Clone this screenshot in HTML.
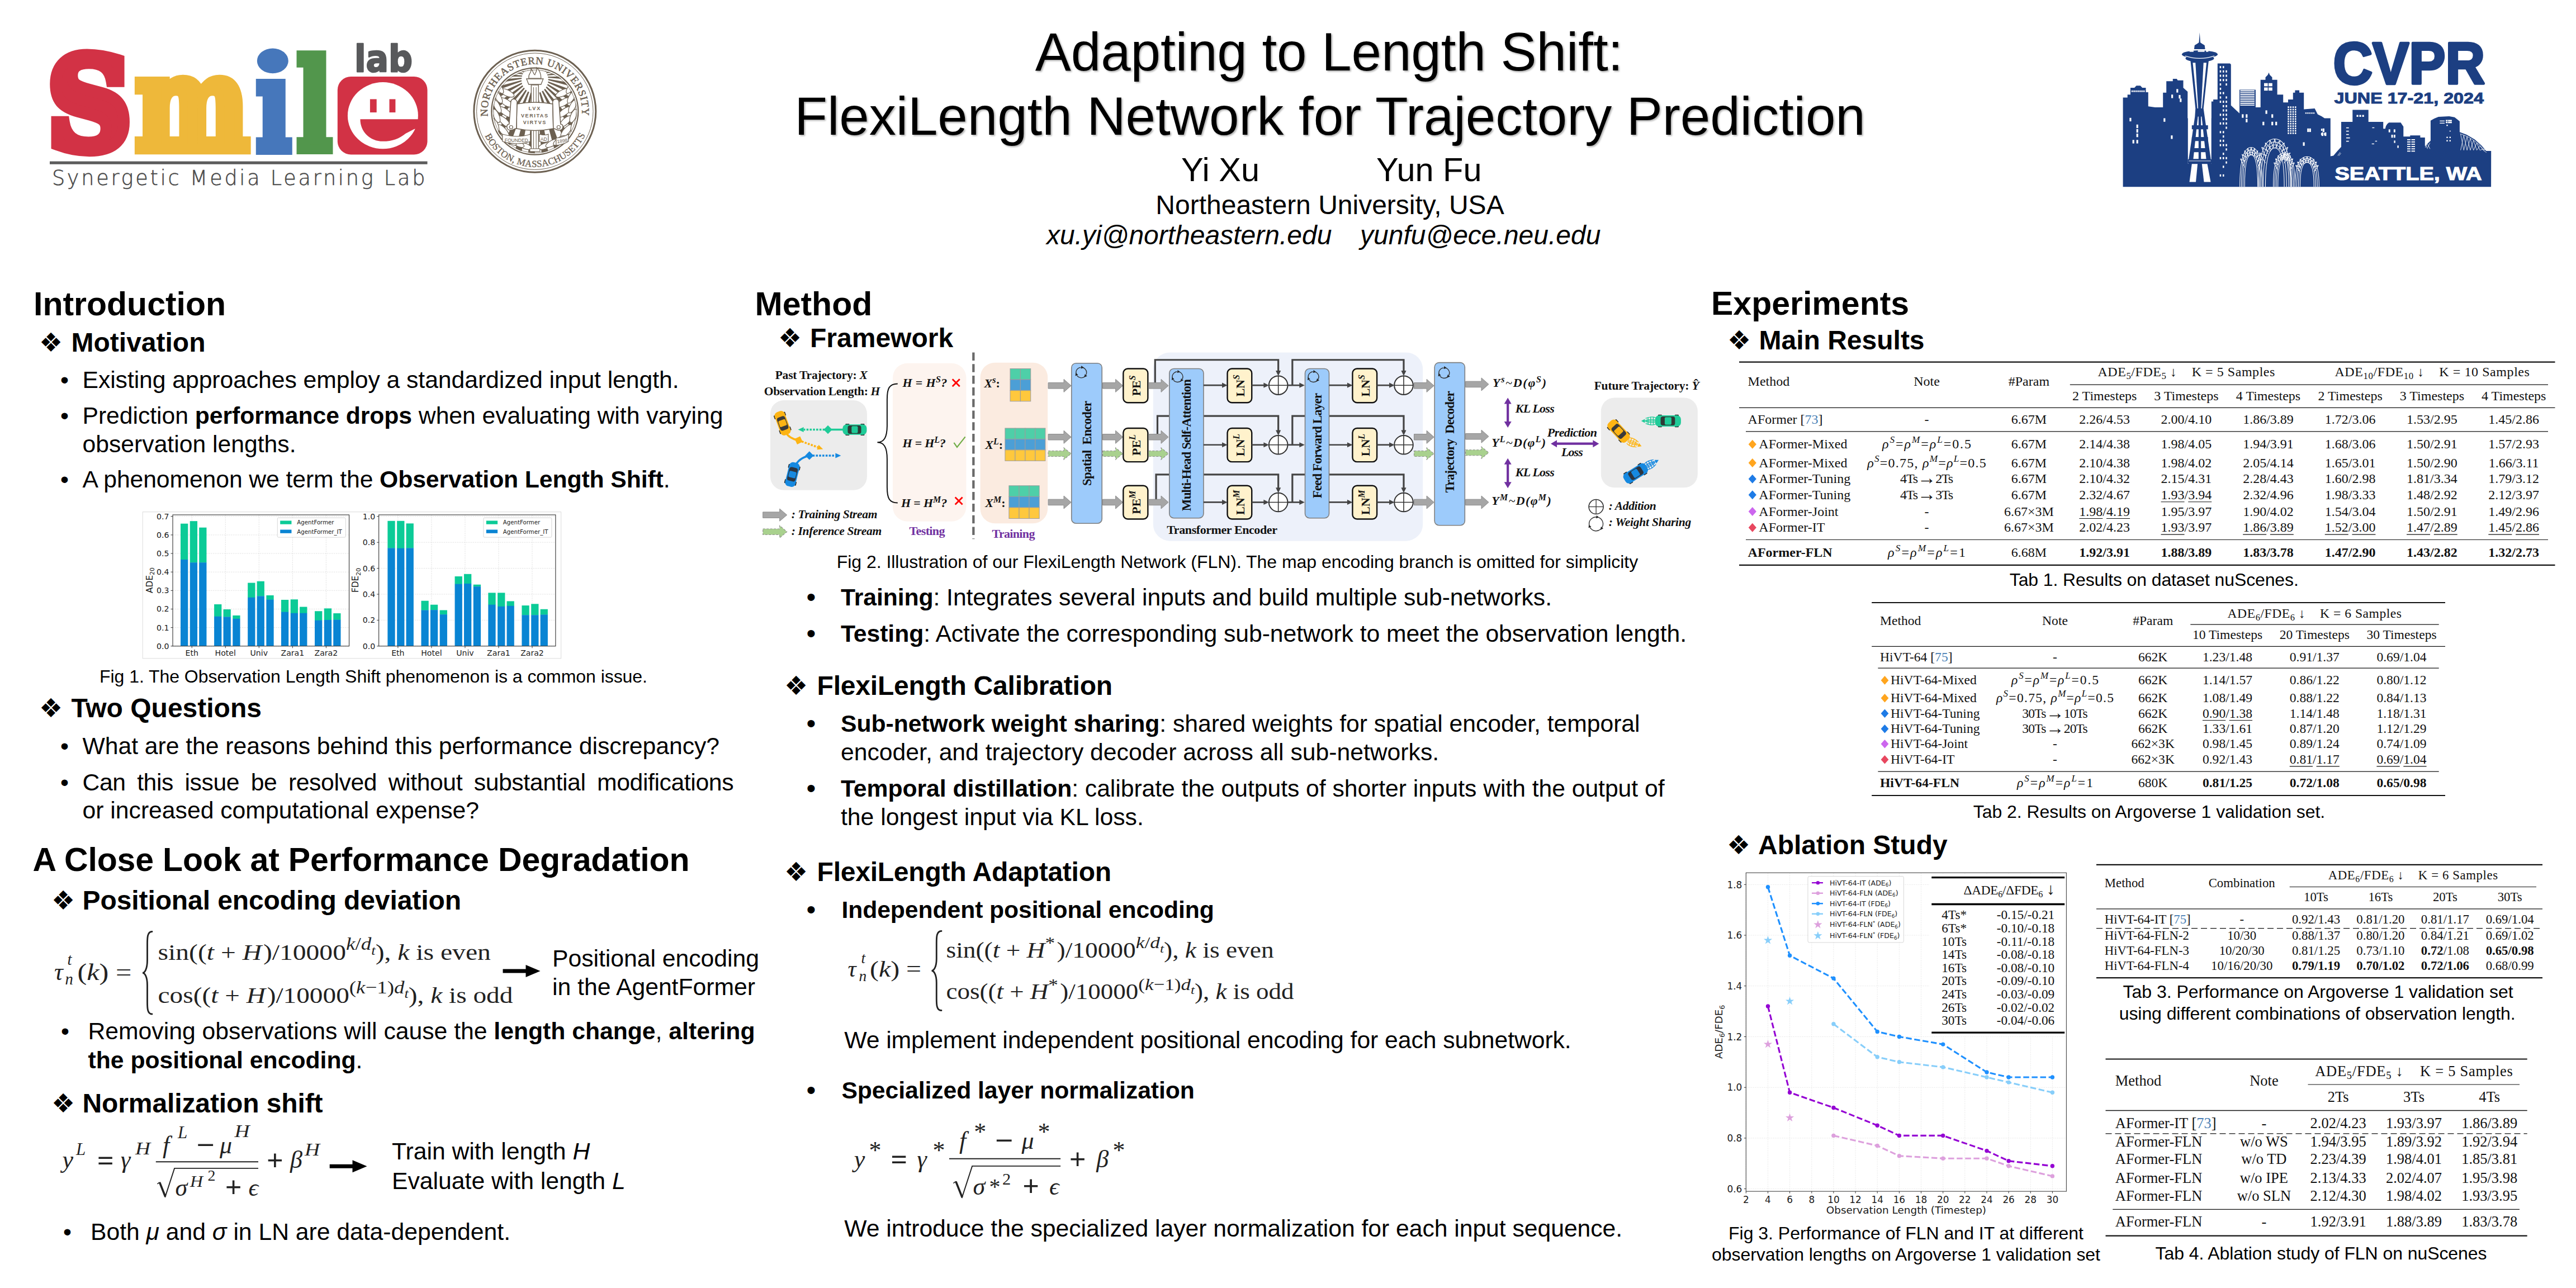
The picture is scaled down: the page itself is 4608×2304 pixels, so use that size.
<!DOCTYPE html>
<html lang="en"><head><meta charset="utf-8"><title>Adapting to Length Shift: FlexiLength Network for Trajectory Prediction</title>
<style>
html,body{margin:0;padding:0;background:#fff}
svg{display:block}
svg{font-family:'Liberation Sans',sans-serif}
text{white-space:pre}
</style></head><body>
<svg width="4608" height="2304" viewBox="0 0 4608 2304">
<defs>
<filter id="tsh" x="-5%" y="-20%" width="110%" height="150%"><feDropShadow dx="2" dy="2" stdDeviation="1.4" flood-color="#000" flood-opacity="0.32"/></filter>
</defs>
<rect width="4608" height="2304" fill="#fff"/>
<g id="text_left">
<text x="2377.5" y="125.5" font-size="96" text-anchor="middle" style="filter:url(#tsh)">Adapting to Length Shift:</text>
<text x="2379" y="241" font-size="96" text-anchor="middle" style="filter:url(#tsh)">FlexiLength Network for Trajectory Prediction</text>
<text x="2113" y="324.3" font-size="59.5">Yi Xu</text>
<text x="2462" y="324.3" font-size="59.5">Yun Fu</text>
<text x="2379" y="382.5" font-size="48" text-anchor="middle">Northeastern University, USA</text>
<text x="1872" y="437" font-size="48" font-style="italic">xu.yi@northeastern.edu</text>
<text x="2433" y="437" font-size="48" font-style="italic">yunfu@ece.neu.edu</text>
<text x="60" y="563.5" font-size="59" font-weight="bold">Introduction</text>
<text x="70" y="628.5" font-size="47" font-family="'DejaVu Sans', sans-serif">❖</text>
<text x="127.5" y="628.5" font-size="48" font-weight="bold">Motivation</text>
<text x="108" y="693.5" font-size="42.7">•</text>
<text x="147.5" y="693.5" font-size="42.7" textLength="1067" lengthAdjust="spacing">Existing approaches employ a standardized input length.</text>
<text x="108" y="758.3" font-size="42.7">•</text>
<text x="147.5" y="758.3" font-size="42.7" textLength="1146" lengthAdjust="spacing">Prediction <tspan font-weight="bold">performance drops</tspan> when evaluating with varying</text>
<text x="147.5" y="808.8" font-size="42.7">observation lengths.</text>
<text x="108" y="872.4" font-size="42.7">•</text>
<text x="147.5" y="872.4" font-size="42.7" textLength="1051" lengthAdjust="spacing">A phenomenon we term the <tspan font-weight="bold">Observation Length Shift</tspan>.</text>
<text x="178" y="1220.8" font-size="32" textLength="980" lengthAdjust="spacing">Fig 1. The Observation Length Shift phenomenon is a common issue.</text>
<text x="70" y="1283" font-size="47" font-family="'DejaVu Sans', sans-serif">❖</text>
<text x="127.5" y="1283" font-size="48" font-weight="bold">Two Questions</text>
<text x="108" y="1348.5" font-size="42.7">•</text>
<text x="147.5" y="1348.5" font-size="42.7" textLength="1139.5" lengthAdjust="spacing">What are the reasons behind this performance discrepancy?</text>
<text x="108" y="1413.7" font-size="42.7">•</text>
<text x="147.5" y="1413.7" font-size="42.7" textLength="1165" lengthAdjust="spacing" word-spacing="9">Can this issue be resolved without substantial modifications</text>
<text x="147.5" y="1464.2" font-size="42.7">or increased computational expense?</text>
<text x="58.5" y="1557.7" font-size="59" font-weight="bold" textLength="1175" lengthAdjust="spacing">A Close Look at Performance Degradation</text>
<text x="92" y="1627.3" font-size="47" font-family="'DejaVu Sans', sans-serif">❖</text>
<text x="147.5" y="1627.3" font-size="48" font-weight="bold" textLength="677.5" lengthAdjust="spacing">Positional encoding deviation</text>
<text x="988" y="1728.7" font-size="42.7" textLength="370" lengthAdjust="spacing">Positional encoding</text>
<text x="988" y="1780.3" font-size="42.7">in the AgentFormer</text>
<text x="109" y="1859" font-size="42.7">•</text>
<text x="157.5" y="1859" font-size="42.7" textLength="1193" lengthAdjust="spacing">Removing observations will cause the <tspan font-weight="bold">length change</tspan>, <tspan font-weight="bold">altering</tspan></text>
<text x="157.5" y="1910.8" font-size="42.7"><tspan font-weight="bold">the positional encoding</tspan>.</text>
<text x="92" y="1989.6" font-size="47" font-family="'DejaVu Sans', sans-serif">❖</text>
<text x="147.5" y="1989.6" font-size="48" font-weight="bold" textLength="430" lengthAdjust="spacing">Normalization shift</text>
<text x="701" y="2073.8" font-size="42.7">Train with length <tspan font-style="italic">H</tspan></text>
<text x="701" y="2126.5" font-size="42.7">Evaluate with length <tspan font-style="italic">L</tspan></text>
<text x="113" y="2217.9" font-size="42.7">•</text>
<text x="162" y="2217.9" font-size="42.7" textLength="751" lengthAdjust="spacing">Both <tspan font-style="italic">μ</tspan> and <tspan font-style="italic">σ</tspan> in LN are data-dependent.</text>
</g>
<g id="text_mid">
<text x="1350.5" y="563.5" font-size="59" font-weight="bold">Method</text>
<text x="1392" y="620.7" font-size="47" font-family="'DejaVu Sans', sans-serif">❖</text>
<text x="1449" y="620.7" font-size="48" font-weight="bold">Framework</text>
<text x="1496.7" y="1015.5" font-size="32" textLength="1433.5" lengthAdjust="spacing">Fig 2. Illustration of our FlexiLength Network (FLN). The map encoding branch is omitted for simplicity</text>
<text x="1442.6" y="1083.9" font-size="48">•</text>
<text x="1504" y="1082.8" font-size="42.7" textLength="1272" lengthAdjust="spacing"><tspan font-weight="bold">Training</tspan>: Integrates several inputs and build multiple sub-networks.</text>
<text x="1442.6" y="1149.4" font-size="48">•</text>
<text x="1504" y="1148.3" font-size="42.7" textLength="1513" lengthAdjust="spacing"><tspan font-weight="bold">Testing</tspan>: Activate the corresponding sub-network to meet the observation length.</text>
<text x="1403" y="1242.8" font-size="47" font-family="'DejaVu Sans', sans-serif">❖</text>
<text x="1461.6" y="1242.8" font-size="48" font-weight="bold" textLength="528.5" lengthAdjust="spacing">FlexiLength Calibration</text>
<text x="1442.6" y="1310.1" font-size="48">•</text>
<text x="1504" y="1309" font-size="42.7" textLength="1429.5" lengthAdjust="spacing"><tspan font-weight="bold">Sub-network weight sharing</tspan>: shared weights for spatial encoder, temporal</text>
<text x="1504" y="1359.7" font-size="42.7">encoder, and trajectory decoder across all sub-networks.</text>
<text x="1442.6" y="1426.3" font-size="48">•</text>
<text x="1504" y="1425.2" font-size="42.7" textLength="1473.5" lengthAdjust="spacing"><tspan font-weight="bold">Temporal distillation</tspan>: calibrate the outputs of shorter inputs with the output of</text>
<text x="1504" y="1475.8" font-size="42.7">the longest input via KL loss.</text>
<text x="1403" y="1576.3" font-size="47" font-family="'DejaVu Sans', sans-serif">❖</text>
<text x="1461.6" y="1576.3" font-size="48" font-weight="bold" textLength="526.5" lengthAdjust="spacing">FlexiLength Adaptation</text>
<text x="1442.6" y="1642.9" font-size="48">•</text>
<text x="1505.4" y="1641.8" font-size="42.7" font-weight="bold" textLength="666.5" lengthAdjust="spacing">Independent positional encoding</text>
<text x="1510.2" y="1874.8" font-size="42.7" textLength="1300.5" lengthAdjust="spacing">We implement independent positional encoding for each subnetwork.</text>
<text x="1442.6" y="1965.7" font-size="48">•</text>
<text x="1505.4" y="1964.6" font-size="42.7" font-weight="bold" textLength="631.5" lengthAdjust="spacing">Specialized layer normalization</text>
<text x="1510.2" y="2212.4" font-size="42.7" textLength="1392" lengthAdjust="spacing">We introduce the specialized layer normalization for each input sequence.</text>
</g>
<g id="text_right">
<text x="3061" y="563.3" font-size="59" font-weight="bold">Experiments</text>
<text x="3090" y="625.2" font-size="47" font-family="'DejaVu Sans', sans-serif">❖</text>
<text x="3146.5" y="625.2" font-size="48" font-weight="bold">Main Results</text>
<text x="3594.8" y="1047.6" font-size="32" textLength="517" lengthAdjust="spacing">Tab 1. Results on dataset nuScenes.</text>
<text x="3529.7" y="1463" font-size="32" textLength="629.5" lengthAdjust="spacing">Tab 2. Results on Argoverse 1 validation set.</text>
<text x="3089" y="1528" font-size="47" font-family="'DejaVu Sans', sans-serif">❖</text>
<text x="3145" y="1528" font-size="48" font-weight="bold">Ablation Study</text>
<text x="3092" y="2216.8" font-size="32" textLength="635" lengthAdjust="spacing">Fig 3. Performance of FLN and IT at different</text>
<text x="3062" y="2255.2" font-size="32" textLength="695" lengthAdjust="spacing">observation lengths on Argoverse 1 validation set</text>
<text x="3797.6" y="1785.4" font-size="32" textLength="698" lengthAdjust="spacing">Tab 3. Performance on Argoverse 1 validation set</text>
<text x="3790.7" y="1824" font-size="32" textLength="709" lengthAdjust="spacing">using different combinations of observation length.</text>
<text x="3855.5" y="2253" font-size="32" textLength="593" lengthAdjust="spacing">Tab 4. Ablation study of FLN on nuScenes</text>
</g>
<g id="logos">
<g transform="translate(85.92,266.23) scale(2.0504,2.2419)"><text x="0" y="0" font-family="'DejaVu Serif', serif" font-weight="bold" font-size="100" fill="#D23245" stroke="#D23245" stroke-width="10" stroke-linejoin="miter">S</text></g>
<g transform="translate(241.96,267.33) scale(1.9231,2.3187)"><text x="0" y="0" font-family="'DejaVu Serif', serif" font-weight="bold" font-size="100" fill="#EEB83A" stroke="#EEB83A" stroke-width="8" stroke-linejoin="miter">m</text></g>
<g transform="translate(458.81,267.53) scale(1.6200,2.2683)"><text x="0" y="0" font-family="'DejaVu Serif', serif" font-weight="bold" font-size="100" fill="#4677BB" stroke="#4677BB" stroke-width="8" stroke-linejoin="miter">ı</text></g>
<ellipse cx="487.8" cy="108.9" rx="28" ry="22.4" fill="#4677BB"/>
<g transform="translate(531.41,266.67) scale(1.6200,2.2059)"><text x="0" y="0" font-family="'DejaVu Serif', serif" font-weight="bold" font-size="100" fill="#52964C" stroke="#52964C" stroke-width="8" stroke-linejoin="miter">l</text></g>
<rect x="603.8" y="136.9" width="160.7" height="139.7" rx="24" fill="#D23245"/>
<ellipse cx="684.9" cy="206.7" rx="63" ry="59.6" fill="#fff"/>
<path d="M644.4,213.2 L756,213.2 L756,227 L740.8,231.1 L725.4,238.9 C715,247.5 702,252.8 684.9,252.8 C662,252.8 644.4,236 644.4,213.2 Z" fill="#D23245"/>
<rect x="661.9" y="177.4" width="11.8" height="23.7" fill="#D23245"/><rect x="696.5" y="177.4" width="10.9" height="23.7" fill="#D23245"/>
<text x="634" y="127.5" font-family="'DejaVu Sans', sans-serif" font-weight="bold" font-size="66" fill="#58595B" stroke="#58595B" stroke-width="2.5" stroke-linejoin="round" textLength="104" lengthAdjust="spacingAndGlyphs">lab</text>
<rect x="89" y="288.6" width="675.5" height="5.2" fill="#5d5d5d"/>
<text x="92.9" y="330.5" font-family="'DejaVu Sans Light','DejaVu Sans',sans-serif" font-weight="200" font-size="36.5" fill="#4a4a4a" stroke="#4a4a4a" stroke-width="0.55" textLength="667.4" lengthAdjust="spacing">Synergetic Media Learning Lab</text>
<circle cx="956.8" cy="199.2" r="109" fill="#fff" stroke="#6C6051" stroke-width="3"/>
<circle cx="956.8" cy="199.2" r="104.2" fill="none" stroke="#6C6051" stroke-width="1"/>
<clipPath id="sealclip"><circle cx="956.8" cy="199.2" r="75"/></clipPath>
<g clip-path="url(#sealclip)"><path d="M956.8,137 L1126.8,137.0 L1126.2,151.8 Z M956.8,137 L1124.2,166.5 L1121.0,181.0 Z M956.8,137 L1116.5,195.1 L1110.9,208.8 Z M956.8,137 L1104.0,222.0 L1096.1,234.5 Z M956.8,137 L1087.0,246.3 L1077.0,257.2 Z M956.8,137 L1066.1,267.2 L1054.3,276.3 Z M956.8,137 L1041.8,284.2 L1028.6,291.1 Z M956.8,137 L1014.9,296.7 L1000.8,301.2 Z M956.8,137 L986.3,304.4 L971.6,306.4 Z M956.8,137 L956.8,307.0 L942.0,306.4 Z M956.8,137 L927.3,304.4 L912.8,301.2 Z M956.8,137 L898.7,296.7 L885.0,291.1 Z M956.8,137 L871.8,284.2 L859.3,276.3 Z M956.8,137 L847.5,267.2 L836.6,257.2 Z M956.8,137 L826.6,246.3 L817.5,234.5 Z M956.8,137 L809.6,222.0 L802.7,208.8 Z M956.8,137 L797.1,195.1 L792.6,181.0 Z M956.8,137 L789.4,166.5 L787.4,151.8 Z M956.8,137 L786.8,137.0 L787.4,122.2 Z M956.8,137 L789.4,107.5 L792.6,93.0 Z M956.8,137 L797.1,78.9 L802.7,65.2 Z M956.8,137 L809.6,52.0 L817.5,39.5 Z M956.8,137 L826.6,27.7 L836.6,16.8 Z M956.8,137 L847.5,6.8 L859.3,-2.3 Z M956.8,137 L871.8,-10.2 L885.0,-17.1 Z M956.8,137 L898.7,-22.7 L912.8,-27.2 Z M956.8,137 L927.3,-30.4 L942.0,-32.4 Z M956.8,137 L956.8,-33.0 L971.6,-32.4 Z M956.8,137 L986.3,-30.4 L1000.8,-27.2 Z M956.8,137 L1014.9,-22.7 L1028.6,-17.1 Z M956.8,137 L1041.8,-10.2 L1054.3,-2.3 Z M956.8,137 L1066.1,6.8 L1077.0,16.8 Z M956.8,137 L1087.0,27.7 L1096.1,39.5 Z M956.8,137 L1104.0,52.0 L1110.9,65.2 Z M956.8,137 L1116.5,78.9 L1121.0,93.0 Z M956.8,137 L1124.2,107.5 L1126.2,122.2 Z" fill="#6C6051"/><circle cx="956.8" cy="143" r="24" fill="#fff"/><ellipse cx="898.8" cy="251.2" rx="14" ry="5.5" fill="#fff" stroke="#6C6051" stroke-width="1.2" transform="rotate(55 898.8 251.2)"/><ellipse cx="884.8" cy="241.2" rx="13" ry="5" fill="#fff" stroke="#6C6051" stroke-width="1.2" transform="rotate(75 884.8 241.2)"/><ellipse cx="900.4" cy="234.2" rx="14" ry="5.5" fill="#fff" stroke="#6C6051" stroke-width="1.2" transform="rotate(49 900.4 234.2)"/><ellipse cx="886.3" cy="224.2" rx="13" ry="5" fill="#fff" stroke="#6C6051" stroke-width="1.2" transform="rotate(71 886.3 224.2)"/><ellipse cx="902.0" cy="217.2" rx="14" ry="5.5" fill="#fff" stroke="#6C6051" stroke-width="1.2" transform="rotate(43 902.0 217.2)"/><ellipse cx="887.8" cy="207.2" rx="13" ry="5" fill="#fff" stroke="#6C6051" stroke-width="1.2" transform="rotate(67 887.8 207.2)"/><ellipse cx="903.6" cy="200.2" rx="14" ry="5.5" fill="#fff" stroke="#6C6051" stroke-width="1.2" transform="rotate(37 903.6 200.2)"/><ellipse cx="889.3" cy="190.2" rx="13" ry="5" fill="#fff" stroke="#6C6051" stroke-width="1.2" transform="rotate(63 889.3 190.2)"/><ellipse cx="905.2" cy="183.2" rx="14" ry="5.5" fill="#fff" stroke="#6C6051" stroke-width="1.2" transform="rotate(31 905.2 183.2)"/><ellipse cx="890.8" cy="173.2" rx="13" ry="5" fill="#fff" stroke="#6C6051" stroke-width="1.2" transform="rotate(59 890.8 173.2)"/><ellipse cx="906.8" cy="166.2" rx="14" ry="5.5" fill="#fff" stroke="#6C6051" stroke-width="1.2" transform="rotate(25 906.8 166.2)"/><ellipse cx="892.3" cy="156.2" rx="13" ry="5" fill="#fff" stroke="#6C6051" stroke-width="1.2" transform="rotate(55 892.3 156.2)"/><ellipse cx="1014.8" cy="251.2" rx="14" ry="5.5" fill="#fff" stroke="#6C6051" stroke-width="1.2" transform="rotate(-55 1014.8 251.2)"/><ellipse cx="1028.8" cy="241.2" rx="13" ry="5" fill="#fff" stroke="#6C6051" stroke-width="1.2" transform="rotate(-75 1028.8 241.2)"/><ellipse cx="1013.2" cy="234.2" rx="14" ry="5.5" fill="#fff" stroke="#6C6051" stroke-width="1.2" transform="rotate(-49 1013.2 234.2)"/><ellipse cx="1027.3" cy="224.2" rx="13" ry="5" fill="#fff" stroke="#6C6051" stroke-width="1.2" transform="rotate(-71 1027.3 224.2)"/><ellipse cx="1011.6" cy="217.2" rx="14" ry="5.5" fill="#fff" stroke="#6C6051" stroke-width="1.2" transform="rotate(-43 1011.6 217.2)"/><ellipse cx="1025.8" cy="207.2" rx="13" ry="5" fill="#fff" stroke="#6C6051" stroke-width="1.2" transform="rotate(-67 1025.8 207.2)"/><ellipse cx="1010.0" cy="200.2" rx="14" ry="5.5" fill="#fff" stroke="#6C6051" stroke-width="1.2" transform="rotate(-37 1010.0 200.2)"/><ellipse cx="1024.3" cy="190.2" rx="13" ry="5" fill="#fff" stroke="#6C6051" stroke-width="1.2" transform="rotate(-63 1024.3 190.2)"/><ellipse cx="1008.4" cy="183.2" rx="14" ry="5.5" fill="#fff" stroke="#6C6051" stroke-width="1.2" transform="rotate(-31 1008.4 183.2)"/><ellipse cx="1022.8" cy="173.2" rx="13" ry="5" fill="#fff" stroke="#6C6051" stroke-width="1.2" transform="rotate(-59 1022.8 173.2)"/><ellipse cx="1006.8" cy="166.2" rx="14" ry="5.5" fill="#fff" stroke="#6C6051" stroke-width="1.2" transform="rotate(-25 1006.8 166.2)"/><ellipse cx="1021.3" cy="156.2" rx="13" ry="5" fill="#fff" stroke="#6C6051" stroke-width="1.2" transform="rotate(-55 1021.3 156.2)"/><ellipse cx="938.8" cy="261.2" rx="13" ry="5" fill="#fff" stroke="#6C6051" stroke-width="1.2" transform="rotate(20 938.8 261.2)"/><ellipse cx="925.8" cy="256.2" rx="13" ry="5" fill="#fff" stroke="#6C6051" stroke-width="1.2" transform="rotate(28 925.8 256.2)"/><ellipse cx="912.8" cy="251.2" rx="13" ry="5" fill="#fff" stroke="#6C6051" stroke-width="1.2" transform="rotate(36 912.8 251.2)"/><ellipse cx="974.8" cy="261.2" rx="13" ry="5" fill="#fff" stroke="#6C6051" stroke-width="1.2" transform="rotate(-20 974.8 261.2)"/><ellipse cx="987.8" cy="256.2" rx="13" ry="5" fill="#fff" stroke="#6C6051" stroke-width="1.2" transform="rotate(-28 987.8 256.2)"/><ellipse cx="1000.8" cy="251.2" rx="13" ry="5" fill="#fff" stroke="#6C6051" stroke-width="1.2" transform="rotate(-36 1000.8 251.2)"/></g>
<circle cx="956.8" cy="199.2" r="77.5" fill="none" stroke="#6C6051" stroke-width="2.2"/>
<circle cx="956.8" cy="199.2" r="74" fill="none" stroke="#6C6051" stroke-width="0.8"/>
<rect x="950.3" y="152" width="13" height="118" fill="#fff" stroke="#6C6051" stroke-width="1.3"/>
<path d="M954.5,156 V268 M959.0999999999999,156 V268" stroke="#6C6051" stroke-width="1"/>
<path d="M941.8,141 H971.8 L967.8,151 H945.8 Z" fill="#fff" stroke="#6C6051" stroke-width="1.3"/>
<path d="M945.8,140 C944.8,130 951.8,131 949.8,123 C954.8,128 953.8,133 956.8,134 C957.8,128 961.8,128 959.8,121 C966.8,127 967.8,134 967.8,140 Z" fill="#fff" stroke="#6C6051" stroke-width="1.2"/>
<rect x="947.8" y="266" width="18" height="5" fill="#fff" stroke="#6C6051" stroke-width="1.1"/>
<path d="M898.8,240 Q926.8,248 948.8,240 V253 Q926.8,261 898.8,253 Z" fill="#fff" stroke="#6C6051" stroke-width="1.2"/>
<path d="M964.8,240 Q974.8,243 980.8,240 V253 Q974.8,256 964.8,253 Z" fill="#fff" stroke="#6C6051" stroke-width="1.2"/>
<path d="M994.8,247 Q1006.8,246 1016.8,240 V253 Q1006.8,259 994.8,260 Z" fill="#fff" stroke="#6C6051" stroke-width="1.2"/>
<text x="923.8" y="254" font-size="8.6" fill="#6C6051" text-anchor="middle" textLength="42" lengthAdjust="spacing">FOUNDED</text>
<text x="972.8" y="252" font-size="8.6" fill="#6C6051" text-anchor="middle">AD</text>
<text x="1005.8" y="255" font-size="8.6" fill="#6C6051" text-anchor="middle" transform="rotate(-8 1005.8 252)">1898</text>
<path d="M924.8,186 Q956.8,180 988.8,186 L989.8,230 Q956.8,237 923.8,230 Z" fill="#fff" stroke="#6C6051" stroke-width="1.5"/>
<path d="M924.8,186 C926.8,176 914.8,174 913.8,182 L910.8,222 C904.8,222 904.8,233 913.8,233 C918.8,233 920.8,229 923.8,230 Z" fill="#fff" stroke="#6C6051" stroke-width="1.5"/>
<circle cx="914.3" cy="227.5" r="3" fill="none" stroke="#6C6051" stroke-width="1.2"/>
<path d="M988.8,186 C986.8,176 998.8,174 999.8,182 L1002.8,222 C1008.8,222 1008.8,233 999.8,233 C994.8,233 992.8,229 989.8,230 Z" fill="#fff" stroke="#6C6051" stroke-width="1.5"/>
<circle cx="999.3" cy="227.5" r="3" fill="none" stroke="#6C6051" stroke-width="1.2"/>
<text x="956.8" y="196.5" font-size="9" fill="#6C6051" text-anchor="middle" font-weight="bold" letter-spacing="2">LVX</text>
<text x="956.8" y="209.5" font-size="9" fill="#6C6051" text-anchor="middle" font-weight="bold" letter-spacing="1.6">VERITAS</text>
<text x="956.8" y="221.5" font-size="9" fill="#6C6051" text-anchor="middle" font-weight="bold" letter-spacing="1.6">VIRTVS</text>
<path id="sealtop" d="M872.76,208.03 A84.5,84.5 0 1 1 1040.84,208.03" fill="none"/>
<text font-family="'Liberation Serif', serif" font-size="18.6" fill="#6C6051" stroke="#6C6051" stroke-width="0.5"><textPath href="#sealtop" textLength="281.2" lengthAdjust="spacing">NORTHEASTERN UNIVERSITY</textPath></text>
<path id="sealbot" d="M867.37,242.82 A99.5,99.5 0 0 0 1047.70,239.67" fill="none"/>
<text font-family="'Liberation Serif', serif" font-size="17" fill="#6C6051" stroke="#6C6051" stroke-width="0.3"><textPath href="#sealbot" textLength="223.8" lengthAdjust="spacing">BOSTON, MASSACHUSETTS</textPath></text>
<polygon points="3797.6,334.2 3797.6,174.5 3805.7,174.5 3805.7,169.2 3811.0,169.2 3811.0,156.9 3818.1,156.9 3821.6,153.3 3828.7,153.3 3832.2,156.9 3838.5,156.9 3838.5,165.0 3842.8,165.0 3842.8,190.3 3855.1,192.1 3869.2,192.1 3869.2,165.7 3875.2,165.7 3875.2,145.2 3886.8,145.2 3886.8,141.0 3893.9,141.0 3895.6,143.8 3905.5,143.8 3905.5,156.9 3913.3,163.9 3913.3,211.5 3955.5,211.5 3955.5,181.5 3959.1,181.5 3959.1,178.0 3966.8,178.0 3966.8,113.5 3989.0,113.5 3990.8,115.3 3990.8,188.6 4006.0,202.7 4006.0,160.4 4034.9,160.4 4034.9,192.1 4043.7,192.1 4043.7,142.8 4052.5,142.8 4052.5,138.2 4056.7,133.9 4058.5,129.7 4060.2,133.9 4064.5,138.2 4064.5,142.8 4073.6,142.8 4073.6,169.2 4084.2,169.2 4084.2,183.3 4093.0,183.3 4093.0,178.0 4101.8,178.0 4101.8,165.7 4105.4,165.7 4105.4,161.4 4113.1,161.4 4113.1,165.7 4121.2,165.7 4121.2,195.6 4140.6,193.9 4145.9,204.4 4152.9,208.0 4158.2,211.5 4168.8,211.5 4168.8,279.6 4174.1,278.4 4181.3,269.9 4188.0,262.7 4188.0,218.1 4208.3,218.1 4208.3,196.5 4236.7,196.5 4236.7,218.1 4263.2,218.1 4263.2,230.2 4266.8,230.2 4268.0,225.4 4270.4,221.8 4273.3,219.3 4294.5,219.3 4296.9,223.0 4299.3,226.6 4299.3,244.2 4311.3,244.2 4311.3,242.2 4329.4,242.2 4329.4,245.9 4337.8,245.9 4337.8,261.5 4342.6,256.7 4347.9,251.8 4347.9,215.8 4354.6,212.1 4361.9,209.0 4381.1,208.0 4390.8,209.7 4395.6,213.4 4399.9,217.0 4399.9,236.2 4412.4,241.0 4426.9,249.5 4438.9,260.3 4447.3,269.9 4456.2,269.9 4456.1,334.2" fill="#1C3F82"/>
<rect x="3913.8" y="174.8" width="41.9" height="117.9" fill="#fff"/>
<polygon points="3934.8,58.1 3936.0,76.1 3938.8,78.0 3943.7,80.9 3944.6,88.1 3924.9,88.1 3925.8,80.9 3930.7,78.0 3933.5,76.1" fill="#1C3F82"/>
<ellipse cx="3935.0" cy="97.3" rx="32.0" ry="7.2" fill="#1C3F82"/>
<ellipse cx="3935.0" cy="104.5" rx="25.5" ry="6.3" fill="#1C3F82"/>
<path d="M3908.8,100.2 Q3935.0,108.6 3961.2,100.2" fill="none" stroke="#fff" stroke-width="1.3"/>
<rect x="3916.7" y="90.3" width="7.2" height="2.4" fill="#fff"/>
<rect x="3931.6" y="90.3" width="12.0" height="2.4" fill="#fff"/>
<rect x="3946.1" y="90.3" width="4.3" height="2.4" fill="#fff"/>
<polygon points="3918.4,108.6 3950.9,108.6 3941.7,194.0 3943.7,208.5 3955.2,287.9 3956.9,326.4 3915.3,326.4 3914.8,287.9 3926.3,208.5 3927.3,194.0" fill="#1C3F82"/>
<polygon points="3922.5,112.2 3927.3,112.2 3932.1,194.0 3930.7,194.0" fill="#fff"/>
<polygon points="3941.7,112.2 3947.0,112.2 3938.8,194.0 3937.4,194.0" fill="#fff"/>
<polygon points="3931.6,208.5 3932.8,208.5 3932.8,284.3 3923.4,284.3" fill="#fff"/>
<polygon points="3937.2,208.5 3938.4,208.5 3946.5,284.3 3937.2,284.3" fill="#fff"/>
<rect x="3920.8" y="224.1" width="28.9" height="7.2" fill="#1C3F82"/>
<rect x="3920.8" y="245.1" width="28.9" height="7.2" fill="#1C3F82"/>
<rect x="3920.8" y="265.0" width="28.9" height="7.2" fill="#1C3F82"/>
<rect x="3913.8" y="285.0" width="42.4" height="7.2" fill="#1C3F82"/>
<line x1="3915.3" x2="3954.7" y1="287.9" y2="287.9" stroke="#fff" stroke-width="0.9"/>
<polygon points="3920.8,293.2 3931.1,293.2 3928.0,325.4 3916.5,325.4" fill="#fff"/>
<polygon points="3938.8,293.2 3948.5,293.2 3954.5,325.4 3942.5,325.4" fill="#fff"/>
<rect x="3970.7" y="118.1" width="2.5" height="3.9" fill="#fff"/>
<rect x="3976.0" y="118.1" width="2.5" height="3.9" fill="#fff"/>
<rect x="3970.7" y="125.8" width="2.5" height="3.9" fill="#fff"/>
<rect x="3976.0" y="125.8" width="2.5" height="3.9" fill="#fff"/>
<rect x="3981.3" y="125.8" width="2.5" height="3.9" fill="#fff"/>
<rect x="3970.7" y="133.6" width="2.5" height="3.9" fill="#fff"/>
<rect x="3976.0" y="133.6" width="2.5" height="3.9" fill="#fff"/>
<rect x="3981.3" y="133.6" width="2.5" height="3.9" fill="#fff"/>
<rect x="3970.7" y="141.3" width="2.5" height="3.9" fill="#fff"/>
<rect x="3976.0" y="141.3" width="2.5" height="3.9" fill="#fff"/>
<rect x="3981.3" y="141.3" width="2.5" height="3.9" fill="#fff"/>
<rect x="3970.7" y="149.1" width="2.5" height="3.9" fill="#fff"/>
<rect x="3981.3" y="149.1" width="2.5" height="3.9" fill="#fff"/>
<rect x="3970.7" y="156.9" width="2.5" height="3.9" fill="#fff"/>
<rect x="3970.7" y="164.6" width="2.5" height="3.9" fill="#fff"/>
<rect x="3976.0" y="164.6" width="2.5" height="3.9" fill="#fff"/>
<rect x="3970.7" y="172.4" width="2.5" height="3.9" fill="#fff"/>
<rect x="3981.3" y="172.4" width="2.5" height="3.9" fill="#fff"/>
<rect x="3970.7" y="180.1" width="2.5" height="3.9" fill="#fff"/>
<rect x="3976.0" y="180.1" width="2.5" height="3.9" fill="#fff"/>
<rect x="3981.3" y="180.1" width="2.5" height="3.9" fill="#fff"/>
<rect x="3976.0" y="187.9" width="2.5" height="3.9" fill="#fff"/>
<rect x="3981.3" y="187.9" width="2.5" height="3.9" fill="#fff"/>
<rect x="3976.0" y="195.6" width="2.5" height="3.9" fill="#fff"/>
<rect x="3981.3" y="195.6" width="2.5" height="3.9" fill="#fff"/>
<rect x="3970.7" y="203.4" width="2.5" height="3.9" fill="#fff"/>
<rect x="3976.0" y="203.4" width="2.5" height="3.9" fill="#fff"/>
<rect x="3981.3" y="203.4" width="2.5" height="3.9" fill="#fff"/>
<rect x="3976.0" y="211.1" width="2.5" height="3.9" fill="#fff"/>
<rect x="3981.3" y="211.1" width="2.5" height="3.9" fill="#fff"/>
<rect x="3970.7" y="218.9" width="2.5" height="3.9" fill="#fff"/>
<rect x="3976.0" y="218.9" width="2.5" height="3.9" fill="#fff"/>
<rect x="3981.3" y="218.9" width="2.5" height="3.9" fill="#fff"/>
<rect x="3981.3" y="226.6" width="2.5" height="3.9" fill="#fff"/>
<rect x="3970.7" y="234.4" width="2.5" height="3.9" fill="#fff"/>
<rect x="3976.0" y="234.4" width="2.5" height="3.9" fill="#fff"/>
<rect x="3976.0" y="242.2" width="2.5" height="3.9" fill="#fff"/>
<rect x="3970.7" y="249.9" width="2.5" height="3.9" fill="#fff"/>
<rect x="3976.0" y="249.9" width="2.5" height="3.9" fill="#fff"/>
<rect x="3970.7" y="257.7" width="2.5" height="3.9" fill="#fff"/>
<rect x="3976.0" y="257.7" width="2.5" height="3.9" fill="#fff"/>
<rect x="3981.3" y="257.7" width="2.5" height="3.9" fill="#fff"/>
<rect x="3981.3" y="265.4" width="2.5" height="3.9" fill="#fff"/>
<rect x="3976.0" y="273.2" width="2.5" height="3.9" fill="#fff"/>
<rect x="3970.7" y="280.9" width="2.5" height="3.9" fill="#fff"/>
<rect x="3976.0" y="280.9" width="2.5" height="3.9" fill="#fff"/>
<rect x="3981.3" y="280.9" width="2.5" height="3.9" fill="#fff"/>
<rect x="3981.3" y="288.7" width="2.5" height="3.9" fill="#fff"/>
<rect x="3976.0" y="296.4" width="2.5" height="3.9" fill="#fff"/>
<rect x="3970.7" y="311.9" width="2.5" height="3.9" fill="#fff"/>
<rect x="3976.0" y="311.9" width="2.5" height="3.9" fill="#fff"/>
<rect x="3809.3" y="210.8" width="3.2" height="6.3" fill="#fff"/>
<rect x="3821.6" y="222.8" width="3.2" height="6.3" fill="#fff"/>
<rect x="3821.6" y="230.9" width="3.2" height="6.3" fill="#fff"/>
<rect x="3821.6" y="239.0" width="3.2" height="6.3" fill="#fff"/>
<rect x="3814.6" y="250.3" width="3.2" height="6.3" fill="#fff"/>
<rect x="3821.6" y="250.3" width="3.2" height="6.3" fill="#fff"/>
<rect x="3870.2" y="211.5" width="3.2" height="6.3" fill="#fff"/>
<rect x="3883.3" y="242.2" width="3.2" height="6.3" fill="#fff"/>
<rect x="3884.0" y="169.2" width="3.2" height="6.3" fill="#fff"/>
<rect x="3893.2" y="159.3" width="3.2" height="6.3" fill="#fff"/>
<rect x="3897.4" y="169.9" width="3.2" height="6.3" fill="#fff"/>
<rect x="3899.2" y="176.2" width="3.2" height="6.3" fill="#fff"/>
<rect x="4010.2" y="204.4" width="3.2" height="6.3" fill="#fff"/>
<rect x="4017.2" y="204.4" width="3.2" height="6.3" fill="#fff"/>
<rect x="4017.2" y="212.5" width="3.2" height="6.3" fill="#fff"/>
<rect x="4047.2" y="217.8" width="3.2" height="6.3" fill="#fff"/>
<rect x="4052.5" y="197.4" width="3.2" height="6.3" fill="#fff"/>
<rect x="4063.1" y="204.4" width="3.2" height="6.3" fill="#fff"/>
<rect x="4063.1" y="217.8" width="3.2" height="6.3" fill="#fff"/>
<rect x="4070.1" y="217.8" width="3.2" height="6.3" fill="#fff"/>
<rect x="4119.5" y="254.5" width="3.2" height="6.3" fill="#fff"/>
<rect x="4127.2" y="229.8" width="3.2" height="6.3" fill="#fff"/>
<rect x="4130.7" y="229.8" width="3.2" height="6.3" fill="#fff"/>
<rect x="4154.7" y="229.8" width="3.2" height="6.3" fill="#fff"/>
<rect x="4152.9" y="236.9" width="3.2" height="6.3" fill="#fff"/>
<rect x="4158.2" y="236.9" width="3.2" height="6.3" fill="#fff"/>
<rect x="3812.8" y="161.8" width="2.5" height="2.8" fill="#fff"/>
<rect x="3816.3" y="161.8" width="2.5" height="2.8" fill="#fff"/>
<rect x="3819.8" y="161.8" width="2.5" height="2.8" fill="#fff"/>
<rect x="3823.4" y="161.8" width="2.5" height="2.8" fill="#fff"/>
<rect x="3826.9" y="161.8" width="2.5" height="2.8" fill="#fff"/>
<rect x="3830.4" y="161.8" width="2.5" height="2.8" fill="#fff"/>
<rect x="3833.9" y="161.8" width="2.5" height="2.8" fill="#fff"/>
<rect x="4123.7" y="201.3" width="2.5" height="2.1" fill="#fff"/>
<rect x="4127.2" y="201.3" width="2.5" height="2.1" fill="#fff"/>
<rect x="4130.7" y="201.3" width="2.5" height="2.1" fill="#fff"/>
<rect x="4134.3" y="201.3" width="2.5" height="2.1" fill="#fff"/>
<rect x="4137.8" y="201.3" width="2.5" height="2.1" fill="#fff"/>
<rect x="4007.4" y="161.4" width="25.4" height="28.2" fill="#fff"/>
<line x1="4007.4" x2="4032.7" y1="164.3" y2="164.3" stroke="#1C3F82" stroke-width="1.4"/>
<line x1="4007.4" x2="4032.7" y1="167.4" y2="167.4" stroke="#1C3F82" stroke-width="1.4"/>
<line x1="4007.4" x2="4032.7" y1="170.6" y2="170.6" stroke="#1C3F82" stroke-width="1.4"/>
<line x1="4007.4" x2="4032.7" y1="173.8" y2="173.8" stroke="#1C3F82" stroke-width="1.4"/>
<line x1="4007.4" x2="4032.7" y1="176.9" y2="176.9" stroke="#1C3F82" stroke-width="1.4"/>
<line x1="4007.4" x2="4032.7" y1="180.1" y2="180.1" stroke="#1C3F82" stroke-width="1.4"/>
<line x1="4007.4" x2="4032.7" y1="183.3" y2="183.3" stroke="#1C3F82" stroke-width="1.4"/>
<line x1="4007.4" x2="4032.7" y1="186.5" y2="186.5" stroke="#1C3F82" stroke-width="1.4"/>
<line x1="4007.4" x2="4032.7" y1="189.6" y2="189.6" stroke="#1C3F82" stroke-width="1.4"/>
<rect x="4050.0" y="148.7" width="6.7" height="5.6" fill="#fff"/>
<rect x="4058.1" y="148.7" width="6.7" height="5.6" fill="#fff"/>
<rect x="4050.0" y="156.5" width="6.7" height="5.6" fill="#fff"/>
<rect x="4058.1" y="156.5" width="6.7" height="5.6" fill="#fff"/>
<rect x="4092.3" y="190.3" width="2.5" height="2.8" fill="#fff"/>
<rect x="4096.5" y="190.3" width="2.5" height="2.8" fill="#fff"/>
<rect x="4100.8" y="190.3" width="2.5" height="2.8" fill="#fff"/>
<rect x="4105.0" y="190.3" width="2.5" height="2.8" fill="#fff"/>
<rect x="4092.3" y="194.6" width="2.5" height="2.8" fill="#fff"/>
<rect x="4096.5" y="194.6" width="2.5" height="2.8" fill="#fff"/>
<rect x="4100.8" y="194.6" width="2.5" height="2.8" fill="#fff"/>
<rect x="4105.0" y="194.6" width="2.5" height="2.8" fill="#fff"/>
<rect x="4092.3" y="198.8" width="2.5" height="2.8" fill="#fff"/>
<rect x="4096.5" y="198.8" width="2.5" height="2.8" fill="#fff"/>
<rect x="4100.8" y="198.8" width="2.5" height="2.8" fill="#fff"/>
<rect x="4105.0" y="198.8" width="2.5" height="2.8" fill="#fff"/>
<rect x="4092.3" y="203.0" width="2.5" height="2.8" fill="#fff"/>
<rect x="4096.5" y="203.0" width="2.5" height="2.8" fill="#fff"/>
<rect x="4100.8" y="203.0" width="2.5" height="2.8" fill="#fff"/>
<rect x="4105.0" y="203.0" width="2.5" height="2.8" fill="#fff"/>
<rect x="4092.3" y="207.3" width="2.5" height="2.8" fill="#fff"/>
<rect x="4096.5" y="207.3" width="2.5" height="2.8" fill="#fff"/>
<rect x="4100.8" y="207.3" width="2.5" height="2.8" fill="#fff"/>
<rect x="4105.0" y="207.3" width="2.5" height="2.8" fill="#fff"/>
<rect x="4092.3" y="211.5" width="2.5" height="2.8" fill="#fff"/>
<rect x="4096.5" y="211.5" width="2.5" height="2.8" fill="#fff"/>
<rect x="4100.8" y="211.5" width="2.5" height="2.8" fill="#fff"/>
<rect x="4105.0" y="211.5" width="2.5" height="2.8" fill="#fff"/>
<rect x="4092.3" y="215.7" width="2.5" height="2.8" fill="#fff"/>
<rect x="4096.5" y="215.7" width="2.5" height="2.8" fill="#fff"/>
<rect x="4100.8" y="215.7" width="2.5" height="2.8" fill="#fff"/>
<rect x="4105.0" y="215.7" width="2.5" height="2.8" fill="#fff"/>
<rect x="4092.3" y="219.9" width="2.5" height="2.8" fill="#fff"/>
<rect x="4096.5" y="219.9" width="2.5" height="2.8" fill="#fff"/>
<rect x="4100.8" y="219.9" width="2.5" height="2.8" fill="#fff"/>
<rect x="4105.0" y="219.9" width="2.5" height="2.8" fill="#fff"/>
<rect x="4092.3" y="224.2" width="2.5" height="2.8" fill="#fff"/>
<rect x="4096.5" y="224.2" width="2.5" height="2.8" fill="#fff"/>
<rect x="4100.8" y="224.2" width="2.5" height="2.8" fill="#fff"/>
<rect x="4105.0" y="224.2" width="2.5" height="2.8" fill="#fff"/>
<rect x="4092.3" y="228.4" width="2.5" height="2.8" fill="#fff"/>
<rect x="4096.5" y="228.4" width="2.5" height="2.8" fill="#fff"/>
<rect x="4100.8" y="228.4" width="2.5" height="2.8" fill="#fff"/>
<rect x="4105.0" y="228.4" width="2.5" height="2.8" fill="#fff"/>
<rect x="4092.3" y="232.6" width="2.5" height="2.8" fill="#fff"/>
<rect x="4096.5" y="232.6" width="2.5" height="2.8" fill="#fff"/>
<rect x="4100.8" y="232.6" width="2.5" height="2.8" fill="#fff"/>
<rect x="4105.0" y="232.6" width="2.5" height="2.8" fill="#fff"/>
<rect x="4092.3" y="236.9" width="2.5" height="2.8" fill="#fff"/>
<rect x="4096.5" y="236.9" width="2.5" height="2.8" fill="#fff"/>
<rect x="4100.8" y="236.9" width="2.5" height="2.8" fill="#fff"/>
<rect x="4105.0" y="236.9" width="2.5" height="2.8" fill="#fff"/>
<rect x="4215.5" y="205.6" width="3.1" height="3.4" fill="#fff"/>
<rect x="4220.5" y="205.6" width="3.1" height="3.4" fill="#fff"/>
<rect x="4225.6" y="205.6" width="3.1" height="3.4" fill="#fff"/>
<rect x="4196.9" y="227.8" width="4.8" height="1.7" fill="#fff"/>
<rect x="4196.9" y="233.8" width="4.8" height="1.7" fill="#fff"/>
<rect x="4196.9" y="239.8" width="4.8" height="1.7" fill="#fff"/>
<rect x="4196.9" y="245.8" width="6.7" height="1.7" fill="#fff"/>
<rect x="4196.9" y="251.8" width="4.8" height="1.7" fill="#fff"/>
<rect x="4243.4" y="227.8" width="3.9" height="1.4" fill="#fff"/>
<rect x="4242.7" y="256.7" width="4.3" height="1.4" fill="#fff"/>
<rect x="4248.7" y="251.8" width="3.4" height="1.4" fill="#fff"/>
<rect x="4272.8" y="231.4" width="2.9" height="5.3" fill="#fff"/>
<rect x="4281.9" y="231.4" width="2.9" height="5.3" fill="#fff"/>
<rect x="4277.6" y="241.0" width="2.9" height="5.3" fill="#fff"/>
<rect x="4281.9" y="241.0" width="2.9" height="5.3" fill="#fff"/>
<rect x="4282.4" y="251.4" width="2.4" height="4.3" fill="#fff"/>
<rect x="4288.4" y="260.3" width="2.4" height="4.3" fill="#fff"/>
<rect x="4364.3" y="215.7" width="8.7" height="1.4" fill="#fff"/>
<rect x="4364.3" y="219.6" width="8.7" height="1.4" fill="#fff"/>
<rect x="4375.1" y="214.5" width="10.8" height="5.8" fill="#fff"/>
<rect x="4376.3" y="223.0" width="2.4" height="2.4" fill="#fff"/>
<rect x="4381.6" y="233.8" width="2.4" height="1.4" fill="#fff"/>
<rect x="4376.3" y="244.6" width="2.4" height="2.4" fill="#fff"/>
<rect x="4381.6" y="244.6" width="2.4" height="2.4" fill="#fff"/>
<rect x="4376.3" y="250.6" width="2.4" height="2.4" fill="#fff"/>
<rect x="4381.6" y="250.6" width="2.4" height="2.4" fill="#fff"/>
<rect x="4151.9" y="230.2" width="2.4" height="3.9" fill="#fff"/>
<rect x="4151.9" y="237.9" width="2.4" height="3.9" fill="#fff"/>
<rect x="4157.2" y="237.9" width="2.9" height="3.9" fill="#fff"/>
<rect x="4306.0" y="249.0" width="14.0" height="1.9" fill="#fff"/>
<rect x="4306.0" y="253.0" width="14.0" height="1.9" fill="#fff"/>
<rect x="4306.0" y="257.1" width="14.0" height="1.9" fill="#fff"/>
<rect x="4306.0" y="261.2" width="14.0" height="1.9" fill="#fff"/>
<rect x="4306.0" y="265.3" width="14.0" height="1.9" fill="#fff"/>
<rect x="4306.0" y="269.4" width="14.0" height="1.9" fill="#fff"/>
<line x1="4312.7" x2="4312.7" y1="248.2" y2="273.5" stroke="#1C3F82" stroke-width="1.6"/>
<path d="M4375.1,217.4 h10.8 M4378.7,214.5 v5.8" stroke="#1C3F82" stroke-width="0.8"/>
<path d="M4401.6,239.7 L4407.3,268.7 M4407.3,242.0 L4401.6,268.7 M4407.3,242.0 L4413.1,268.7 M4413.1,244.3 L4407.3,268.7 M4413.1,244.3 L4418.9,268.7 M4418.9,247.7 L4413.1,268.7 M4418.9,247.7 L4424.7,268.7 M4424.7,251.1 L4418.9,268.7 M4424.7,251.1 L4430.5,268.7 M4430.5,255.6 L4424.7,268.7 M4430.5,255.6 L4436.2,268.7 M4436.2,260.8 L4430.5,268.7 M4436.2,260.8 L4442.0,268.7 M4442.0,266.7 L4436.2,268.7 M4442.0,266.7 L4447.8,268.7 M4447.8,272.8 L4442.0,268.7 M4338.3,263.9 L4342.6,255.5 M4342.6,266.3 L4338.3,257.9 M4342.6,263.9 L4346.9,255.5 M4346.9,266.3 L4342.6,257.9 " stroke="#fff" stroke-width="0.8" fill="none"/>
<path d="M4400.8,239.3 Q4426.8,247.0 4444.2,269.2" stroke="#fff" stroke-width="0.8" fill="none"/>
<path d="M4181.8,278.3 L4186.1,272.3 M4183.7,278.8 L4187.6,274.0" stroke="#fff" stroke-width="0.8" fill="none"/>
<path d="M4006.7,334.2 C4006.7,284.8 4014.4,263.7 4026.9,263.7 C4039.5,263.7 4047.2,284.8 4047.2,334.2 M4009.5,334.2 C4009.5,287.9 4016.1,268.1 4026.9,268.1 C4037.7,268.1 4044.4,287.9 4044.4,334.2 M4012.3,334.2 C4012.3,291.0 4017.9,272.5 4026.9,272.5 C4036.0,272.5 4041.5,291.0 4041.5,334.2 M4015.2,334.2 C4015.2,294.1 4019.6,277.0 4026.9,277.0 C4034.2,277.0 4038.7,294.1 4038.7,334.2 M4007.6,284.1 L4017.0,288.1 M4007.6,284.1 L4015.2,299.2 M4010.5,275.9 L4019.4,282.5 M4010.5,275.9 L4016.0,292.0 M4015.0,269.3 L4022.6,278.7 M4015.0,269.3 L4017.9,285.6 M4020.7,265.1 L4026.2,277.1 M4020.7,265.1 L4020.6,280.7 M4026.9,263.7 L4029.8,277.8 M4026.9,263.7 L4024.0,277.8 M4033.2,265.1 L4033.2,280.7 M4033.2,265.1 L4027.7,277.1 M4038.8,269.3 L4036.0,285.6 M4038.8,269.3 L4031.3,278.7 M4043.3,275.9 L4037.8,292.0 M4043.3,275.9 L4034.4,282.5 M4046.2,284.1 L4038.7,299.2 M4046.2,284.1 L4036.9,288.1 " stroke="#fff" stroke-width="1.1" fill="none"/>
<path d="M4040.1,334.2 C4040.1,274.2 4051.2,248.5 4069.2,248.5 C4087.3,248.5 4098.3,274.2 4098.3,334.2 M4044.2,334.2 C4044.2,278.0 4053.7,253.9 4069.2,253.9 C4084.7,253.9 4094.2,278.0 4094.2,334.2 M4048.3,334.2 C4048.3,281.7 4056.2,259.3 4069.2,259.3 C4082.2,259.3 4090.2,281.7 4090.2,334.2 M4052.4,334.2 C4052.4,285.5 4058.8,264.7 4069.2,264.7 C4079.7,264.7 4086.1,285.5 4086.1,334.2 M4041.6,273.4 L4055.0,278.2 M4041.6,273.4 L4052.4,291.7 M4045.7,263.3 L4058.5,271.4 M4045.7,263.3 L4053.5,282.9 M4052.1,255.4 L4063.0,266.8 M4052.1,255.4 L4056.2,275.2 M4060.2,250.3 L4068.1,264.8 M4060.2,250.3 L4060.2,269.2 M4069.2,248.5 L4073.4,265.7 M4069.2,248.5 L4065.1,265.7 M4078.2,250.3 L4078.2,269.2 M4078.2,250.3 L4070.3,264.8 M4086.3,255.4 L4082.2,275.2 M4086.3,255.4 L4075.5,266.8 M4092.7,263.3 L4084.9,282.9 M4092.7,263.3 L4080.0,271.4 M4096.9,273.4 L4086.1,291.7 M4096.9,273.4 L4083.5,278.2 " stroke="#fff" stroke-width="1.1" fill="none"/>
<path d="M4066.6,334.2 C4066.6,291.5 4073.9,273.2 4086.0,273.2 C4098.0,273.2 4105.4,291.5 4105.4,334.2 M4069.3,334.2 C4069.3,294.2 4075.6,277.0 4086.0,277.0 C4096.3,277.0 4102.6,294.2 4102.6,334.2 M4072.0,334.2 C4072.0,296.8 4077.3,280.9 4086.0,280.9 C4094.6,280.9 4099.9,296.8 4099.9,334.2 M4074.7,334.2 C4074.7,299.5 4079.0,284.7 4086.0,284.7 C4092.9,284.7 4097.2,299.5 4097.2,334.2 M4067.5,290.9 L4076.5,294.3 M4067.5,290.9 L4074.7,303.9 M4070.3,283.7 L4078.8,289.5 M4070.3,283.7 L4075.5,297.7 M4074.6,278.1 L4081.8,286.2 M4074.6,278.1 L4077.3,292.2 M4080.0,274.4 L4085.2,284.8 M4080.0,274.4 L4080.0,287.9 M4086.0,273.2 L4088.7,285.4 M4086.0,273.2 L4083.2,285.4 M4092.0,274.4 L4092.0,287.9 M4092.0,274.4 L4086.7,284.8 M4097.4,278.1 L4094.6,292.2 M4097.4,278.1 L4090.1,286.2 M4101.6,283.7 L4096.4,297.7 M4101.6,283.7 L4093.1,289.5 M4104.4,290.9 L4097.2,303.9 M4104.4,290.9 L4095.5,294.3 " stroke="#fff" stroke-width="1.1" fill="none"/>
<path d="M4105.4,334.2 C4105.4,296.4 4113.5,280.2 4126.9,280.2 C4140.2,280.2 4148.4,296.4 4148.4,334.2 M4108.4,334.2 C4108.4,298.8 4115.4,283.6 4126.9,283.6 C4138.3,283.6 4145.3,298.8 4145.3,334.2 M4111.4,334.2 C4111.4,301.2 4117.3,287.0 4126.9,287.0 C4136.5,287.0 4142.3,301.2 4142.3,334.2 M4114.4,334.2 C4114.4,303.5 4119.1,290.4 4126.9,290.4 C4134.6,290.4 4139.3,303.5 4139.3,334.2 M4106.4,295.9 L4116.3,298.9 M4106.4,295.9 L4114.4,307.4 M4109.5,289.6 L4118.9,294.6 M4109.5,289.6 L4115.3,301.9 M4114.2,284.5 L4122.2,291.7 M4114.2,284.5 L4117.3,297.0 M4120.2,281.3 L4126.1,290.5 M4120.2,281.3 L4120.2,293.3 M4126.9,280.2 L4129.9,291.0 M4126.9,280.2 L4123.8,291.0 M4133.5,281.3 L4133.5,293.3 M4133.5,281.3 L4127.7,290.5 M4139.5,284.5 L4136.5,297.0 M4139.5,284.5 L4131.5,291.7 M4144.2,289.6 L4138.4,301.9 M4144.2,289.6 L4134.8,294.6 M4147.3,295.9 L4139.3,307.4 M4147.3,295.9 L4137.4,298.9 " stroke="#fff" stroke-width="1.1" fill="none"/>
<text x="4173.4" y="150.4" font-size="105.8" font-weight="bold" fill="#1C3F82" stroke="#1C3F82" stroke-width="4.4" stroke-linejoin="round" textLength="271.8" lengthAdjust="spacingAndGlyphs">CVPR</text>
<text x="4175.6" y="184.7" font-size="27.4" font-weight="bold" fill="#1C3F82" stroke="#1C3F82" stroke-width="1" textLength="267.4" lengthAdjust="spacingAndGlyphs">JUNE 17-21, 2024</text>
<text x="4176.4" y="322" font-size="33.6" font-weight="bold" fill="#fff" stroke="#fff" stroke-width="1.1" textLength="263.2" lengthAdjust="spacingAndGlyphs">SEATTLE, WA</text>
</g>
<g id="chart1">
<rect x="255.206" y="915.723" width="748.428" height="262.055" fill="#fff" stroke="#dcdcdc" stroke-width="1"/>
<line x1="309.015" x2="624.528" y1="1155.77" y2="1155.77" stroke="#d9d9d9" stroke-width="0.7" stroke-dasharray="2.5 1.5"/>
<line x1="309.015" x2="624.528" y1="1122.62" y2="1122.62" stroke="#d9d9d9" stroke-width="0.7" stroke-dasharray="2.5 1.5"/>
<line x1="309.015" x2="624.528" y1="1089.48" y2="1089.48" stroke="#d9d9d9" stroke-width="0.7" stroke-dasharray="2.5 1.5"/>
<line x1="309.015" x2="624.528" y1="1056.33" y2="1056.33" stroke="#d9d9d9" stroke-width="0.7" stroke-dasharray="2.5 1.5"/>
<line x1="309.015" x2="624.528" y1="1023.19" y2="1023.19" stroke="#d9d9d9" stroke-width="0.7" stroke-dasharray="2.5 1.5"/>
<line x1="309.015" x2="624.528" y1="990.042" y2="990.042" stroke="#d9d9d9" stroke-width="0.7" stroke-dasharray="2.5 1.5"/>
<line x1="309.015" x2="624.528" y1="956.897" y2="956.897" stroke="#d9d9d9" stroke-width="0.7" stroke-dasharray="2.5 1.5"/>
<line x1="309.015" x2="624.528" y1="923.753" y2="923.753" stroke="#d9d9d9" stroke-width="0.7" stroke-dasharray="2.5 1.5"/>
<line x1="343.256" x2="343.256" y1="920.964" y2="1155.77" stroke="#d9d9d9" stroke-width="0.7" stroke-dasharray="2.5 1.5"/>
<line x1="403.284" x2="403.284" y1="920.964" y2="1155.77" stroke="#d9d9d9" stroke-width="0.7" stroke-dasharray="2.5 1.5"/>
<line x1="463.312" x2="463.312" y1="920.964" y2="1155.77" stroke="#d9d9d9" stroke-width="0.7" stroke-dasharray="2.5 1.5"/>
<line x1="523.34" x2="523.34" y1="920.964" y2="1155.77" stroke="#d9d9d9" stroke-width="0.7" stroke-dasharray="2.5 1.5"/>
<line x1="583.368" x2="583.368" y1="920.964" y2="1155.77" stroke="#d9d9d9" stroke-width="0.7" stroke-dasharray="2.5 1.5"/>
<rect x="322.991" y="936.688" width="13.2774" height="64.5907" fill="#0BCB97"/>
<rect x="322.991" y="1000.98" width="13.2774" height="154.787" fill="#0984D3"/>
<rect x="339.762" y="932.145" width="13.2774" height="74.3741" fill="#0BCB97"/>
<rect x="339.762" y="1006.22" width="13.2774" height="149.546" fill="#0984D3"/>
<rect x="356.184" y="943.676" width="13.2774" height="62.8437" fill="#0BCB97"/>
<rect x="356.184" y="1006.22" width="13.2774" height="149.546" fill="#0984D3"/>
<rect x="383.089" y="1080.99" width="13.2774" height="21.9632" fill="#0BCB97"/>
<rect x="383.089" y="1102.66" width="13.2774" height="53.1097" fill="#0984D3"/>
<rect x="399.511" y="1090.08" width="13.2774" height="13.5774" fill="#0BCB97"/>
<rect x="399.511" y="1103.35" width="13.2774" height="52.4109" fill="#0984D3"/>
<rect x="416.282" y="1100.91" width="13.2774" height="6.2399" fill="#0BCB97"/>
<rect x="416.282" y="1106.85" width="13.2774" height="48.9168" fill="#0984D3"/>
<rect x="443.187" y="1042.56" width="13.2774" height="26.5055" fill="#0BCB97"/>
<rect x="443.187" y="1068.76" width="13.2774" height="87.0021" fill="#0984D3"/>
<rect x="459.609" y="1039.76" width="13.2774" height="26.8549" fill="#0BCB97"/>
<rect x="459.609" y="1066.32" width="13.2774" height="89.4479" fill="#0984D3"/>
<rect x="476.38" y="1064.92" width="13.2774" height="7.98693" fill="#0BCB97"/>
<rect x="476.38" y="1072.61" width="13.2774" height="83.1586" fill="#0984D3"/>
<rect x="502.935" y="1072.96" width="13.2774" height="21.9632" fill="#0BCB97"/>
<rect x="502.935" y="1094.62" width="13.2774" height="61.1461" fill="#0984D3"/>
<rect x="519.706" y="1072.26" width="13.2774" height="24.7584" fill="#0BCB97"/>
<rect x="519.706" y="1096.72" width="13.2774" height="59.0496" fill="#0984D3"/>
<rect x="536.129" y="1085.53" width="13.2774" height="11.481" fill="#0BCB97"/>
<rect x="536.129" y="1096.72" width="13.2774" height="59.0496" fill="#0984D3"/>
<rect x="563.033" y="1093.22" width="13.2774" height="16.7221" fill="#0BCB97"/>
<rect x="563.033" y="1109.64" width="13.2774" height="46.1216" fill="#0984D3"/>
<rect x="579.804" y="1088.33" width="13.2774" height="20.915" fill="#0BCB97"/>
<rect x="579.804" y="1108.94" width="13.2774" height="46.8204" fill="#0984D3"/>
<rect x="596.226" y="1097.06" width="13.2774" height="11.8304" fill="#0BCB97"/>
<rect x="596.226" y="1108.6" width="13.2774" height="47.1698" fill="#0984D3"/>
<rect x="309.015" y="920.964" width="315.514" height="234.801" fill="none" stroke="#333" stroke-width="1.1"/>
<line x1="305.515" x2="309.015" y1="1155.77" y2="1155.77" stroke="#333" stroke-width="1"/>
<text x="302.515" y="1160.77" font-size="14.1" font-family="'DejaVu Sans', sans-serif" fill="#1a1a1a" text-anchor="end">0.0</text>
<line x1="305.515" x2="309.015" y1="1122.62" y2="1122.62" stroke="#333" stroke-width="1"/>
<text x="302.515" y="1127.62" font-size="14.1" font-family="'DejaVu Sans', sans-serif" fill="#1a1a1a" text-anchor="end">0.1</text>
<line x1="305.515" x2="309.015" y1="1089.48" y2="1089.48" stroke="#333" stroke-width="1"/>
<text x="302.515" y="1094.48" font-size="14.1" font-family="'DejaVu Sans', sans-serif" fill="#1a1a1a" text-anchor="end">0.2</text>
<line x1="305.515" x2="309.015" y1="1056.33" y2="1056.33" stroke="#333" stroke-width="1"/>
<text x="302.515" y="1061.33" font-size="14.1" font-family="'DejaVu Sans', sans-serif" fill="#1a1a1a" text-anchor="end">0.3</text>
<line x1="305.515" x2="309.015" y1="1023.19" y2="1023.19" stroke="#333" stroke-width="1"/>
<text x="302.515" y="1028.19" font-size="14.1" font-family="'DejaVu Sans', sans-serif" fill="#1a1a1a" text-anchor="end">0.4</text>
<line x1="305.515" x2="309.015" y1="990.042" y2="990.042" stroke="#333" stroke-width="1"/>
<text x="302.515" y="995.042" font-size="14.1" font-family="'DejaVu Sans', sans-serif" fill="#1a1a1a" text-anchor="end">0.5</text>
<line x1="305.515" x2="309.015" y1="956.897" y2="956.897" stroke="#333" stroke-width="1"/>
<text x="302.515" y="961.897" font-size="14.1" font-family="'DejaVu Sans', sans-serif" fill="#1a1a1a" text-anchor="end">0.6</text>
<line x1="305.515" x2="309.015" y1="923.753" y2="923.753" stroke="#333" stroke-width="1"/>
<text x="302.515" y="928.753" font-size="14.1" font-family="'DejaVu Sans', sans-serif" fill="#1a1a1a" text-anchor="end">0.7</text>
<line x1="343.256" x2="343.256" y1="1155.77" y2="1159.27" stroke="#333" stroke-width="1"/>
<text x="343.256" y="1173.24" font-size="14.1" font-family="'DejaVu Sans', sans-serif" fill="#1a1a1a" text-anchor="middle">Eth</text>
<line x1="403.284" x2="403.284" y1="1155.77" y2="1159.27" stroke="#333" stroke-width="1"/>
<text x="403.284" y="1173.24" font-size="14.1" font-family="'DejaVu Sans', sans-serif" fill="#1a1a1a" text-anchor="middle">Hotel</text>
<line x1="463.312" x2="463.312" y1="1155.77" y2="1159.27" stroke="#333" stroke-width="1"/>
<text x="463.312" y="1173.24" font-size="14.1" font-family="'DejaVu Sans', sans-serif" fill="#1a1a1a" text-anchor="middle">Univ</text>
<line x1="523.34" x2="523.34" y1="1155.77" y2="1159.27" stroke="#333" stroke-width="1"/>
<text x="523.34" y="1173.24" font-size="14.1" font-family="'DejaVu Sans', sans-serif" fill="#1a1a1a" text-anchor="middle">Zara1</text>
<line x1="583.368" x2="583.368" y1="1155.77" y2="1159.27" stroke="#333" stroke-width="1"/>
<text x="583.368" y="1173.24" font-size="14.1" font-family="'DejaVu Sans', sans-serif" fill="#1a1a1a" text-anchor="middle">Zara2</text>
<text transform="translate(272.676,1038.02) rotate(-90)" font-family="'DejaVu Sans', sans-serif" font-size="15.4" fill="#1a1a1a" text-anchor="middle">ADE<tspan font-size="10.8" dy="3.4">20</tspan></text>
<rect x="496.296" y="926.205" width="121.943" height="34.9406" rx="2" fill="#fff" fill-opacity="0.8" stroke="#ccc" stroke-width="0.8"/>
<rect x="501.188" y="931.447" width="20.2655" height="6.28931" fill="#0BCB97"/>
<rect x="501.188" y="947.519" width="20.2655" height="6.28931" fill="#0984D3"/>
<text x="531.237" y="938.435" font-size="10.2" font-family="'DejaVu Sans', sans-serif" fill="#1a1a1a">AgentFormer</text>
<text x="531.237" y="954.857" font-size="10.2" font-family="'DejaVu Sans', sans-serif" fill="#1a1a1a">AgentFormer_IT</text>
<line x1="677.638" x2="993.85" y1="1155.77" y2="1155.77" stroke="#d9d9d9" stroke-width="0.7" stroke-dasharray="2.5 1.5"/>
<line x1="677.638" x2="993.85" y1="1109.36" y2="1109.36" stroke="#d9d9d9" stroke-width="0.7" stroke-dasharray="2.5 1.5"/>
<line x1="677.638" x2="993.85" y1="1062.96" y2="1062.96" stroke="#d9d9d9" stroke-width="0.7" stroke-dasharray="2.5 1.5"/>
<line x1="677.638" x2="993.85" y1="1016.56" y2="1016.56" stroke="#d9d9d9" stroke-width="0.7" stroke-dasharray="2.5 1.5"/>
<line x1="677.638" x2="993.85" y1="970.161" y2="970.161" stroke="#d9d9d9" stroke-width="0.7" stroke-dasharray="2.5 1.5"/>
<line x1="677.638" x2="993.85" y1="923.76" y2="923.76" stroke="#d9d9d9" stroke-width="0.7" stroke-dasharray="2.5 1.5"/>
<line x1="711.88" x2="711.88" y1="920.964" y2="1155.77" stroke="#d9d9d9" stroke-width="0.7" stroke-dasharray="2.5 1.5"/>
<line x1="771.908" x2="771.908" y1="920.964" y2="1155.77" stroke="#d9d9d9" stroke-width="0.7" stroke-dasharray="2.5 1.5"/>
<line x1="831.936" x2="831.936" y1="920.964" y2="1155.77" stroke="#d9d9d9" stroke-width="0.7" stroke-dasharray="2.5 1.5"/>
<line x1="891.964" x2="891.964" y1="920.964" y2="1155.77" stroke="#d9d9d9" stroke-width="0.7" stroke-dasharray="2.5 1.5"/>
<line x1="951.992" x2="951.992" y1="920.964" y2="1155.77" stroke="#d9d9d9" stroke-width="0.7" stroke-dasharray="2.5 1.5"/>
<rect x="693.361" y="931.796" width="13.2774" height="48.8674" fill="#0BCB97"/>
<rect x="693.361" y="980.363" width="13.2774" height="175.402" fill="#0984D3"/>
<rect x="710.133" y="931.796" width="13.2774" height="49.2168" fill="#0BCB97"/>
<rect x="710.133" y="980.713" width="13.2774" height="175.052" fill="#0984D3"/>
<rect x="726.555" y="936.338" width="13.2774" height="44.3252" fill="#0BCB97"/>
<rect x="726.555" y="980.363" width="13.2774" height="175.402" fill="#0984D3"/>
<rect x="753.459" y="1074.7" width="13.2774" height="17.0715" fill="#0BCB97"/>
<rect x="753.459" y="1091.47" width="13.2774" height="64.2907" fill="#0984D3"/>
<rect x="769.881" y="1081.69" width="13.2774" height="9.73396" fill="#0BCB97"/>
<rect x="769.881" y="1091.13" width="13.2774" height="64.6401" fill="#0984D3"/>
<rect x="786.653" y="1091.47" width="13.2774" height="7.98693" fill="#0BCB97"/>
<rect x="786.653" y="1099.16" width="13.2774" height="56.6038" fill="#0984D3"/>
<rect x="813.557" y="1031.03" width="13.2774" height="13.9268" fill="#0BCB97"/>
<rect x="813.557" y="1044.65" width="13.2774" height="111.111" fill="#0984D3"/>
<rect x="829.979" y="1026.83" width="13.2774" height="17.4209" fill="#0BCB97"/>
<rect x="829.979" y="1043.96" width="13.2774" height="111.81" fill="#0984D3"/>
<rect x="846.751" y="1045.7" width="13.2774" height="3.79406" fill="#0BCB97"/>
<rect x="846.751" y="1049.2" width="13.2774" height="106.569" fill="#0984D3"/>
<rect x="873.305" y="1060.38" width="13.2774" height="21.6138" fill="#0BCB97"/>
<rect x="873.305" y="1081.69" width="13.2774" height="74.0741" fill="#0984D3"/>
<rect x="890.077" y="1060.38" width="13.2774" height="24.7584" fill="#0BCB97"/>
<rect x="890.077" y="1084.84" width="13.2774" height="70.9294" fill="#0984D3"/>
<rect x="906.499" y="1075.4" width="13.2774" height="8.68574" fill="#0BCB97"/>
<rect x="906.499" y="1083.79" width="13.2774" height="71.9776" fill="#0984D3"/>
<rect x="933.403" y="1083.09" width="13.2774" height="17.4209" fill="#0BCB97"/>
<rect x="933.403" y="1100.21" width="13.2774" height="55.5556" fill="#0984D3"/>
<rect x="950.175" y="1080.29" width="13.2774" height="20.2161" fill="#0BCB97"/>
<rect x="950.175" y="1100.21" width="13.2774" height="55.5556" fill="#0984D3"/>
<rect x="966.597" y="1089.73" width="13.2774" height="10.0834" fill="#0BCB97"/>
<rect x="966.597" y="1099.51" width="13.2774" height="56.2544" fill="#0984D3"/>
<rect x="677.638" y="920.964" width="316.212" height="234.801" fill="none" stroke="#333" stroke-width="1.1"/>
<line x1="674.138" x2="677.638" y1="1155.77" y2="1155.77" stroke="#333" stroke-width="1"/>
<text x="671.138" y="1160.77" font-size="14.1" font-family="'DejaVu Sans', sans-serif" fill="#1a1a1a" text-anchor="end">0.0</text>
<line x1="674.138" x2="677.638" y1="1109.36" y2="1109.36" stroke="#333" stroke-width="1"/>
<text x="671.138" y="1114.36" font-size="14.1" font-family="'DejaVu Sans', sans-serif" fill="#1a1a1a" text-anchor="end">0.2</text>
<line x1="674.138" x2="677.638" y1="1062.96" y2="1062.96" stroke="#333" stroke-width="1"/>
<text x="671.138" y="1067.96" font-size="14.1" font-family="'DejaVu Sans', sans-serif" fill="#1a1a1a" text-anchor="end">0.4</text>
<line x1="674.138" x2="677.638" y1="1016.56" y2="1016.56" stroke="#333" stroke-width="1"/>
<text x="671.138" y="1021.56" font-size="14.1" font-family="'DejaVu Sans', sans-serif" fill="#1a1a1a" text-anchor="end">0.6</text>
<line x1="674.138" x2="677.638" y1="970.161" y2="970.161" stroke="#333" stroke-width="1"/>
<text x="671.138" y="975.161" font-size="14.1" font-family="'DejaVu Sans', sans-serif" fill="#1a1a1a" text-anchor="end">0.8</text>
<line x1="674.138" x2="677.638" y1="923.76" y2="923.76" stroke="#333" stroke-width="1"/>
<text x="671.138" y="928.76" font-size="14.1" font-family="'DejaVu Sans', sans-serif" fill="#1a1a1a" text-anchor="end">1.0</text>
<line x1="711.88" x2="711.88" y1="1155.77" y2="1159.27" stroke="#333" stroke-width="1"/>
<text x="711.88" y="1173.24" font-size="14.1" font-family="'DejaVu Sans', sans-serif" fill="#1a1a1a" text-anchor="middle">Eth</text>
<line x1="771.908" x2="771.908" y1="1155.77" y2="1159.27" stroke="#333" stroke-width="1"/>
<text x="771.908" y="1173.24" font-size="14.1" font-family="'DejaVu Sans', sans-serif" fill="#1a1a1a" text-anchor="middle">Hotel</text>
<line x1="831.936" x2="831.936" y1="1155.77" y2="1159.27" stroke="#333" stroke-width="1"/>
<text x="831.936" y="1173.24" font-size="14.1" font-family="'DejaVu Sans', sans-serif" fill="#1a1a1a" text-anchor="middle">Univ</text>
<line x1="891.964" x2="891.964" y1="1155.77" y2="1159.27" stroke="#333" stroke-width="1"/>
<text x="891.964" y="1173.24" font-size="14.1" font-family="'DejaVu Sans', sans-serif" fill="#1a1a1a" text-anchor="middle">Zara1</text>
<line x1="951.992" x2="951.992" y1="1155.77" y2="1159.27" stroke="#333" stroke-width="1"/>
<text x="951.992" y="1173.24" font-size="14.1" font-family="'DejaVu Sans', sans-serif" fill="#1a1a1a" text-anchor="middle">Zara2</text>
<text transform="translate(641.3,1038.02) rotate(-90)" font-family="'DejaVu Sans', sans-serif" font-size="15.4" fill="#1a1a1a" text-anchor="middle">FDE<tspan font-size="10.8" dy="3.4">20</tspan></text>
<rect x="864.92" y="926.205" width="121.943" height="34.9406" rx="2" fill="#fff" fill-opacity="0.8" stroke="#ccc" stroke-width="0.8"/>
<rect x="869.811" y="931.447" width="20.2655" height="6.28931" fill="#0BCB97"/>
<rect x="869.811" y="947.519" width="20.2655" height="6.28931" fill="#0984D3"/>
<text x="899.86" y="938.435" font-size="10.2" font-family="'DejaVu Sans', sans-serif" fill="#1a1a1a">AgentFormer</text>
<text x="899.86" y="954.857" font-size="10.2" font-family="'DejaVu Sans', sans-serif" fill="#1a1a1a">AgentFormer_IT</text>
</g>
<g id="formulas">
<text x="97" y="1753" font-size="44" font-family="'Liberation Serif', serif" fill="#222" font-style="italic">τ</text>
<text x="120.5" y="1726" font-size="28.7" font-family="'Liberation Serif', serif" fill="#222" font-style="italic">t</text>
<text x="116.5" y="1761" font-size="28.7" font-family="'Liberation Serif', serif" fill="#222" font-style="italic">n</text>
<text x="138.4" y="1753" font-size="43" font-family="'Liberation Serif', serif" fill="#222" textLength="97" lengthAdjust="spacingAndGlyphs">(<tspan font-style="italic">k</tspan>) =</text>
<path d="M272,1666.5 C263.5,1666.5 263.5,1677.56 263.5,1688.62 L263.5,1718.12 C263.5,1734.35 258.4,1740.25 255,1740.25 C258.4,1740.25 263.5,1746.15 263.5,1762.38 L263.5,1791.88 C263.5,1802.94 263.5,1814 272,1814" fill="none" stroke="#222" stroke-width="2.8" stroke-linecap="round"/>
<text x="282.6" y="1716.7" font-size="41" font-family="'Liberation Serif', serif" fill="#222" textLength="595.2" lengthAdjust="spacingAndGlyphs">sin((<tspan font-style="italic">t</tspan> + <tspan font-style="italic">H<tspan font-size="10"> </tspan></tspan>)/10000<tspan font-size="31.98" dy="-17.22"><tspan font-style="italic">k</tspan>/<tspan font-style="italic">d</tspan></tspan><tspan font-size="22.96" dy="8.036" font-style="italic">t</tspan><tspan dy="9.184">), <tspan font-style="italic">k</tspan> is even</tspan></text>
<text x="282.6" y="1794" font-size="41" font-family="'Liberation Serif', serif" fill="#222" textLength="634.8" lengthAdjust="spacingAndGlyphs">cos((<tspan font-style="italic">t</tspan> + <tspan font-style="italic">H<tspan font-size="10"> </tspan></tspan>)/10000<tspan font-size="31.98" dy="-17.22">(<tspan font-style="italic">k</tspan>−1)<tspan font-style="italic">d</tspan></tspan><tspan font-size="22.96" dy="8.036" font-style="italic">t</tspan><tspan dy="9.184">), <tspan font-style="italic">k</tspan> is odd</tspan></text>
<line x1="899.5" y1="1737" x2="942.5" y2="1737" stroke="#000" stroke-width="7"/><polygon points="966.5,1737 940.5,1726 940.5,1748" fill="#000"/>
<text x="111.4" y="2088.5" font-size="44" font-family="'Liberation Serif', serif" fill="#222" font-style="italic">y</text>
<text x="136" y="2065.7" font-size="31" font-family="'Liberation Serif', serif" fill="#222" font-style="italic">L</text>
<text x="174.5" y="2092.5" font-size="50" font-family="'Liberation Serif', serif" fill="#222" stroke="#222" stroke-width="1.1">=</text>
<text x="216" y="2088.5" font-size="44" font-family="'Liberation Serif', serif" fill="#222" font-style="italic">γ</text>
<text x="242" y="2064.6" font-size="31" font-family="'Liberation Serif', serif" fill="#222" font-style="italic" textLength="27" lengthAdjust="spacingAndGlyphs">H</text>
<line x1="278.8" x2="462" y1="2078.2" y2="2078.2" stroke="#222" stroke-width="2"/>
<text x="291" y="2063" font-size="44" font-family="'Liberation Serif', serif" fill="#222" font-style="italic">f</text>
<text x="318" y="2035.8" font-size="31" font-family="'Liberation Serif', serif" fill="#222" font-style="italic">L</text>
<text x="352" y="2065" font-size="50" font-family="'Liberation Serif', serif" fill="#222" stroke="#222" stroke-width="1.1" textLength="31" lengthAdjust="spacingAndGlyphs">−</text>
<text x="393" y="2063" font-size="44" font-family="'Liberation Serif', serif" fill="#222" font-style="italic">μ</text>
<text x="419.6" y="2034" font-size="31" font-family="'Liberation Serif', serif" fill="#222" font-style="italic" textLength="27" lengthAdjust="spacingAndGlyphs">H</text>
<path d="M281.4,2117.9 L285.5,2114.8" fill="none" stroke="#222" stroke-width="1.6"/><path d="M285.5,2114.8 L295.7,2140.5" fill="none" stroke="#222" stroke-width="3.6" stroke-linecap="butt"/><path d="M295.2,2141.9 L312.1,2089.9 L462,2089.9" fill="none" stroke="#222" stroke-width="1.9" stroke-linejoin="miter"/>
<text x="313.5" y="2139" font-size="44" font-family="'Liberation Serif', serif" fill="#222" font-style="italic">σ</text>
<text x="340" y="2122.7" font-size="28.52" font-family="'Liberation Serif', serif" fill="#222" font-style="italic" textLength="23" lengthAdjust="spacingAndGlyphs">H</text>
<text x="371.5" y="2111.9" font-size="27.9" font-family="'Liberation Serif', serif" fill="#222">2</text>
<text x="403.5" y="2141" font-size="50" font-family="'Liberation Serif', serif" fill="#222" stroke="#222" stroke-width="1.1">+</text>
<text x="444.6" y="2139" font-size="44" font-family="'Liberation Serif', serif" fill="#222" font-style="italic">ϵ</text>
<text x="477.8" y="2092.5" font-size="50" font-family="'Liberation Serif', serif" fill="#222" stroke="#222" stroke-width="1.1">+</text>
<text x="519" y="2088.5" font-size="44" font-family="'Liberation Serif', serif" fill="#222" font-style="italic">β</text>
<text x="545" y="2066.8" font-size="31" font-family="'Liberation Serif', serif" fill="#222" font-style="italic" textLength="27" lengthAdjust="spacingAndGlyphs">H</text>
<line x1="589.7" y1="2086.3" x2="632.5" y2="2086.3" stroke="#000" stroke-width="7"/><polygon points="656.5,2086.3 630.5,2075.3 630.5,2097.3" fill="#000"/>
<text x="1516.5" y="1747" font-size="42" font-family="'Liberation Serif', serif" fill="#222" font-style="italic">τ</text>
<text x="1540.6" y="1722.8" font-size="27.3" font-family="'Liberation Serif', serif" fill="#222" font-style="italic">t</text>
<text x="1536.5" y="1755" font-size="27.3" font-family="'Liberation Serif', serif" fill="#222" font-style="italic">n</text>
<text x="1556" y="1747" font-size="41" font-family="'Liberation Serif', serif" fill="#222" textLength="92" lengthAdjust="spacingAndGlyphs">(<tspan font-style="italic">k</tspan>) =</text>
<path d="M1684,1665.5 C1675.25,1665.5 1675.25,1676.15 1675.25,1686.8 L1675.25,1715.2 C1675.25,1730.82 1670,1736.5 1666.5,1736.5 C1670,1736.5 1675.25,1742.18 1675.25,1757.8 L1675.25,1786.2 C1675.25,1796.85 1675.25,1807.5 1684,1807.5" fill="none" stroke="#222" stroke-width="2.8" stroke-linecap="round"/>
<text x="1692.5" y="1712.7" font-size="39" font-family="'Liberation Serif', serif" fill="#222" textLength="586.2" lengthAdjust="spacingAndGlyphs">sin((<tspan font-style="italic">t</tspan> + <tspan font-style="italic">H<tspan font-size="30.42" dy="-16.38" font-style="normal">*</tspan><tspan dy="16.38" font-size="11.7"> </tspan></tspan>)/10000<tspan font-size="30.42" dy="-16.38"><tspan font-style="italic">k</tspan>/<tspan font-style="italic">d</tspan></tspan><tspan font-size="21.84" dy="7.644" font-style="italic">t</tspan><tspan dy="8.736">), <tspan font-style="italic">k</tspan> is even</tspan></text>
<text x="1692.5" y="1787" font-size="39" font-family="'Liberation Serif', serif" fill="#222" textLength="622" lengthAdjust="spacingAndGlyphs">cos((<tspan font-style="italic">t</tspan> + <tspan font-style="italic">H<tspan font-size="30.42" dy="-16.38" font-style="normal">*</tspan><tspan dy="16.38" font-size="11.7"> </tspan></tspan>)/10000<tspan font-size="30.42" dy="-16.38">(<tspan font-style="italic">k</tspan>−1)<tspan font-style="italic">d</tspan></tspan><tspan font-size="21.84" dy="7.644" font-style="italic">t</tspan><tspan dy="8.736">), <tspan font-style="italic">k</tspan> is odd</tspan></text>
<text x="1527.7" y="2087.5" font-size="44" font-family="'Liberation Serif', serif" fill="#222" font-style="italic">y</text>
<text x="1554.5" y="2071.5" font-size="44" font-family="'Liberation Serif', serif" fill="#222">*</text>
<text x="1594" y="2091" font-size="50" font-family="'Liberation Serif', serif" fill="#222" stroke="#222" stroke-width="1.1">=</text>
<text x="1640.5" y="2087.5" font-size="44" font-family="'Liberation Serif', serif" fill="#222" font-style="italic">γ</text>
<text x="1668.5" y="2071.5" font-size="44" font-family="'Liberation Serif', serif" fill="#222">*</text>
<line x1="1697.9" x2="1897.1" y1="2072.7" y2="2072.7" stroke="#222" stroke-width="2"/>
<text x="1716" y="2055.1" font-size="44" font-family="'Liberation Serif', serif" fill="#222" font-style="italic">f</text>
<text x="1742.3" y="2039" font-size="44" font-family="'Liberation Serif', serif" fill="#222">*</text>
<text x="1780.5" y="2057" font-size="50" font-family="'Liberation Serif', serif" fill="#222" stroke="#222" stroke-width="1.1" textLength="31" lengthAdjust="spacingAndGlyphs">−</text>
<text x="1827.6" y="2055.1" font-size="44" font-family="'Liberation Serif', serif" fill="#222" font-style="italic">μ</text>
<text x="1856.5" y="2039" font-size="44" font-family="'Liberation Serif', serif" fill="#222">*</text>
<path d="M1705.33,2116.7 L1709.84,2113.29" fill="none" stroke="#222" stroke-width="1.6"/><path d="M1709.84,2113.29 L1721.06,2141.56" fill="none" stroke="#222" stroke-width="3.6" stroke-linecap="butt"/><path d="M1720.51,2143.1 L1739.1,2085.9 L1897.1,2085.9" fill="none" stroke="#222" stroke-width="1.9" stroke-linejoin="miter"/>
<text x="1740.5" y="2136.8" font-size="44" font-family="'Liberation Serif', serif" fill="#222" font-style="italic">σ</text>
<text x="1769.5" y="2135.5" font-size="40" font-family="'Liberation Serif', serif" fill="#222">*</text>
<text x="1793" y="2119" font-size="30.38" font-family="'Liberation Serif', serif" fill="#222">2</text>
<text x="1830" y="2139" font-size="50" font-family="'Liberation Serif', serif" fill="#222" stroke="#222" stroke-width="1.1">+</text>
<text x="1876.9" y="2136.8" font-size="44" font-family="'Liberation Serif', serif" fill="#222" font-style="italic">ϵ</text>
<text x="1913.5" y="2091" font-size="50" font-family="'Liberation Serif', serif" fill="#222" stroke="#222" stroke-width="1.1">+</text>
<text x="1961.3" y="2087.5" font-size="44" font-family="'Liberation Serif', serif" fill="#222" font-style="italic">β</text>
<text x="1990.5" y="2071.5" font-size="44" font-family="'Liberation Serif', serif" fill="#222">*</text>
</g>
<g id="framework">
<rect x="2062.78" y="630.482" width="482.431" height="337.171" rx="30" fill="#EDF1FA"/>
<rect x="1597.03" y="649.699" width="131.374" height="283.014" rx="26" fill="#FDF4EF"/>
<rect x="1753.56" y="648.651" width="120.543" height="287.556" rx="26" fill="#FBEBE0"/>
<text x="1386.69" y="677.651" font-size="21.5" font-family="'Liberation Serif', serif" font-weight="bold" fill="#111" textLength="165.266" lengthAdjust="spacing">Past Trajectory: <tspan font-style="italic">X</tspan></text>
<text x="1366.77" y="706.651" font-size="21.5" font-family="'Liberation Serif', serif" font-weight="bold" fill="#111" textLength="207.544" lengthAdjust="spacing">Observation Length: <tspan font-style="italic">H</tspan></text>
<rect x="1377.95" y="716.085" width="172.953" height="160.724" rx="24" fill="#ECECEC"/>
<line x1="1481.03" y1="768.495" x2="1514.22" y2="768.495" stroke="#1FCB98" stroke-width="3.6"/>
<line x1="1481.03" y1="768.495" x2="1437.6" y2="768.5" stroke="#1FCB98" stroke-width="3.6" stroke-dasharray="3.6 2.2"/><polygon points="1427.6,768.5 1437.6,764.0 1437.6,773.0" fill="#1FCB98"/>
<rect x="-5.4" y="-5.4" width="10.8" height="10.8" fill="#1FCB98" transform="translate(1481.03,768.495) rotate(45)"/>
<g transform="translate(1528.89,768.495) rotate(180)"><rect x="-17.5" y="-10.55" width="7" height="21.1" rx="1" fill="#2b2b2b"/><rect x="9.5" y="-10.55" width="7" height="21.1" rx="1" fill="#2b2b2b"/><rect x="-21.5" y="-9.25" width="43" height="18.5" rx="7" fill="#1FCB98"/><rect x="-11.61" y="-7.4" width="24.08" height="14.8" rx="4" fill="#2f3a36"/><rect x="-5.59" y="-6.29" width="11.18" height="12.58" rx="2" fill="#1FCB98"/></g>
<path d="M1405.9,773.736 Q1411.14,784.218 1428.62,787.712" fill="none" stroke="#FDB414" stroke-width="3.6"/>
<line x1="1428.62" y1="787.712" x2="1462.9" y2="800.0" stroke="#FDB414" stroke-width="3.6" stroke-dasharray="3.6 2.2"/><polygon points="1472.3,803.4 1461.4,804.3 1464.4,795.8" fill="#FDB414"/>
<rect x="-5.4" y="-5.4" width="10.8" height="10.8" fill="#FDB414" transform="translate(1428.62,787.712) rotate(65)"/>
<g transform="translate(1399.96,756.965) rotate(70)"><rect x="-18" y="-10.8" width="7" height="21.6" rx="1" fill="#2b2b2b"/><rect x="10" y="-10.8" width="7" height="21.6" rx="1" fill="#2b2b2b"/><rect x="-22" y="-9.5" width="44" height="19" rx="7" fill="#FDB414"/><rect x="-11.88" y="-7.6" width="24.64" height="15.2" rx="4" fill="#3a3a3a"/><rect x="-5.72" y="-6.46" width="11.44" height="12.92" rx="2" fill="#FDB414"/></g>
<path d="M1421.63,834.881 Q1428.62,819.158 1447.83,814.965" fill="none" stroke="#1689E0" stroke-width="3.6"/>
<line x1="1447.83" y1="814.965" x2="1494.4" y2="815.0" stroke="#1689E0" stroke-width="3.6" stroke-dasharray="3.6 2.2"/><polygon points="1504.4,815.0 1494.4,819.5 1494.4,810.5" fill="#1689E0"/>
<rect x="-5.4" y="-5.4" width="10.8" height="10.8" fill="#1689E0" transform="translate(1447.83,814.965) rotate(45)"/>
<g transform="translate(1417.43,848.857) rotate(-76)"><rect x="-18" y="-10.8" width="7" height="21.6" rx="1" fill="#2b2b2b"/><rect x="10" y="-10.8" width="7" height="21.6" rx="1" fill="#2b2b2b"/><rect x="-22" y="-9.5" width="44" height="19" rx="7" fill="#1689E0"/><rect x="-11.88" y="-7.6" width="24.64" height="15.2" rx="4" fill="#2d3540"/><rect x="-5.72" y="-6.46" width="11.44" height="12.92" rx="2" fill="#1689E0"/></g>
<polygon points="1364.7,915.9 1394.7,915.9 1394.7,910.2 1407.7,921.2 1394.7,932.2 1394.7,926.4 1364.7,926.4" fill="#A6A6A6" stroke="#8c8c8c" stroke-width="1"/>
<text x="1415.69" y="927.472" font-size="21.5" font-family="'Liberation Serif', serif" font-weight="bold" font-style="italic" fill="#111" textLength="153.736" lengthAdjust="spacing">: Training Stream</text>
<polygon points="1364.7,946.0 1394.7,946.0 1394.7,940.2 1407.7,951.2 1394.7,962.2 1394.7,956.5 1364.7,956.5" fill="#A9D18E" stroke="#8f8f8f" stroke-width="1.1" stroke-dasharray="4 2.5"/>
<text x="1415.69" y="957.171" font-size="21.5" font-family="'Liberation Serif', serif" font-weight="bold" font-style="italic" fill="#111" textLength="161.423" lengthAdjust="spacing">: Inference Stream</text>
<path d="M1605.76,686.386 C1590.89,686.386 1586.89,694.386 1586.89,714.386 L1586.89,761.206 C1586.89,783.206 1580.89,791.206 1569.42,791.206 C1580.89,791.206 1586.89,799.206 1586.89,821.206 L1586.89,871.52 C1586.89,891.52 1590.89,899.52 1605.76,899.52" fill="none" stroke="#111" stroke-width="2"/>
<text x="1614.5" y="691.627" font-size="22" font-family="'Liberation Serif', serif" font-weight="bold" fill="#111" textLength="79.6632" lengthAdjust="spacing"><tspan font-style="italic">H</tspan> = <tspan font-style="italic">H</tspan><tspan font-style="italic" font-size="16" dy="-8">S</tspan><tspan dy="8" font-style="italic">?</tspan></text>
<text x="1614.5" y="799.941" font-size="22" font-family="'Liberation Serif', serif" font-weight="bold" fill="#111" textLength="77.2174" lengthAdjust="spacing"><tspan font-style="italic">H</tspan> = <tspan font-style="italic">H</tspan><tspan font-style="italic" font-size="16" dy="-8">L</tspan><tspan dy="8" font-style="italic">?</tspan></text>
<text x="1612.05" y="906.508" font-size="22" font-family="'Liberation Serif', serif" font-weight="bold" fill="#111" textLength="82.109" lengthAdjust="spacing"><tspan font-style="italic">H</tspan> = <tspan font-style="italic">H</tspan><tspan font-style="italic" font-size="16" dy="-8">M</tspan><tspan dy="8" font-style="italic">?</tspan></text>
<path d="M1703.73,678.139 L1716.73,691.139 M1716.73,678.139 L1703.73,691.139" stroke="#FF0000" stroke-width="2.8" fill="none"/>
<path d="M1708.62,889.526 L1721.62,902.526 M1721.62,889.526 L1708.62,902.526" stroke="#FF0000" stroke-width="2.8" fill="none"/>
<path d="M1706.39,791.905 L1711.98,799.941 L1726.65,781.423" stroke="#70AD47" stroke-width="2.2" fill="none"/>
<text x="1658.52" y="957.171" font-size="22" font-family="'Liberation Serif', serif" font-weight="bold" fill="#7030A0" text-anchor="middle" textLength="63.9402" lengthAdjust="spacing">Testing</text>
<line x1="1741.33" y1="630.482" x2="1741.33" y2="964.159" stroke="#6a6a6a" stroke-width="4.3" stroke-dasharray="14.5 6.3"/>
<text x="1760.55" y="693.374" font-size="22" font-family="'Liberation Serif', serif" font-weight="bold" fill="#111"><tspan font-style="italic">X</tspan><tspan font-style="italic" font-size="16" dy="-8">s</tspan><tspan dy="8">:</tspan></text>
<text x="1762.29" y="803.435" font-size="22" font-family="'Liberation Serif', serif" font-weight="bold" fill="#111"><tspan font-style="italic">X</tspan><tspan font-style="italic" font-size="16" dy="-8">L</tspan><tspan dy="8">:</tspan></text>
<text x="1762.29" y="907.207" font-size="22" font-family="'Liberation Serif', serif" font-weight="bold" fill="#111"><tspan font-style="italic">X</tspan><tspan font-style="italic" font-size="16" dy="-8">M</tspan><tspan dy="8">:</tspan></text>
<rect x="1807.0" y="659.5" width="18.3" height="19.4" fill="#4ECFA8" stroke="#9c9c9c" stroke-width="1"/><rect x="1825.4" y="659.5" width="18.3" height="19.4" fill="#4ECFA8" stroke="#9c9c9c" stroke-width="1"/><rect x="1807.0" y="678.9" width="18.3" height="19.4" fill="#4C9FD6" stroke="#9c9c9c" stroke-width="1"/><rect x="1825.4" y="678.9" width="18.3" height="19.4" fill="#4C9FD6" stroke="#9c9c9c" stroke-width="1"/><rect x="1807.0" y="698.4" width="18.3" height="19.4" fill="#FFC83D" stroke="#9c9c9c" stroke-width="1"/><rect x="1825.4" y="698.4" width="18.3" height="19.4" fill="#FFC83D" stroke="#9c9c9c" stroke-width="1"/>
<rect x="1797.9" y="766.0" width="18.0" height="19.4" fill="#4ECFA8" stroke="#9c9c9c" stroke-width="1"/><rect x="1815.9" y="766.0" width="18.0" height="19.4" fill="#4ECFA8" stroke="#9c9c9c" stroke-width="1"/><rect x="1833.9" y="766.0" width="18.0" height="19.4" fill="#4ECFA8" stroke="#9c9c9c" stroke-width="1"/><rect x="1851.9" y="766.0" width="18.0" height="19.4" fill="#4ECFA8" stroke="#9c9c9c" stroke-width="1"/><rect x="1797.9" y="785.5" width="18.0" height="19.4" fill="#4C9FD6" stroke="#9c9c9c" stroke-width="1"/><rect x="1815.9" y="785.5" width="18.0" height="19.4" fill="#4C9FD6" stroke="#9c9c9c" stroke-width="1"/><rect x="1833.9" y="785.5" width="18.0" height="19.4" fill="#4C9FD6" stroke="#9c9c9c" stroke-width="1"/><rect x="1851.9" y="785.5" width="18.0" height="19.4" fill="#4C9FD6" stroke="#9c9c9c" stroke-width="1"/><rect x="1797.9" y="804.9" width="18.0" height="19.4" fill="#FFC83D" stroke="#9c9c9c" stroke-width="1"/><rect x="1815.9" y="804.9" width="18.0" height="19.4" fill="#FFC83D" stroke="#9c9c9c" stroke-width="1"/><rect x="1833.9" y="804.9" width="18.0" height="19.4" fill="#FFC83D" stroke="#9c9c9c" stroke-width="1"/><rect x="1851.9" y="804.9" width="18.0" height="19.4" fill="#FFC83D" stroke="#9c9c9c" stroke-width="1"/>
<rect x="1804.9" y="868.8" width="18.1" height="19.6" fill="#4ECFA8" stroke="#9c9c9c" stroke-width="1"/><rect x="1823.0" y="868.8" width="18.1" height="19.6" fill="#4ECFA8" stroke="#9c9c9c" stroke-width="1"/><rect x="1841.0" y="868.8" width="18.1" height="19.6" fill="#4ECFA8" stroke="#9c9c9c" stroke-width="1"/><rect x="1804.9" y="888.3" width="18.1" height="19.6" fill="#4C9FD6" stroke="#9c9c9c" stroke-width="1"/><rect x="1823.0" y="888.3" width="18.1" height="19.6" fill="#4C9FD6" stroke="#9c9c9c" stroke-width="1"/><rect x="1841.0" y="888.3" width="18.1" height="19.6" fill="#4C9FD6" stroke="#9c9c9c" stroke-width="1"/><rect x="1804.9" y="907.9" width="18.1" height="19.6" fill="#FFC83D" stroke="#9c9c9c" stroke-width="1"/><rect x="1823.0" y="907.9" width="18.1" height="19.6" fill="#FFC83D" stroke="#9c9c9c" stroke-width="1"/><rect x="1841.0" y="907.9" width="18.1" height="19.6" fill="#FFC83D" stroke="#9c9c9c" stroke-width="1"/>
<text x="1812.95" y="961.713" font-size="22" font-family="'Liberation Serif', serif" font-weight="bold" fill="#7030A0" text-anchor="middle" textLength="76.868" lengthAdjust="spacing">Training</text>
<path d="M2066.27,689.88 L2066.27,643.759 L2286.65,643.759 L2286.65,664.381" fill="none" stroke="#444" stroke-width="3.2"/><polygon points="2286.65,672.381 2282.05,662.881 2291.25,662.881" fill="#444"/>
<path d="M2311.81,689.181 L2311.81,643.759 L2510.97,643.759 L2510.97,664.381" fill="none" stroke="#444" stroke-width="3.2"/><polygon points="2510.97,672.381 2506.37,662.881 2515.57,662.881" fill="#444"/>
<path d="M2070.46,781.772 L2070.46,744.037 L2286.65,744.037 L2286.65,770.948" fill="none" stroke="#444" stroke-width="3.2"/><polygon points="2286.65,778.948 2282.05,769.448 2291.25,769.448" fill="#444"/>
<path d="M2311.81,795.748 L2311.81,744.037 L2510.97,744.037 L2510.97,770.948" fill="none" stroke="#444" stroke-width="3.2"/><polygon points="2510.97,778.948 2506.37,769.448 2515.57,769.448" fill="#444"/>
<path d="M2068.02,898.472 L2068.02,848.857 L2286.65,848.857 L2286.65,873.672" fill="none" stroke="#444" stroke-width="3.2"/><polygon points="2286.65,881.672 2282.05,872.172 2291.25,872.172" fill="#444"/>
<path d="M2311.81,898.472 L2311.81,848.857 L2510.97,848.857 L2510.97,873.672" fill="none" stroke="#444" stroke-width="3.2"/><polygon points="2510.97,881.672 2506.37,872.172 2515.57,872.172" fill="#444"/>
<polygon points="1875.1,684.6 1903.0,684.6 1903.0,678.4 1916.0,689.9 1903.0,701.4 1903.0,695.1 1875.1,695.1" fill="#A6A6A6" stroke="#8c8c8c" stroke-width="1"/>
<polygon points="1875.1,776.5 1903.0,776.5 1903.0,770.3 1916.0,781.8 1903.0,793.3 1903.0,787.0 1875.1,787.0" fill="#A6A6A6" stroke="#8c8c8c" stroke-width="1"/>
<polygon points="1875.1,893.2 1903.0,893.2 1903.0,887.0 1916.0,898.5 1903.0,910.0 1903.0,903.7 1875.1,903.7" fill="#A6A6A6" stroke="#8c8c8c" stroke-width="1"/>
<polygon points="1875.1,806.5 1903.0,806.5 1903.0,801.0 1916.0,811.5 1903.0,822.0 1903.0,816.5 1875.1,816.5" fill="#A9D18E" stroke="#8f8f8f" stroke-width="1.1" stroke-dasharray="4 2.5"/>
<rect x="1916.73" y="649.699" width="54.5064" height="286.508" rx="8" fill="#9DCBFB" stroke="#7f7f7f" stroke-width="1.6"/><text transform="translate(1951.57,792.953) rotate(-90)" text-anchor="middle" font-family="'Liberation Serif', serif" font-weight="bold" font-size="23" fill="#111" textLength="152" lengthAdjust="spacing">Spatial  Encoder</text>
<circle cx="1934.2" cy="666.47" r="9.4" fill="none" stroke="#333" stroke-width="1.4" stroke-dasharray="15.19 4.5" transform="rotate(50 1934.2 666.47)"/><polygon points="1939.2,675.1 1944.7,672.7 1940.7,669.3" fill="#222"/><polygon points="1924.2,666.5 1923.6,672.5 1928.5,670.7" fill="#222"/><polygon points="1939.2,657.8 1934.3,654.3 1933.4,659.4" fill="#222"/>
<polygon points="1972.6,684.6 1995.6,684.6 1995.6,678.4 2008.6,689.9 1995.6,701.4 1995.6,695.1 1972.6,695.1" fill="#A6A6A6" stroke="#8c8c8c" stroke-width="1"/>
<polygon points="1972.6,776.5 1995.6,776.5 1995.6,770.3 2008.6,781.8 1995.6,793.3 1995.6,787.0 1972.6,787.0" fill="#A6A6A6" stroke="#8c8c8c" stroke-width="1"/>
<polygon points="1972.6,893.2 1995.6,893.2 1995.6,887.0 2008.6,898.5 1995.6,910.0 1995.6,903.7 1972.6,903.7" fill="#A6A6A6" stroke="#8c8c8c" stroke-width="1"/>
<polygon points="1972.6,806.5 1995.6,806.5 1995.6,801.0 2008.6,811.5 1995.6,822.0 1995.6,816.5 1972.6,816.5" fill="#A9D18E" stroke="#8f8f8f" stroke-width="1.1" stroke-dasharray="4 2.5"/>
<rect x="2009.32" y="659.482" width="44.0244" height="60.7956" rx="8" fill="#FFF2CC" stroke="#111" stroke-width="2.4"/><text transform="translate(2039.69,689.88) rotate(-90)" text-anchor="middle" font-family="'Liberation Serif', serif" font-weight="bold" font-size="22" fill="#111">PE<tspan font-style="italic" font-size="15.84" dy="-8.36">S</tspan></text>
<rect x="2009.32" y="766.049" width="44.0244" height="60.0968" rx="8" fill="#FFF2CC" stroke="#111" stroke-width="2.4"/><text transform="translate(2039.69,796.098) rotate(-90)" text-anchor="middle" font-family="'Liberation Serif', serif" font-weight="bold" font-size="22" fill="#111">PE<tspan font-style="italic" font-size="15.84" dy="-8.36">L</tspan></text>
<rect x="2009.32" y="868.773" width="44.0244" height="59.7474" rx="8" fill="#FFF2CC" stroke="#111" stroke-width="2.4"/><text transform="translate(2039.69,898.646) rotate(-90)" text-anchor="middle" font-family="'Liberation Serif', serif" font-weight="bold" font-size="22" fill="#111">PE<tspan font-style="italic" font-size="15.84" dy="-8.36">M</tspan></text>
<polygon points="2054.7,684.6 2077.0,684.6 2077.0,678.4 2090.0,689.9 2077.0,701.4 2077.0,695.1 2054.7,695.1" fill="#A6A6A6" stroke="#8c8c8c" stroke-width="1"/>
<polygon points="2054.7,776.5 2077.0,776.5 2077.0,770.3 2090.0,781.8 2077.0,793.3 2077.0,787.0 2054.7,787.0" fill="#A6A6A6" stroke="#8c8c8c" stroke-width="1"/>
<polygon points="2054.7,893.2 2077.0,893.2 2077.0,887.0 2090.0,898.5 2077.0,910.0 2077.0,903.7 2054.7,903.7" fill="#A6A6A6" stroke="#8c8c8c" stroke-width="1"/>
<polygon points="2054.7,806.5 2077.0,806.5 2077.0,801.0 2090.0,811.5 2077.0,822.0 2077.0,816.5 2054.7,816.5" fill="#A9D18E" stroke="#8f8f8f" stroke-width="1.1" stroke-dasharray="4 2.5"/>
<rect x="2091.78" y="659.482" width="61.145" height="267.291" rx="8" fill="#9DCBFB" stroke="#7f7f7f" stroke-width="1.6"/><text transform="translate(2129.94,796.128) rotate(-90)" text-anchor="middle" font-family="'Liberation Serif', serif" font-weight="bold" font-size="23" fill="#111" textLength="236" lengthAdjust="spacing">Multi-Head Self-Attention</text>
<circle cx="2106.45" cy="674.157" r="9.4" fill="none" stroke="#333" stroke-width="1.4" stroke-dasharray="15.19 4.5" transform="rotate(50 2106.45 674.157)"/><polygon points="2111.5,682.8 2116.9,680.3 2112.9,677.0" fill="#222"/><polygon points="2096.5,674.2 2095.9,680.1 2100.7,678.4" fill="#222"/><polygon points="2111.4,665.5 2106.6,662.0 2105.7,667.1" fill="#222"/>
<line x1="2152.92" y1="689.181" x2="2188.55" y2="689.181" stroke="#444" stroke-width="2.7"/><polygon points="2195.55,689.181 2186.05,684.581 2186.05,693.781" fill="#444"/>
<line x1="2152.92" y1="795.748" x2="2188.55" y2="795.748" stroke="#444" stroke-width="2.7"/><polygon points="2195.55,795.748 2186.05,791.148 2186.05,800.348" fill="#444"/>
<line x1="2152.92" y1="898.472" x2="2188.55" y2="898.472" stroke="#444" stroke-width="2.7"/><polygon points="2195.55,898.472 2186.05,893.872 2186.05,903.072" fill="#444"/>
<rect x="2195.55" y="659.482" width="43.675" height="60.7956" rx="8" fill="#FFF2CC" stroke="#111" stroke-width="2.4"/><text transform="translate(2225.75,689.88) rotate(-90)" text-anchor="middle" font-family="'Liberation Serif', serif" font-weight="bold" font-size="22" fill="#111">LN<tspan font-style="italic" font-size="15.84" dy="-8.36">S</tspan></text>
<rect x="2195.55" y="766.049" width="43.675" height="60.0968" rx="8" fill="#FFF2CC" stroke="#111" stroke-width="2.4"/><text transform="translate(2225.75,796.098) rotate(-90)" text-anchor="middle" font-family="'Liberation Serif', serif" font-weight="bold" font-size="22" fill="#111">LN<tspan font-style="italic" font-size="15.84" dy="-8.36">L</tspan></text>
<rect x="2195.55" y="868.773" width="43.675" height="59.7474" rx="8" fill="#FFF2CC" stroke="#111" stroke-width="2.4"/><text transform="translate(2225.75,898.646) rotate(-90)" text-anchor="middle" font-family="'Liberation Serif', serif" font-weight="bold" font-size="22" fill="#111">LN<tspan font-style="italic" font-size="15.84" dy="-8.36">M</tspan></text>
<line x1="2239.13" y1="689.181" x2="2262.88" y2="689.181" stroke="#444" stroke-width="2.7"/><polygon points="2269.88,689.181 2260.38,684.581 2260.38,693.781" fill="#444"/>
<circle cx="2286.65" cy="689.181" r="16.8" fill="#fff" stroke="#333" stroke-width="2"/><line x1="2269.85" y1="689.181" x2="2303.45" y2="689.181" stroke="#333" stroke-width="1.6"/><line x1="2286.65" y1="672.381" x2="2286.65" y2="705.981" stroke="#333" stroke-width="1.6"/>
<line x1="2303.77" y1="689.181" x2="2326.82" y2="689.181" stroke="#444" stroke-width="2.7"/><polygon points="2333.82,689.181 2324.32,684.581 2324.32,693.781" fill="#444"/>
<line x1="2239.13" y1="795.748" x2="2262.88" y2="795.748" stroke="#444" stroke-width="2.7"/><polygon points="2269.88,795.748 2260.38,791.148 2260.38,800.348" fill="#444"/>
<circle cx="2286.65" cy="795.748" r="16.8" fill="#fff" stroke="#333" stroke-width="2"/><line x1="2269.85" y1="795.748" x2="2303.45" y2="795.748" stroke="#333" stroke-width="1.6"/><line x1="2286.65" y1="778.948" x2="2286.65" y2="812.548" stroke="#333" stroke-width="1.6"/>
<line x1="2303.77" y1="795.748" x2="2326.82" y2="795.748" stroke="#444" stroke-width="2.7"/><polygon points="2333.82,795.748 2324.32,791.148 2324.32,800.348" fill="#444"/>
<line x1="2239.13" y1="898.472" x2="2262.88" y2="898.472" stroke="#444" stroke-width="2.7"/><polygon points="2269.88,898.472 2260.38,893.872 2260.38,903.072" fill="#444"/>
<circle cx="2286.65" cy="898.472" r="16.8" fill="#fff" stroke="#333" stroke-width="2"/><line x1="2269.85" y1="898.472" x2="2303.45" y2="898.472" stroke="#333" stroke-width="1.6"/><line x1="2286.65" y1="881.672" x2="2286.65" y2="915.272" stroke="#333" stroke-width="1.6"/>
<line x1="2303.77" y1="898.472" x2="2326.82" y2="898.472" stroke="#444" stroke-width="2.7"/><polygon points="2333.82,898.472 2324.32,893.872 2324.32,903.072" fill="#444"/>
<rect x="2334.52" y="659.482" width="42.9762" height="267.291" rx="8" fill="#9DCBFB" stroke="#7f7f7f" stroke-width="1.6"/><text transform="translate(2363.6,797.128) rotate(-90)" text-anchor="middle" font-family="'Liberation Serif', serif" font-weight="bold" font-size="23" fill="#111" textLength="188" lengthAdjust="spacing">Feed Forward Layer</text>
<circle cx="2349.54" cy="674.157" r="9.4" fill="none" stroke="#333" stroke-width="1.4" stroke-dasharray="15.19 4.5" transform="rotate(50 2349.54 674.157)"/><polygon points="2354.6,682.8 2360.0,680.3 2356.0,677.0" fill="#222"/><polygon points="2339.5,674.2 2339.0,680.1 2343.8,678.4" fill="#222"/><polygon points="2354.5,665.5 2349.7,662.0 2348.8,667.1" fill="#222"/>
<line x1="2377.5" y1="689.181" x2="2412.42" y2="689.181" stroke="#444" stroke-width="2.7"/><polygon points="2419.42,689.181 2409.92,684.581 2409.92,693.781" fill="#444"/>
<line x1="2377.5" y1="795.748" x2="2412.42" y2="795.748" stroke="#444" stroke-width="2.7"/><polygon points="2419.42,795.748 2409.92,791.148 2409.92,800.348" fill="#444"/>
<line x1="2377.5" y1="898.472" x2="2412.42" y2="898.472" stroke="#444" stroke-width="2.7"/><polygon points="2419.42,898.472 2409.92,893.872 2409.92,903.072" fill="#444"/>
<rect x="2419.42" y="659.482" width="43.675" height="60.7956" rx="8" fill="#FFF2CC" stroke="#111" stroke-width="2.4"/><text transform="translate(2449.62,689.88) rotate(-90)" text-anchor="middle" font-family="'Liberation Serif', serif" font-weight="bold" font-size="22" fill="#111">LN<tspan font-style="italic" font-size="15.84" dy="-8.36">S</tspan></text>
<rect x="2419.42" y="766.049" width="43.675" height="60.0968" rx="8" fill="#FFF2CC" stroke="#111" stroke-width="2.4"/><text transform="translate(2449.62,796.098) rotate(-90)" text-anchor="middle" font-family="'Liberation Serif', serif" font-weight="bold" font-size="22" fill="#111">LN<tspan font-style="italic" font-size="15.84" dy="-8.36">L</tspan></text>
<rect x="2419.42" y="868.773" width="43.675" height="59.7474" rx="8" fill="#FFF2CC" stroke="#111" stroke-width="2.4"/><text transform="translate(2449.62,898.646) rotate(-90)" text-anchor="middle" font-family="'Liberation Serif', serif" font-weight="bold" font-size="22" fill="#111">LN<tspan font-style="italic" font-size="15.84" dy="-8.36">M</tspan></text>
<line x1="2463.1" y1="689.181" x2="2487.54" y2="689.181" stroke="#444" stroke-width="2.7"/><polygon points="2494.54,689.181 2485.04,684.581 2485.04,693.781" fill="#444"/>
<circle cx="2510.97" cy="689.181" r="16.8" fill="#fff" stroke="#333" stroke-width="2"/><line x1="2494.17" y1="689.181" x2="2527.77" y2="689.181" stroke="#333" stroke-width="1.6"/><line x1="2510.97" y1="672.381" x2="2510.97" y2="705.981" stroke="#333" stroke-width="1.6"/>
<line x1="2463.1" y1="795.748" x2="2487.54" y2="795.748" stroke="#444" stroke-width="2.7"/><polygon points="2494.54,795.748 2485.04,791.148 2485.04,800.348" fill="#444"/>
<circle cx="2510.97" cy="795.748" r="16.8" fill="#fff" stroke="#333" stroke-width="2"/><line x1="2494.17" y1="795.748" x2="2527.77" y2="795.748" stroke="#333" stroke-width="1.6"/><line x1="2510.97" y1="778.948" x2="2510.97" y2="812.548" stroke="#333" stroke-width="1.6"/>
<line x1="2463.1" y1="898.472" x2="2487.54" y2="898.472" stroke="#444" stroke-width="2.7"/><polygon points="2494.54,898.472 2485.04,893.872 2485.04,903.072" fill="#444"/>
<circle cx="2510.97" cy="898.472" r="16.8" fill="#fff" stroke="#333" stroke-width="2"/><line x1="2494.17" y1="898.472" x2="2527.77" y2="898.472" stroke="#333" stroke-width="1.6"/><line x1="2510.97" y1="881.672" x2="2510.97" y2="915.272" stroke="#333" stroke-width="1.6"/>
<polygon points="2529.5,684.6 2552.1,684.6 2552.1,678.4 2565.1,689.9 2552.1,701.4 2552.1,695.1 2529.5,695.1" fill="#A6A6A6" stroke="#8c8c8c" stroke-width="1"/>
<polygon points="2529.5,776.5 2552.1,776.5 2552.1,770.3 2565.1,781.8 2552.1,793.3 2552.1,787.0 2529.5,787.0" fill="#A6A6A6" stroke="#8c8c8c" stroke-width="1"/>
<polygon points="2529.5,893.2 2552.1,893.2 2552.1,887.0 2565.1,898.5 2552.1,910.0 2552.1,903.7 2529.5,903.7" fill="#A6A6A6" stroke="#8c8c8c" stroke-width="1"/>
<polygon points="2529.5,806.5 2552.1,806.5 2552.1,801.0 2565.1,811.5 2552.1,822.0 2552.1,816.5 2529.5,816.5" fill="#A9D18E" stroke="#8f8f8f" stroke-width="1.1" stroke-dasharray="4 2.5"/>
<rect x="2566.17" y="648.651" width="54.157" height="291.05" rx="8" fill="#9DCBFB" stroke="#7f7f7f" stroke-width="1.6"/><text transform="translate(2600.84,790.176) rotate(-90)" text-anchor="middle" font-family="'Liberation Serif', serif" font-weight="bold" font-size="23" fill="#111" textLength="182" lengthAdjust="spacing">Trajectory  Decoder</text>
<circle cx="2583.29" cy="667.169" r="9.4" fill="none" stroke="#333" stroke-width="1.4" stroke-dasharray="15.19 4.5" transform="rotate(50 2583.29 667.169)"/><polygon points="2588.3,675.8 2593.8,673.4 2589.8,670.0" fill="#222"/><polygon points="2573.3,667.2 2572.7,673.2 2577.6,671.4" fill="#222"/><polygon points="2588.3,658.5 2583.4,655.0 2582.5,660.1" fill="#222"/>
<polygon points="2621.7,682.2 2650.0,682.2 2650.0,675.9 2663.0,687.4 2650.0,698.9 2650.0,692.7 2621.7,692.7" fill="#A6A6A6" stroke="#8c8c8c" stroke-width="1"/>
<polygon points="2621.7,775.5 2650.0,775.5 2650.0,769.2 2663.0,780.7 2650.0,792.2 2650.0,786.0 2621.7,786.0" fill="#A6A6A6" stroke="#8c8c8c" stroke-width="1"/>
<polygon points="2621.7,893.2 2650.0,893.2 2650.0,887.0 2663.0,898.5 2650.0,910.0 2650.0,903.7 2621.7,903.7" fill="#A6A6A6" stroke="#8c8c8c" stroke-width="1"/>
<polygon points="2621.7,804.7 2650.0,804.7 2650.0,799.2 2663.0,809.7 2650.0,820.2 2650.0,814.7 2621.7,814.7" fill="#A9D18E" stroke="#8f8f8f" stroke-width="1.1" stroke-dasharray="4 2.5"/>
<text x="2087.23" y="955.424" font-size="22" font-family="'Liberation Serif', serif" font-weight="bold" fill="#111" textLength="197.67" lengthAdjust="spacing">Transformer Encoder</text>
<text x="2669.94" y="692.326" font-size="22" font-family="'Liberation Serif', serif" font-weight="bold" font-style="italic" fill="#111" textLength="96.085" lengthAdjust="spacing">Y<tspan font-size="16" dy="-8">s</tspan><tspan dy="8" font-weight="normal">~</tspan>D(φ<tspan font-size="16" dy="-8">S</tspan><tspan dy="8">)</tspan></text>
<text x="2668.2" y="798.893" font-size="22" font-family="'Liberation Serif', serif" font-weight="bold" font-style="italic" fill="#111" textLength="96.7838" lengthAdjust="spacing">Y<tspan font-size="16" dy="-8">L</tspan><tspan dy="8" font-weight="normal">~</tspan>D(φ<tspan font-size="16" dy="-8">L</tspan><tspan dy="8">)</tspan></text>
<text x="2668.2" y="903.014" font-size="22" font-family="'Liberation Serif', serif" font-weight="bold" font-style="italic" fill="#111" textLength="106.567" lengthAdjust="spacing">Y<tspan font-size="16" dy="-8">M</tspan><tspan dy="8" font-weight="normal">~</tspan>D(φ<tspan font-size="16" dy="-8">M</tspan><tspan dy="8">)</tspan></text>
<line x1="2697.2" y1="721.543" x2="2697.2" y2="755.001" stroke="#7030A0" stroke-width="4.2"/><polygon points="2697.2,711.543 2690.7,722.543 2703.7,722.543" fill="#7030A0"/><polygon points="2697.2,765.001 2690.7,754.001 2703.7,754.001" fill="#7030A0"/>
<line x1="2697.2" y1="829.857" x2="2697.2" y2="863.315" stroke="#7030A0" stroke-width="4.2"/><polygon points="2697.2,819.857 2690.7,830.857 2703.7,830.857" fill="#7030A0"/><polygon points="2697.2,873.315 2690.7,862.315 2703.7,862.315" fill="#7030A0"/>
<text x="2710.82" y="738.097" font-size="22" font-family="'Liberation Serif', serif" font-weight="bold" font-style="italic" fill="#111" textLength="69.88" lengthAdjust="spacing">KL Loss</text>
<text x="2710.82" y="851.652" font-size="22" font-family="'Liberation Serif', serif" font-weight="bold" font-style="italic" fill="#111" textLength="69.88" lengthAdjust="spacing">KL Loss</text>
<text x="2767.78" y="781.423" font-size="22" font-family="'Liberation Serif', serif" font-weight="bold" font-style="italic" fill="#111" textLength="89.097" lengthAdjust="spacing">Prediction</text>
<text x="2792.93" y="815.664" font-size="22" font-family="'Liberation Serif', serif" font-weight="bold" font-style="italic" fill="#111" textLength="38.7834" lengthAdjust="spacing">Loss</text>
<line x1="2784.06" y1="793.652" x2="2850.37" y2="793.652" stroke="#7030A0" stroke-width="4.2"/><polygon points="2774.06,793.652 2785.06,787.152 2785.06,800.152" fill="#7030A0"/><polygon points="2860.37,793.652 2849.37,787.152 2849.37,800.152" fill="#7030A0"/>
<text x="2851.63" y="696.868" font-size="21.5" font-family="'Liberation Serif', serif" font-weight="bold" fill="#111" textLength="187.977" lengthAdjust="spacing">Future Trajectory: <tspan font-style="italic">Y</tspan></text>
<text x="3034.02" y="696.169" font-family="'Liberation Serif', serif" font-size="25" text-anchor="middle" fill="#111">ˆ</text>
<rect x="2863.86" y="711.543" width="172.953" height="160.724" rx="24" fill="#ECECEC"/>
<g transform="translate(2962.5,753) rotate(180) scale(0.72)" fill="none" stroke="#1FCB98" stroke-width="1.9"><path d="M0,-7 C6,-11.5 14,-11 26,-6.5 M0,7 C6,11.5 14,11 26,6.5 M0,-2.5 C8,-4.5 16,-4 26,-2 M0,2.5 C8,4.5 16,4 26,2 M0,0 L30,0"/><path d="M7,-10 L7,10 M13.5,-10.5 L13.5,10.5 M20,-9 L20,9"/><polygon points="37,0 28,-5 28,5" fill="#1FCB98" stroke="none"/></g>
<g transform="translate(2983.9,753) rotate(180)"><rect x="-19" y="-11.3" width="7" height="22.6" rx="1" fill="#2b2b2b"/><rect x="11" y="-11.3" width="7" height="22.6" rx="1" fill="#2b2b2b"/><rect x="-23" y="-10" width="46" height="20" rx="7" fill="#1FCB98"/><rect x="-12.42" y="-8" width="25.76" height="16" rx="4" fill="#2f3a36"/><rect x="-5.98" y="-6.8" width="11.96" height="13.6" rx="2" fill="#1FCB98"/></g>
<g transform="translate(2911.8,788.3) rotate(22) scale(0.72)" fill="none" stroke="#FDB414" stroke-width="1.9"><path d="M0,-7 C6,-11.5 14,-11 26,-6.5 M0,7 C6,11.5 14,11 26,6.5 M0,-2.5 C8,-4.5 16,-4 26,-2 M0,2.5 C8,4.5 16,4 26,2 M0,0 L30,0"/><path d="M7,-10 L7,10 M13.5,-10.5 L13.5,10.5 M20,-9 L20,9"/><polygon points="37,0 28,-5 28,5" fill="#FDB414" stroke="none"/></g>
<g transform="translate(2895.5,771.2) rotate(47)"><rect x="-19" y="-11.3" width="7" height="22.6" rx="1" fill="#2b2b2b"/><rect x="11" y="-11.3" width="7" height="22.6" rx="1" fill="#2b2b2b"/><rect x="-23" y="-10" width="46" height="20" rx="7" fill="#FDB414"/><rect x="-12.42" y="-8" width="25.76" height="16" rx="4" fill="#3a3a3a"/><rect x="-5.98" y="-6.8" width="11.96" height="13.6" rx="2" fill="#FDB414"/></g>
<g transform="translate(2943.5,835.3) rotate(-28) scale(0.72)" fill="none" stroke="#1689E0" stroke-width="1.9"><path d="M0,-7 C6,-11.5 14,-11 26,-6.5 M0,7 C6,11.5 14,11 26,6.5 M0,-2.5 C8,-4.5 16,-4 26,-2 M0,2.5 C8,4.5 16,4 26,2 M0,0 L30,0"/><path d="M7,-10 L7,10 M13.5,-10.5 L13.5,10.5 M20,-9 L20,9"/><polygon points="37,0 28,-5 28,5" fill="#1689E0" stroke="none"/></g>
<g transform="translate(2925.8,846.7) rotate(-32)"><rect x="-19" y="-11.3" width="7" height="22.6" rx="1" fill="#2b2b2b"/><rect x="11" y="-11.3" width="7" height="22.6" rx="1" fill="#2b2b2b"/><rect x="-23" y="-10" width="46" height="20" rx="7" fill="#1689E0"/><rect x="-12.42" y="-8" width="25.76" height="16" rx="4" fill="#2d3540"/><rect x="-5.98" y="-6.8" width="11.96" height="13.6" rx="2" fill="#1689E0"/></g>
<circle cx="2855.12" cy="906.508" r="13" fill="#fff" stroke="#333" stroke-width="1.6"/><line x1="2842.12" y1="906.508" x2="2868.12" y2="906.508" stroke="#333" stroke-width="1.28"/><line x1="2855.12" y1="893.508" x2="2855.12" y2="919.508" stroke="#333" stroke-width="1.28"/>
<text x="2877.84" y="911.749" font-size="21.5" font-family="'Liberation Serif', serif" font-weight="bold" font-style="italic" fill="#111" textLength="84.9042" lengthAdjust="spacing">: Addition</text>
<circle cx="2855.12" cy="937.255" r="12.5" fill="none" stroke="#333" stroke-width="1.4" stroke-dasharray="21.68 4.5" transform="rotate(50 2855.12 937.255)"/><polygon points="2862.5,947.9 2868.0,945.4 2864.0,942.1" fill="#222"/><polygon points="2842.2,938.3 2841.6,944.3 2846.5,942.5" fill="#222"/><polygon points="2860.6,925.5 2855.8,922.0 2854.9,927.2" fill="#222"/>
<text x="2877.84" y="941.448" font-size="21.5" font-family="'Liberation Serif', serif" font-weight="bold" font-style="italic" fill="#111" textLength="147.447" lengthAdjust="spacing">: Weight Sharing</text>
</g>
<g id="tables">
<line x1="3111" y1="647.6" x2="4570.5" y2="647.6" stroke="#111" stroke-width="2.2"/>
<line x1="3702.8" y1="688.1" x2="4558" y2="688.1" stroke="#111" stroke-width="1.2"/>
<line x1="3111" y1="729.4" x2="4570.5" y2="729.4" stroke="#111" stroke-width="1.3"/>
<line x1="3123" y1="771.9" x2="4558" y2="771.9" stroke="#111" stroke-width="1.2"/>
<line x1="3123" y1="965.5" x2="4558" y2="965.5" stroke="#111" stroke-width="1.2"/>
<line x1="3111" y1="1010.9" x2="4570.5" y2="1010.9" stroke="#111" stroke-width="2.2"/>
<text x="3126.6" y="689.6" font-size="24" font-family="'Liberation Serif', serif" fill="#111">Method</text>
<text x="3446.6" y="689.6" font-size="24" font-family="'Liberation Serif', serif" fill="#111" text-anchor="middle">Note</text>
<text x="3629.4" y="689.6" font-size="24" font-family="'Liberation Serif', serif" fill="#111" text-anchor="middle">#Param</text>
<text x="3910.9" y="673.3" font-size="24" font-family="'Liberation Serif', serif" fill="#111" text-anchor="middle" textLength="317" lengthAdjust="spacing">ADE<tspan font-size="16.8" dy="4.8">5</tspan><tspan dy="-4.8">/FDE</tspan><tspan font-size="16.8" dy="4.8">5</tspan><tspan dy="-4.8"> ↓    K = 5 Samples</tspan></text>
<text x="4350.7" y="673.3" font-size="24" font-family="'Liberation Serif', serif" fill="#111" text-anchor="middle" textLength="348.5" lengthAdjust="spacing">ADE<tspan font-size="16.8" dy="4.8">10</tspan><tspan dy="-4.8">/FDE</tspan><tspan font-size="16.8" dy="4.8">10</tspan><tspan dy="-4.8"> ↓    K = 10 Samples</tspan></text>
<text x="3764.7" y="716.1" font-size="24" font-family="'Liberation Serif', serif" fill="#111" text-anchor="middle">2 Timesteps</text>
<text x="3910.9" y="716.1" font-size="24" font-family="'Liberation Serif', serif" fill="#111" text-anchor="middle">3 Timesteps</text>
<text x="4057.5" y="716.1" font-size="24" font-family="'Liberation Serif', serif" fill="#111" text-anchor="middle">4 Timesteps</text>
<text x="4204.1" y="716.1" font-size="24" font-family="'Liberation Serif', serif" fill="#111" text-anchor="middle">2 Timesteps</text>
<text x="4350.4" y="716.1" font-size="24" font-family="'Liberation Serif', serif" fill="#111" text-anchor="middle">3 Timesteps</text>
<text x="4496.7" y="716.1" font-size="24" font-family="'Liberation Serif', serif" fill="#111" text-anchor="middle">4 Timesteps</text>
<text x="3126.6" y="758" font-size="24" font-family="'Liberation Serif', serif" fill="#111">AFormer [<tspan fill="#4A7FB5">73</tspan>]</text>
<text x="3446.6" y="758" font-size="24" font-family="'Liberation Serif', serif" fill="#111" text-anchor="middle">-</text>
<text x="3629.4" y="758" font-size="24" font-family="'Liberation Serif', serif" fill="#111" text-anchor="middle">6.67M</text>
<text x="3764.7" y="758" font-size="24" font-family="'Liberation Serif', serif" fill="#111" text-anchor="middle">2.26/4.53</text>
<text x="3910.9" y="758" font-size="24" font-family="'Liberation Serif', serif" fill="#111" text-anchor="middle">2.00/4.10</text>
<text x="4057.5" y="758" font-size="24" font-family="'Liberation Serif', serif" fill="#111" text-anchor="middle">1.86/3.89</text>
<text x="4204.1" y="758" font-size="24" font-family="'Liberation Serif', serif" fill="#111" text-anchor="middle">1.72/3.06</text>
<text x="4350.4" y="758" font-size="24" font-family="'Liberation Serif', serif" fill="#111" text-anchor="middle">1.53/2.95</text>
<text x="4496.7" y="758" font-size="24" font-family="'Liberation Serif', serif" fill="#111" text-anchor="middle">1.45/2.86</text>
<polygon points="3127.7,794.7 3134.8,786.7 3141.9,794.7 3134.8,802.7" fill="#FFA51E"/>
<text x="3146.3" y="802.3" font-size="24" font-family="'Liberation Serif', serif" fill="#111">AFormer-Mixed</text>
<text x="3446.5" y="802.3" font-size="24" font-family="'Liberation Serif', serif" fill="#111" text-anchor="middle" textLength="159" lengthAdjust="spacing"><tspan font-style="italic">ρ</tspan><tspan font-style="italic" font-size="17.28" dy="-10.08">S</tspan><tspan dy="10.08">=</tspan><tspan font-style="italic">ρ</tspan><tspan font-style="italic" font-size="17.28" dy="-10.08">M</tspan><tspan dy="10.08">=</tspan><tspan font-style="italic">ρ</tspan><tspan font-style="italic" font-size="17.28" dy="-10.08">L</tspan><tspan dy="10.08">=0.5</tspan></text>
<text x="3629.4" y="802.3" font-size="24" font-family="'Liberation Serif', serif" fill="#111" text-anchor="middle">6.67M</text>
<text x="3764.7" y="802.3" font-size="24" font-family="'Liberation Serif', serif" fill="#111" text-anchor="middle">2.14/4.38</text>
<text x="3910.9" y="802.3" font-size="24" font-family="'Liberation Serif', serif" fill="#111" text-anchor="middle">1.98/4.05</text>
<text x="4057.5" y="802.3" font-size="24" font-family="'Liberation Serif', serif" fill="#111" text-anchor="middle">1.94/3.91</text>
<text x="4204.1" y="802.3" font-size="24" font-family="'Liberation Serif', serif" fill="#111" text-anchor="middle">1.68/3.06</text>
<text x="4350.4" y="802.3" font-size="24" font-family="'Liberation Serif', serif" fill="#111" text-anchor="middle">1.50/2.91</text>
<text x="4496.7" y="802.3" font-size="24" font-family="'Liberation Serif', serif" fill="#111" text-anchor="middle">1.57/2.93</text>
<polygon points="3127.7,828 3134.8,820 3141.9,828 3134.8,836" fill="#FFA51E"/>
<text x="3146.3" y="835.6" font-size="24" font-family="'Liberation Serif', serif" fill="#111">AFormer-Mixed</text>
<text x="3446.5" y="835.6" font-size="24" font-family="'Liberation Serif', serif" fill="#111" text-anchor="middle" textLength="212.5" lengthAdjust="spacing"><tspan font-style="italic">ρ</tspan><tspan font-style="italic" font-size="17.28" dy="-10.08">S</tspan><tspan dy="10.08">=0.75, </tspan><tspan font-style="italic">ρ</tspan><tspan font-style="italic" font-size="17.28" dy="-10.08">M</tspan><tspan dy="10.08">=</tspan><tspan font-style="italic">ρ</tspan><tspan font-style="italic" font-size="17.28" dy="-10.08">L</tspan><tspan dy="10.08">=0.5</tspan></text>
<text x="3629.4" y="835.6" font-size="24" font-family="'Liberation Serif', serif" fill="#111" text-anchor="middle">6.67M</text>
<text x="3764.7" y="835.6" font-size="24" font-family="'Liberation Serif', serif" fill="#111" text-anchor="middle">2.10/4.38</text>
<text x="3910.9" y="835.6" font-size="24" font-family="'Liberation Serif', serif" fill="#111" text-anchor="middle">1.98/4.02</text>
<text x="4057.5" y="835.6" font-size="24" font-family="'Liberation Serif', serif" fill="#111" text-anchor="middle">2.05/4.14</text>
<text x="4204.1" y="835.6" font-size="24" font-family="'Liberation Serif', serif" fill="#111" text-anchor="middle">1.65/3.01</text>
<text x="4350.4" y="835.6" font-size="24" font-family="'Liberation Serif', serif" fill="#111" text-anchor="middle">1.50/2.90</text>
<text x="4496.7" y="835.6" font-size="24" font-family="'Liberation Serif', serif" fill="#111" text-anchor="middle">1.66/3.11</text>
<polygon points="3127.7,856.7 3134.8,848.7 3141.9,856.7 3134.8,864.7" fill="#1E7BE6"/>
<text x="3146.3" y="864.3" font-size="24" font-family="'Liberation Serif', serif" fill="#111">AFormer-Tuning</text>
<text x="3446.6" y="864.3" font-size="24" font-family="'Liberation Serif', serif" fill="#111" text-anchor="middle" textLength="95" lengthAdjust="spacing">4Ts<tspan font-size="33.6" dy="1.92">→</tspan><tspan dy="-1.92">2Ts</tspan></text>
<text x="3629.4" y="864.3" font-size="24" font-family="'Liberation Serif', serif" fill="#111" text-anchor="middle">6.67M</text>
<text x="3764.7" y="864.3" font-size="24" font-family="'Liberation Serif', serif" fill="#111" text-anchor="middle">2.10/4.32</text>
<text x="3910.9" y="864.3" font-size="24" font-family="'Liberation Serif', serif" fill="#111" text-anchor="middle">2.15/4.31</text>
<text x="4057.5" y="864.3" font-size="24" font-family="'Liberation Serif', serif" fill="#111" text-anchor="middle">2.28/4.43</text>
<text x="4204.1" y="864.3" font-size="24" font-family="'Liberation Serif', serif" fill="#111" text-anchor="middle">1.60/2.98</text>
<text x="4350.4" y="864.3" font-size="24" font-family="'Liberation Serif', serif" fill="#111" text-anchor="middle">1.81/3.34</text>
<text x="4496.7" y="864.3" font-size="24" font-family="'Liberation Serif', serif" fill="#111" text-anchor="middle">1.79/3.12</text>
<polygon points="3127.7,885.3 3134.8,877.3 3141.9,885.3 3134.8,893.3" fill="#1E7BE6"/>
<text x="3146.3" y="892.9" font-size="24" font-family="'Liberation Serif', serif" fill="#111">AFormer-Tuning</text>
<text x="3446.6" y="892.9" font-size="24" font-family="'Liberation Serif', serif" fill="#111" text-anchor="middle" textLength="95" lengthAdjust="spacing">4Ts<tspan font-size="33.6" dy="1.92">→</tspan><tspan dy="-1.92">3Ts</tspan></text>
<text x="3629.4" y="892.9" font-size="24" font-family="'Liberation Serif', serif" fill="#111" text-anchor="middle">6.67M</text>
<text x="3764.7" y="892.9" font-size="24" font-family="'Liberation Serif', serif" fill="#111" text-anchor="middle">2.32/4.67</text>
<text x="3910.9" y="892.9" font-size="24" font-family="'Liberation Serif', serif" fill="#111" text-anchor="middle">1.93/3.94</text><line x1="3865.56" y1="897.7" x2="3907.56" y2="897.7" stroke="#111" stroke-width="1.1"/><line x1="3914.24" y1="897.7" x2="3956.24" y2="897.7" stroke="#111" stroke-width="1.1"/>
<text x="4057.5" y="892.9" font-size="24" font-family="'Liberation Serif', serif" fill="#111" text-anchor="middle">2.32/4.96</text>
<text x="4204.1" y="892.9" font-size="24" font-family="'Liberation Serif', serif" fill="#111" text-anchor="middle">1.98/3.33</text>
<text x="4350.4" y="892.9" font-size="24" font-family="'Liberation Serif', serif" fill="#111" text-anchor="middle">1.48/2.92</text>
<text x="4496.7" y="892.9" font-size="24" font-family="'Liberation Serif', serif" fill="#111" text-anchor="middle">2.12/3.97</text>
<polygon points="3127.7,915.1 3134.8,907.1 3141.9,915.1 3134.8,923.1" fill="#CC66EE"/>
<text x="3146.3" y="922.7" font-size="24" font-family="'Liberation Serif', serif" fill="#111">AFormer-Joint</text>
<text x="3446.6" y="922.7" font-size="24" font-family="'Liberation Serif', serif" fill="#111" text-anchor="middle">-</text>
<text x="3629.4" y="922.7" font-size="24" font-family="'Liberation Serif', serif" fill="#111" text-anchor="middle">6.67×3M</text>
<text x="3764.7" y="922.7" font-size="24" font-family="'Liberation Serif', serif" fill="#111" text-anchor="middle">1.98/4.19</text><line x1="3719.36" y1="927.5" x2="3761.36" y2="927.5" stroke="#111" stroke-width="1.1"/><line x1="3768.04" y1="927.5" x2="3810.04" y2="927.5" stroke="#111" stroke-width="1.1"/>
<text x="3910.9" y="922.7" font-size="24" font-family="'Liberation Serif', serif" fill="#111" text-anchor="middle">1.95/3.97</text>
<text x="4057.5" y="922.7" font-size="24" font-family="'Liberation Serif', serif" fill="#111" text-anchor="middle">1.90/4.02</text>
<text x="4204.1" y="922.7" font-size="24" font-family="'Liberation Serif', serif" fill="#111" text-anchor="middle">1.54/3.04</text>
<text x="4350.4" y="922.7" font-size="24" font-family="'Liberation Serif', serif" fill="#111" text-anchor="middle">1.50/2.91</text>
<text x="4496.7" y="922.7" font-size="24" font-family="'Liberation Serif', serif" fill="#111" text-anchor="middle">1.49/2.96</text>
<polygon points="3127.7,943.7 3134.8,935.7 3141.9,943.7 3134.8,951.7" fill="#E8475F"/>
<text x="3146.3" y="951.3" font-size="24" font-family="'Liberation Serif', serif" fill="#111">AFormer-IT</text>
<text x="3446.6" y="951.3" font-size="24" font-family="'Liberation Serif', serif" fill="#111" text-anchor="middle">-</text>
<text x="3629.4" y="951.3" font-size="24" font-family="'Liberation Serif', serif" fill="#111" text-anchor="middle">6.67×3M</text>
<text x="3764.7" y="951.3" font-size="24" font-family="'Liberation Serif', serif" fill="#111" text-anchor="middle">2.02/4.23</text>
<text x="3910.9" y="951.3" font-size="24" font-family="'Liberation Serif', serif" fill="#111" text-anchor="middle">1.93/3.97</text><line x1="3865.56" y1="956.1" x2="3907.56" y2="956.1" stroke="#111" stroke-width="1.1"/>
<text x="4057.5" y="951.3" font-size="24" font-family="'Liberation Serif', serif" fill="#111" text-anchor="middle">1.86/3.89</text><line x1="4012.16" y1="956.1" x2="4054.16" y2="956.1" stroke="#111" stroke-width="1.1"/><line x1="4060.84" y1="956.1" x2="4102.84" y2="956.1" stroke="#111" stroke-width="1.1"/>
<text x="4204.1" y="951.3" font-size="24" font-family="'Liberation Serif', serif" fill="#111" text-anchor="middle">1.52/3.00</text><line x1="4158.76" y1="956.1" x2="4200.76" y2="956.1" stroke="#111" stroke-width="1.1"/><line x1="4207.44" y1="956.1" x2="4249.44" y2="956.1" stroke="#111" stroke-width="1.1"/>
<text x="4350.4" y="951.3" font-size="24" font-family="'Liberation Serif', serif" fill="#111" text-anchor="middle">1.47/2.89</text><line x1="4305.06" y1="956.1" x2="4347.06" y2="956.1" stroke="#111" stroke-width="1.1"/><line x1="4353.74" y1="956.1" x2="4395.74" y2="956.1" stroke="#111" stroke-width="1.1"/>
<text x="4496.7" y="951.3" font-size="24" font-family="'Liberation Serif', serif" fill="#111" text-anchor="middle">1.45/2.86</text><line x1="4451.36" y1="956.1" x2="4493.36" y2="956.1" stroke="#111" stroke-width="1.1"/><line x1="4500.04" y1="956.1" x2="4542.04" y2="956.1" stroke="#111" stroke-width="1.1"/>
<text x="3126.6" y="996.4" font-size="24" font-family="'Liberation Serif', serif" font-weight="bold" fill="#111">AFormer-FLN</text>
<text x="3446.5" y="996.4" font-size="24" font-family="'Liberation Serif', serif" fill="#111" text-anchor="middle" textLength="139" lengthAdjust="spacing"><tspan font-style="italic">ρ</tspan><tspan font-style="italic" font-size="17.28" dy="-10.08">S</tspan><tspan dy="10.08">=</tspan><tspan font-style="italic">ρ</tspan><tspan font-style="italic" font-size="17.28" dy="-10.08">M</tspan><tspan dy="10.08">=</tspan><tspan font-style="italic">ρ</tspan><tspan font-style="italic" font-size="17.28" dy="-10.08">L</tspan><tspan dy="10.08">=1</tspan></text>
<text x="3629.4" y="996.4" font-size="24" font-family="'Liberation Serif', serif" fill="#111" text-anchor="middle">6.68M</text>
<text x="3764.7" y="996.4" font-size="24" font-family="'Liberation Serif', serif" font-weight="bold" fill="#111" text-anchor="middle">1.92/3.91</text>
<text x="3910.9" y="996.4" font-size="24" font-family="'Liberation Serif', serif" font-weight="bold" fill="#111" text-anchor="middle">1.88/3.89</text>
<text x="4057.5" y="996.4" font-size="24" font-family="'Liberation Serif', serif" font-weight="bold" fill="#111" text-anchor="middle">1.83/3.78</text>
<text x="4204.1" y="996.4" font-size="24" font-family="'Liberation Serif', serif" font-weight="bold" fill="#111" text-anchor="middle">1.47/2.90</text>
<text x="4350.4" y="996.4" font-size="24" font-family="'Liberation Serif', serif" font-weight="bold" fill="#111" text-anchor="middle">1.43/2.82</text>
<text x="4496.7" y="996.4" font-size="24" font-family="'Liberation Serif', serif" font-weight="bold" fill="#111" text-anchor="middle">1.32/2.73</text>
<line x1="3348.2" y1="1078" x2="4374" y2="1078" stroke="#111" stroke-width="2.2"/>
<line x1="3918.3" y1="1117.2" x2="4362.7" y2="1117.2" stroke="#111" stroke-width="1.2"/>
<line x1="3348.2" y1="1156.4" x2="4374" y2="1156.4" stroke="#111" stroke-width="1.3"/>
<line x1="3359.4" y1="1195.1" x2="4362.7" y2="1195.1" stroke="#111" stroke-width="1.2"/>
<line x1="3359.4" y1="1380.2" x2="4362.7" y2="1380.2" stroke="#111" stroke-width="1.2"/>
<line x1="3348.2" y1="1423" x2="4374" y2="1423" stroke="#111" stroke-width="2.2"/>
<text x="3363" y="1117.6" font-size="23.6" font-family="'Liberation Serif', serif" fill="#111">Method</text>
<text x="3676" y="1117.6" font-size="23.6" font-family="'Liberation Serif', serif" fill="#111" text-anchor="middle">Note</text>
<text x="3851.2" y="1117.6" font-size="23.6" font-family="'Liberation Serif', serif" fill="#111" text-anchor="middle">#Param</text>
<text x="4140.3" y="1105" font-size="23.6" font-family="'Liberation Serif', serif" fill="#111" text-anchor="middle" textLength="311.5" lengthAdjust="spacing">ADE<tspan font-size="16.52" dy="4.72">6</tspan><tspan dy="-4.72">/FDE</tspan><tspan font-size="16.52" dy="4.72">6</tspan><tspan dy="-4.72"> ↓    K = 6 Samples</tspan></text>
<text x="3984.5" y="1143.3" font-size="23.6" font-family="'Liberation Serif', serif" fill="#111" text-anchor="middle">10 Timesteps</text>
<text x="4140.3" y="1143.3" font-size="23.6" font-family="'Liberation Serif', serif" fill="#111" text-anchor="middle">20 Timesteps</text>
<text x="4296" y="1143.3" font-size="23.6" font-family="'Liberation Serif', serif" fill="#111" text-anchor="middle">30 Timesteps</text>
<text x="3363" y="1182.5" font-size="23.6" font-family="'Liberation Serif', serif" fill="#111">HiVT-64 [<tspan fill="#4A7FB5">75</tspan>]</text>
<text x="3676" y="1182.5" font-size="23.6" font-family="'Liberation Serif', serif" fill="#111" text-anchor="middle">-</text>
<text x="3851.2" y="1182.5" font-size="23.6" font-family="'Liberation Serif', serif" fill="#111" text-anchor="middle">662K</text>
<text x="3984.5" y="1182.5" font-size="23.6" font-family="'Liberation Serif', serif" fill="#111" text-anchor="middle">1.23/1.48</text>
<text x="4140.3" y="1182.5" font-size="23.6" font-family="'Liberation Serif', serif" fill="#111" text-anchor="middle">0.91/1.37</text>
<text x="4296" y="1182.5" font-size="23.6" font-family="'Liberation Serif', serif" fill="#111" text-anchor="middle">0.69/1.04</text>
<polygon points="3364.6,1216.9 3371.5,1209.1 3378.4,1216.9 3371.5,1224.7" fill="#FFA51E"/>
<text x="3382" y="1224.4" font-size="23.6" font-family="'Liberation Serif', serif" fill="#111">HiVT-64-Mixed</text>
<text x="3676" y="1224.4" font-size="23.6" font-family="'Liberation Serif', serif" fill="#111" text-anchor="middle" textLength="156" lengthAdjust="spacing"><tspan font-style="italic">ρ</tspan><tspan font-style="italic" font-size="16.992" dy="-9.912">S</tspan><tspan dy="9.912">=</tspan><tspan font-style="italic">ρ</tspan><tspan font-style="italic" font-size="16.992" dy="-9.912">M</tspan><tspan dy="9.912">=</tspan><tspan font-style="italic">ρ</tspan><tspan font-style="italic" font-size="16.992" dy="-9.912">L</tspan><tspan dy="9.912">=0.5</tspan></text>
<text x="3851.2" y="1224.4" font-size="23.6" font-family="'Liberation Serif', serif" fill="#111" text-anchor="middle">662K</text>
<text x="3984.5" y="1224.4" font-size="23.6" font-family="'Liberation Serif', serif" fill="#111" text-anchor="middle">1.14/1.57</text>
<text x="4140.3" y="1224.4" font-size="23.6" font-family="'Liberation Serif', serif" fill="#111" text-anchor="middle">0.86/1.22</text>
<text x="4296" y="1224.4" font-size="23.6" font-family="'Liberation Serif', serif" fill="#111" text-anchor="middle">0.80/1.12</text>
<polygon points="3364.6,1248.8 3371.5,1241 3378.4,1248.8 3371.5,1256.6" fill="#FFA51E"/>
<text x="3382" y="1256.3" font-size="23.6" font-family="'Liberation Serif', serif" fill="#111">HiVT-64-Mixed</text>
<text x="3676" y="1256.3" font-size="23.6" font-family="'Liberation Serif', serif" fill="#111" text-anchor="middle" textLength="210" lengthAdjust="spacing"><tspan font-style="italic">ρ</tspan><tspan font-style="italic" font-size="16.992" dy="-9.912">S</tspan><tspan dy="9.912">=0.75, </tspan><tspan font-style="italic">ρ</tspan><tspan font-style="italic" font-size="16.992" dy="-9.912">M</tspan><tspan dy="9.912">=</tspan><tspan font-style="italic">ρ</tspan><tspan font-style="italic" font-size="16.992" dy="-9.912">L</tspan><tspan dy="9.912">=0.5</tspan></text>
<text x="3851.2" y="1256.3" font-size="23.6" font-family="'Liberation Serif', serif" fill="#111" text-anchor="middle">662K</text>
<text x="3984.5" y="1256.3" font-size="23.6" font-family="'Liberation Serif', serif" fill="#111" text-anchor="middle">1.08/1.49</text>
<text x="4140.3" y="1256.3" font-size="23.6" font-family="'Liberation Serif', serif" fill="#111" text-anchor="middle">0.88/1.22</text>
<text x="4296" y="1256.3" font-size="23.6" font-family="'Liberation Serif', serif" fill="#111" text-anchor="middle">0.84/1.13</text>
<polygon points="3364.6,1276.3 3371.5,1268.5 3378.4,1276.3 3371.5,1284.1" fill="#1E7BE6"/>
<text x="3382" y="1283.8" font-size="23.6" font-family="'Liberation Serif', serif" fill="#111">HiVT-64-Tuning</text>
<text x="3676" y="1283.8" font-size="23.6" font-family="'Liberation Serif', serif" fill="#111" text-anchor="middle" textLength="117.5" lengthAdjust="spacing">30Ts<tspan font-size="33.04" dy="1.888">→</tspan><tspan dy="-1.888">10Ts</tspan></text>
<text x="3851.2" y="1283.8" font-size="23.6" font-family="'Liberation Serif', serif" fill="#111" text-anchor="middle">662K</text>
<text x="3984.5" y="1283.8" font-size="23.6" font-family="'Liberation Serif', serif" fill="#111" text-anchor="middle">0.90/1.38</text><line x1="3939.92" y1="1288.52" x2="3981.22" y2="1288.52" stroke="#111" stroke-width="1.1"/><line x1="3987.78" y1="1288.52" x2="4029.08" y2="1288.52" stroke="#111" stroke-width="1.1"/>
<text x="4140.3" y="1283.8" font-size="23.6" font-family="'Liberation Serif', serif" fill="#111" text-anchor="middle">1.14/1.48</text>
<text x="4296" y="1283.8" font-size="23.6" font-family="'Liberation Serif', serif" fill="#111" text-anchor="middle">1.18/1.31</text>
<polygon points="3364.6,1303.8 3371.5,1296 3378.4,1303.8 3371.5,1311.6" fill="#1E7BE6"/>
<text x="3382" y="1311.3" font-size="23.6" font-family="'Liberation Serif', serif" fill="#111">HiVT-64-Tuning</text>
<text x="3676" y="1311.3" font-size="23.6" font-family="'Liberation Serif', serif" fill="#111" text-anchor="middle" textLength="117.5" lengthAdjust="spacing">30Ts<tspan font-size="33.04" dy="1.888">→</tspan><tspan dy="-1.888">20Ts</tspan></text>
<text x="3851.2" y="1311.3" font-size="23.6" font-family="'Liberation Serif', serif" fill="#111" text-anchor="middle">662K</text>
<text x="3984.5" y="1311.3" font-size="23.6" font-family="'Liberation Serif', serif" fill="#111" text-anchor="middle">1.33/1.61</text>
<text x="4140.3" y="1311.3" font-size="23.6" font-family="'Liberation Serif', serif" fill="#111" text-anchor="middle">0.87/1.20</text>
<text x="4296" y="1311.3" font-size="23.6" font-family="'Liberation Serif', serif" fill="#111" text-anchor="middle">1.12/1.29</text>
<polygon points="3364.6,1330.8 3371.5,1323 3378.4,1330.8 3371.5,1338.6" fill="#CC66EE"/>
<text x="3382" y="1338.3" font-size="23.6" font-family="'Liberation Serif', serif" fill="#111">HiVT-64-Joint</text>
<text x="3676" y="1338.3" font-size="23.6" font-family="'Liberation Serif', serif" fill="#111" text-anchor="middle">-</text>
<text x="3851.2" y="1338.3" font-size="23.6" font-family="'Liberation Serif', serif" fill="#111" text-anchor="middle">662×3K</text>
<text x="3984.5" y="1338.3" font-size="23.6" font-family="'Liberation Serif', serif" fill="#111" text-anchor="middle">0.98/1.45</text>
<text x="4140.3" y="1338.3" font-size="23.6" font-family="'Liberation Serif', serif" fill="#111" text-anchor="middle">0.89/1.24</text>
<text x="4296" y="1338.3" font-size="23.6" font-family="'Liberation Serif', serif" fill="#111" text-anchor="middle">0.74/1.09</text>
<polygon points="3364.6,1358.7 3371.5,1350.9 3378.4,1358.7 3371.5,1366.5" fill="#E8475F"/>
<text x="3382" y="1366.2" font-size="23.6" font-family="'Liberation Serif', serif" fill="#111">HiVT-64-IT</text>
<text x="3676" y="1366.2" font-size="23.6" font-family="'Liberation Serif', serif" fill="#111" text-anchor="middle">-</text>
<text x="3851.2" y="1366.2" font-size="23.6" font-family="'Liberation Serif', serif" fill="#111" text-anchor="middle">662×3K</text>
<text x="3984.5" y="1366.2" font-size="23.6" font-family="'Liberation Serif', serif" fill="#111" text-anchor="middle">0.92/1.43</text>
<text x="4140.3" y="1366.2" font-size="23.6" font-family="'Liberation Serif', serif" fill="#111" text-anchor="middle">0.81/1.17</text><line x1="4095.72" y1="1370.92" x2="4137.02" y2="1370.92" stroke="#111" stroke-width="1.1"/><line x1="4143.58" y1="1370.92" x2="4184.88" y2="1370.92" stroke="#111" stroke-width="1.1"/>
<text x="4296" y="1366.2" font-size="23.6" font-family="'Liberation Serif', serif" fill="#111" text-anchor="middle">0.69/1.04</text><line x1="4251.42" y1="1370.92" x2="4292.72" y2="1370.92" stroke="#111" stroke-width="1.1"/><line x1="4299.28" y1="1370.92" x2="4340.58" y2="1370.92" stroke="#111" stroke-width="1.1"/>
<text x="3363" y="1407.6" font-size="23.6" font-family="'Liberation Serif', serif" font-weight="bold" fill="#111">HiVT-64-FLN</text>
<text x="3676" y="1407.6" font-size="23.6" font-family="'Liberation Serif', serif" fill="#111" text-anchor="middle" textLength="136" lengthAdjust="spacing"><tspan font-style="italic">ρ</tspan><tspan font-style="italic" font-size="16.992" dy="-9.912">S</tspan><tspan dy="9.912">=</tspan><tspan font-style="italic">ρ</tspan><tspan font-style="italic" font-size="16.992" dy="-9.912">M</tspan><tspan dy="9.912">=</tspan><tspan font-style="italic">ρ</tspan><tspan font-style="italic" font-size="16.992" dy="-9.912">L</tspan><tspan dy="9.912">=1</tspan></text>
<text x="3851.2" y="1407.6" font-size="23.6" font-family="'Liberation Serif', serif" fill="#111" text-anchor="middle">680K</text>
<text x="3984.5" y="1407.6" font-size="23.6" font-family="'Liberation Serif', serif" font-weight="bold" fill="#111" text-anchor="middle">0.81/1.25</text>
<text x="4140.3" y="1407.6" font-size="23.6" font-family="'Liberation Serif', serif" font-weight="bold" fill="#111" text-anchor="middle">0.72/1.08</text>
<text x="4296" y="1407.6" font-size="23.6" font-family="'Liberation Serif', serif" font-weight="bold" fill="#111" text-anchor="middle">0.65/0.98</text>
<line x1="3750" y1="1546.9" x2="4548" y2="1546.9" stroke="#111" stroke-width="2.2"/>
<line x1="4095.7" y1="1586.5" x2="4537" y2="1586.5" stroke="#111" stroke-width="1.2"/>
<line x1="3750" y1="1625.8" x2="4548" y2="1625.8" stroke="#111" stroke-width="1.3"/>
<line x1="3750" y1="1660.6" x2="4548" y2="1660.6" stroke="#111" stroke-width="1.1" stroke-dasharray="11 6"/>
<line x1="3750" y1="1749.2" x2="4548" y2="1749.2" stroke="#111" stroke-width="2.2"/>
<text x="3764.8" y="1587.2" font-size="22.8" font-family="'Liberation Serif', serif" fill="#111">Method</text>
<text x="4010.2" y="1587.2" font-size="22.8" font-family="'Liberation Serif', serif" fill="#111" text-anchor="middle">Combination</text>
<text x="4316.4" y="1573.4" font-size="22.8" font-family="'Liberation Serif', serif" fill="#111" text-anchor="middle" textLength="303.5" lengthAdjust="spacing">ADE<tspan font-size="15.96" dy="4.56">6</tspan><tspan dy="-4.56">/FDE</tspan><tspan font-size="15.96" dy="4.56">6</tspan><tspan dy="-4.56"> ↓    K = 6 Samples</tspan></text>
<text x="4143" y="1612.4" font-size="22.8" font-family="'Liberation Serif', serif" fill="#111" text-anchor="middle">10Ts</text>
<text x="4258.4" y="1612.4" font-size="22.8" font-family="'Liberation Serif', serif" fill="#111" text-anchor="middle">16Ts</text>
<text x="4373.9" y="1612.4" font-size="22.8" font-family="'Liberation Serif', serif" fill="#111" text-anchor="middle">20Ts</text>
<text x="4489.7" y="1612.4" font-size="22.8" font-family="'Liberation Serif', serif" fill="#111" text-anchor="middle">30Ts</text>
<text x="3764.8" y="1652" font-size="22.8" font-family="'Liberation Serif', serif" fill="#111">HiVT-64-IT [<tspan fill="#4A7FB5">75</tspan>]</text>
<text x="4010.2" y="1652" font-size="22.8" font-family="'Liberation Serif', serif" fill="#111" text-anchor="middle">-</text>
<text x="4143" y="1652" font-size="22.8" font-family="'Liberation Serif', serif" fill="#111" text-anchor="middle">0.92/1.43</text>
<text x="4258.4" y="1652" font-size="22.8" font-family="'Liberation Serif', serif" fill="#111" text-anchor="middle">0.81/1.20</text>
<text x="4373.9" y="1652" font-size="22.8" font-family="'Liberation Serif', serif" fill="#111" text-anchor="middle">0.81/1.17</text>
<text x="4489.7" y="1652" font-size="22.8" font-family="'Liberation Serif', serif" fill="#111" text-anchor="middle">0.69/1.04</text>
<text x="3764.8" y="1681" font-size="22.8" font-family="'Liberation Serif', serif" fill="#111">HiVT-64-FLN-2</text>
<text x="4010.2" y="1681" font-size="22.8" font-family="'Liberation Serif', serif" fill="#111" text-anchor="middle">10/30</text>
<text x="4143" y="1681" font-size="22.8" font-family="'Liberation Serif', serif" fill="#111" text-anchor="middle">0.88/1.37</text>
<text x="4258.4" y="1681" font-size="22.8" font-family="'Liberation Serif', serif" fill="#111" text-anchor="middle">0.80/1.20</text>
<text x="4373.9" y="1681" font-size="22.8" font-family="'Liberation Serif', serif" fill="#111" text-anchor="middle">0.84/1.21</text>
<text x="4489.7" y="1681" font-size="22.8" font-family="'Liberation Serif', serif" fill="#111" text-anchor="middle">0.69/1.02</text>
<text x="3764.8" y="1707.9" font-size="22.8" font-family="'Liberation Serif', serif" fill="#111">HiVT-64-FLN-3</text>
<text x="4010.2" y="1707.9" font-size="22.8" font-family="'Liberation Serif', serif" fill="#111" text-anchor="middle">10/20/30</text>
<text x="4143" y="1707.9" font-size="22.8" font-family="'Liberation Serif', serif" fill="#111" text-anchor="middle">0.81/1.25</text>
<text x="4258.4" y="1707.9" font-size="22.8" font-family="'Liberation Serif', serif" fill="#111" text-anchor="middle">0.73/1.10</text>
<text x="4373.9" y="1707.9" font-size="22.8" font-family="'Liberation Serif', serif" fill="#111" text-anchor="middle"><tspan font-weight="bold">0.72</tspan>/1.08</text>
<text x="4489.7" y="1707.9" font-size="22.8" font-family="'Liberation Serif', serif" font-weight="bold" fill="#111" text-anchor="middle">0.65/0.98</text>
<text x="3764.8" y="1735.4" font-size="22.8" font-family="'Liberation Serif', serif" fill="#111">HiVT-64-FLN-4</text>
<text x="4010.2" y="1735.4" font-size="22.8" font-family="'Liberation Serif', serif" fill="#111" text-anchor="middle">10/16/20/30</text>
<text x="4143" y="1735.4" font-size="22.8" font-family="'Liberation Serif', serif" font-weight="bold" fill="#111" text-anchor="middle">0.79/1.19</text>
<text x="4258.4" y="1735.4" font-size="22.8" font-family="'Liberation Serif', serif" font-weight="bold" fill="#111" text-anchor="middle">0.70/1.02</text>
<text x="4373.9" y="1735.4" font-size="22.8" font-family="'Liberation Serif', serif" font-weight="bold" fill="#111" text-anchor="middle">0.72/1.06</text>
<text x="4489.7" y="1735.4" font-size="22.8" font-family="'Liberation Serif', serif" fill="#111" text-anchor="middle">0.68/0.99</text>
<line x1="3766.5" y1="1894.5" x2="4520.7" y2="1894.5" stroke="#111" stroke-width="2.2"/>
<line x1="4128.5" y1="1940" x2="4507" y2="1940" stroke="#111" stroke-width="1.2"/>
<line x1="3766.5" y1="1986.5" x2="4520.7" y2="1986.5" stroke="#111" stroke-width="1.3"/>
<line x1="3766.5" y1="2027.9" x2="4520.7" y2="2027.9" stroke="#111" stroke-width="1.1" stroke-dasharray="11 6"/>
<line x1="3779.3" y1="2163.3" x2="4507" y2="2163.3" stroke="#111" stroke-width="1.2"/>
<line x1="3766.5" y1="2210.6" x2="4520.7" y2="2210.6" stroke="#111" stroke-width="2.2"/>
<text x="3783.8" y="1941.7" font-size="26.5" font-family="'Liberation Serif', serif" fill="#111">Method</text>
<text x="4049.9" y="1941.7" font-size="26.5" font-family="'Liberation Serif', serif" fill="#111" text-anchor="middle">Note</text>
<text x="4318" y="1924.8" font-size="26.5" font-family="'Liberation Serif', serif" fill="#111" text-anchor="middle" textLength="353.7" lengthAdjust="spacing">ADE<tspan font-size="18.55" dy="5.3">5</tspan><tspan dy="-5.3">/FDE</tspan><tspan font-size="18.55" dy="5.3">5</tspan><tspan dy="-5.3"> ↓    K = 5 Samples</tspan></text>
<text x="4182.6" y="1971" font-size="26.5" font-family="'Liberation Serif', serif" fill="#111" text-anchor="middle">2Ts</text>
<text x="4318" y="1971" font-size="26.5" font-family="'Liberation Serif', serif" fill="#111" text-anchor="middle">3Ts</text>
<text x="4453.2" y="1971" font-size="26.5" font-family="'Liberation Serif', serif" fill="#111" text-anchor="middle">4Ts</text>
<text x="3783.8" y="2017.9" font-size="26.5" font-family="'Liberation Serif', serif" fill="#111">AFormer-IT [<tspan fill="#4A7FB5">73</tspan>]</text>
<text x="4049.9" y="2017.9" font-size="26.5" font-family="'Liberation Serif', serif" fill="#111" text-anchor="middle">-</text>
<text x="4182.6" y="2017.9" font-size="26.5" font-family="'Liberation Serif', serif" fill="#111" text-anchor="middle">2.02/4.23</text>
<text x="4318" y="2017.9" font-size="26.5" font-family="'Liberation Serif', serif" fill="#111" text-anchor="middle">1.93/3.97</text>
<text x="4453.2" y="2017.9" font-size="26.5" font-family="'Liberation Serif', serif" fill="#111" text-anchor="middle">1.86/3.89</text>
<text x="3783.8" y="2050.6" font-size="26.5" font-family="'Liberation Serif', serif" fill="#111">AFormer-FLN</text>
<text x="4049.9" y="2050.6" font-size="26.5" font-family="'Liberation Serif', serif" fill="#111" text-anchor="middle">w/o WS</text>
<text x="4182.6" y="2050.6" font-size="26.5" font-family="'Liberation Serif', serif" fill="#111" text-anchor="middle">1.94/3.95</text>
<text x="4318" y="2050.6" font-size="26.5" font-family="'Liberation Serif', serif" fill="#111" text-anchor="middle">1.89/3.92</text>
<text x="4453.2" y="2050.6" font-size="26.5" font-family="'Liberation Serif', serif" fill="#111" text-anchor="middle">1.92/3.94</text>
<text x="3783.8" y="2082.3" font-size="26.5" font-family="'Liberation Serif', serif" fill="#111">AFormer-FLN</text>
<text x="4049.9" y="2082.3" font-size="26.5" font-family="'Liberation Serif', serif" fill="#111" text-anchor="middle">w/o TD</text>
<text x="4182.6" y="2082.3" font-size="26.5" font-family="'Liberation Serif', serif" fill="#111" text-anchor="middle">2.23/4.39</text>
<text x="4318" y="2082.3" font-size="26.5" font-family="'Liberation Serif', serif" fill="#111" text-anchor="middle">1.98/4.01</text>
<text x="4453.2" y="2082.3" font-size="26.5" font-family="'Liberation Serif', serif" fill="#111" text-anchor="middle">1.85/3.81</text>
<text x="3783.8" y="2115.8" font-size="26.5" font-family="'Liberation Serif', serif" fill="#111">AFormer-FLN</text>
<text x="4049.9" y="2115.8" font-size="26.5" font-family="'Liberation Serif', serif" fill="#111" text-anchor="middle">w/o IPE</text>
<text x="4182.6" y="2115.8" font-size="26.5" font-family="'Liberation Serif', serif" fill="#111" text-anchor="middle">2.13/4.33</text>
<text x="4318" y="2115.8" font-size="26.5" font-family="'Liberation Serif', serif" fill="#111" text-anchor="middle">2.02/4.07</text>
<text x="4453.2" y="2115.8" font-size="26.5" font-family="'Liberation Serif', serif" fill="#111" text-anchor="middle">1.95/3.98</text>
<text x="3783.8" y="2147.8" font-size="26.5" font-family="'Liberation Serif', serif" fill="#111">AFormer-FLN</text>
<text x="4049.9" y="2147.8" font-size="26.5" font-family="'Liberation Serif', serif" fill="#111" text-anchor="middle">w/o SLN</text>
<text x="4182.6" y="2147.8" font-size="26.5" font-family="'Liberation Serif', serif" fill="#111" text-anchor="middle">2.12/4.30</text>
<text x="4318" y="2147.8" font-size="26.5" font-family="'Liberation Serif', serif" fill="#111" text-anchor="middle">1.98/4.02</text>
<text x="4453.2" y="2147.8" font-size="26.5" font-family="'Liberation Serif', serif" fill="#111" text-anchor="middle">1.93/3.95</text>
<text x="3783.8" y="2194.4" font-size="26.5" font-family="'Liberation Serif', serif" fill="#111">AFormer-FLN</text>
<text x="4049.9" y="2194.4" font-size="26.5" font-family="'Liberation Serif', serif" fill="#111" text-anchor="middle">-</text>
<text x="4182.6" y="2194.4" font-size="26.5" font-family="'Liberation Serif', serif" fill="#111" text-anchor="middle">1.92/3.91</text>
<text x="4318" y="2194.4" font-size="26.5" font-family="'Liberation Serif', serif" fill="#111" text-anchor="middle">1.88/3.89</text>
<text x="4453.2" y="2194.4" font-size="26.5" font-family="'Liberation Serif', serif" fill="#111" text-anchor="middle">1.83/3.78</text>
</g>
<g id="chart3">
<rect x="3123.32" y="1561.23" width="573.073" height="569.875" fill="#fff"/>
<line x1="3123.3" x2="3123.3" y1="1561.23" y2="2131.1" stroke="#e4e4e4" stroke-width="0.7" stroke-dasharray="2.5 1.5"/>
<line x1="3162.5" x2="3162.5" y1="1561.23" y2="2131.1" stroke="#e4e4e4" stroke-width="0.7" stroke-dasharray="2.5 1.5"/>
<line x1="3201.6" x2="3201.6" y1="1561.23" y2="2131.1" stroke="#e4e4e4" stroke-width="0.7" stroke-dasharray="2.5 1.5"/>
<line x1="3240.8" x2="3240.8" y1="1561.23" y2="2131.1" stroke="#e4e4e4" stroke-width="0.7" stroke-dasharray="2.5 1.5"/>
<line x1="3279.9" x2="3279.9" y1="1561.23" y2="2131.1" stroke="#e4e4e4" stroke-width="0.7" stroke-dasharray="2.5 1.5"/>
<line x1="3319.1" x2="3319.1" y1="1561.23" y2="2131.1" stroke="#e4e4e4" stroke-width="0.7" stroke-dasharray="2.5 1.5"/>
<line x1="3358.2" x2="3358.2" y1="1561.23" y2="2131.1" stroke="#e4e4e4" stroke-width="0.7" stroke-dasharray="2.5 1.5"/>
<line x1="3397.4" x2="3397.4" y1="1561.23" y2="2131.1" stroke="#e4e4e4" stroke-width="0.7" stroke-dasharray="2.5 1.5"/>
<line x1="3436.5" x2="3436.5" y1="1561.23" y2="2131.1" stroke="#e4e4e4" stroke-width="0.7" stroke-dasharray="2.5 1.5"/>
<line x1="3475.7" x2="3475.7" y1="1561.23" y2="2131.1" stroke="#e4e4e4" stroke-width="0.7" stroke-dasharray="2.5 1.5"/>
<line x1="3514.8" x2="3514.8" y1="1561.23" y2="2131.1" stroke="#e4e4e4" stroke-width="0.7" stroke-dasharray="2.5 1.5"/>
<line x1="3554.0" x2="3554.0" y1="1561.23" y2="2131.1" stroke="#e4e4e4" stroke-width="0.7" stroke-dasharray="2.5 1.5"/>
<line x1="3593.1" x2="3593.1" y1="1561.23" y2="2131.1" stroke="#e4e4e4" stroke-width="0.7" stroke-dasharray="2.5 1.5"/>
<line x1="3632.3" x2="3632.3" y1="1561.23" y2="2131.1" stroke="#e4e4e4" stroke-width="0.7" stroke-dasharray="2.5 1.5"/>
<line x1="3671.4" x2="3671.4" y1="1561.23" y2="2131.1" stroke="#e4e4e4" stroke-width="0.7" stroke-dasharray="2.5 1.5"/>
<line x1="3123.32" x2="3696.39" y1="2126.6" y2="2126.6" stroke="#e4e4e4" stroke-width="0.7" stroke-dasharray="2.5 1.5"/>
<line x1="3123.32" x2="3696.39" y1="2035.9" y2="2035.9" stroke="#e4e4e4" stroke-width="0.7" stroke-dasharray="2.5 1.5"/>
<line x1="3123.32" x2="3696.39" y1="1945.2" y2="1945.2" stroke="#e4e4e4" stroke-width="0.7" stroke-dasharray="2.5 1.5"/>
<line x1="3123.32" x2="3696.39" y1="1854.5" y2="1854.5" stroke="#e4e4e4" stroke-width="0.7" stroke-dasharray="2.5 1.5"/>
<line x1="3123.32" x2="3696.39" y1="1763.7" y2="1763.7" stroke="#e4e4e4" stroke-width="0.7" stroke-dasharray="2.5 1.5"/>
<line x1="3123.32" x2="3696.39" y1="1673.0" y2="1673.0" stroke="#e4e4e4" stroke-width="0.7" stroke-dasharray="2.5 1.5"/>
<line x1="3123.32" x2="3696.39" y1="1582.3" y2="1582.3" stroke="#e4e4e4" stroke-width="0.7" stroke-dasharray="2.5 1.5"/>
<polyline points="3162.5,1800.0 3201.6,1954.3 3279.9,1981.5 3358.2,2013.2 3397.4,2031.4 3475.7,2031.4 3554.0,2058.6 3593.1,2076.7 3671.4,2085.8" fill="none" stroke="#9400D3" stroke-width="3.1" stroke-dasharray="10.5 4.6"/>
<circle cx="3162.5" cy="1800.0" r="3.7" fill="#9400D3"/>
<circle cx="3201.6" cy="1954.3" r="3.7" fill="#9400D3"/>
<circle cx="3279.9" cy="1981.5" r="3.7" fill="#9400D3"/>
<circle cx="3358.2" cy="2013.2" r="3.7" fill="#9400D3"/>
<circle cx="3397.4" cy="2031.4" r="3.7" fill="#9400D3"/>
<circle cx="3475.7" cy="2031.4" r="3.7" fill="#9400D3"/>
<circle cx="3554.0" cy="2058.6" r="3.7" fill="#9400D3"/>
<circle cx="3593.1" cy="2076.7" r="3.7" fill="#9400D3"/>
<circle cx="3671.4" cy="2085.8" r="3.7" fill="#9400D3"/>
<polyline points="3279.9,2031.4 3358.2,2049.5 3397.4,2067.7 3475.7,2072.2 3554.0,2072.2 3593.1,2085.8 3671.4,2103.9" fill="none" stroke="#DDA0DD" stroke-width="3.1" stroke-dasharray="10.5 4.6"/>
<circle cx="3279.9" cy="2031.4" r="3.7" fill="#DDA0DD"/>
<circle cx="3358.2" cy="2049.5" r="3.7" fill="#DDA0DD"/>
<circle cx="3397.4" cy="2067.7" r="3.7" fill="#DDA0DD"/>
<circle cx="3475.7" cy="2072.2" r="3.7" fill="#DDA0DD"/>
<circle cx="3554.0" cy="2072.2" r="3.7" fill="#DDA0DD"/>
<circle cx="3593.1" cy="2085.8" r="3.7" fill="#DDA0DD"/>
<circle cx="3671.4" cy="2103.9" r="3.7" fill="#DDA0DD"/>
<polyline points="3162.5,1586.8 3201.6,1709.3 3279.9,1750.1 3358.2,1845.4 3397.4,1854.5 3475.7,1868.1 3554.0,1918.0 3593.1,1927.0 3671.4,1927.0" fill="none" stroke="#1E90FF" stroke-width="3.1" stroke-dasharray="10.5 4.6"/>
<circle cx="3162.5" cy="1586.8" r="3.7" fill="#1E90FF"/>
<circle cx="3201.6" cy="1709.3" r="3.7" fill="#1E90FF"/>
<circle cx="3279.9" cy="1750.1" r="3.7" fill="#1E90FF"/>
<circle cx="3358.2" cy="1845.4" r="3.7" fill="#1E90FF"/>
<circle cx="3397.4" cy="1854.5" r="3.7" fill="#1E90FF"/>
<circle cx="3475.7" cy="1868.1" r="3.7" fill="#1E90FF"/>
<circle cx="3554.0" cy="1918.0" r="3.7" fill="#1E90FF"/>
<circle cx="3593.1" cy="1927.0" r="3.7" fill="#1E90FF"/>
<circle cx="3671.4" cy="1927.0" r="3.7" fill="#1E90FF"/>
<polyline points="3279.9,1831.8 3358.2,1890.8 3397.4,1899.8 3475.7,1908.9 3554.0,1927.0 3593.1,1936.1 3671.4,1954.3" fill="none" stroke="#87CEFA" stroke-width="3.1" stroke-dasharray="10.5 4.6"/>
<circle cx="3279.9" cy="1831.8" r="3.7" fill="#87CEFA"/>
<circle cx="3358.2" cy="1890.8" r="3.7" fill="#87CEFA"/>
<circle cx="3397.4" cy="1899.8" r="3.7" fill="#87CEFA"/>
<circle cx="3475.7" cy="1908.9" r="3.7" fill="#87CEFA"/>
<circle cx="3554.0" cy="1927.0" r="3.7" fill="#87CEFA"/>
<circle cx="3593.1" cy="1936.1" r="3.7" fill="#87CEFA"/>
<circle cx="3671.4" cy="1954.3" r="3.7" fill="#87CEFA"/>
<polygon points="3162.5,1860.1 3164.3,1865.6 3170.1,1865.6 3165.4,1869.0 3167.2,1874.5 3162.5,1871.1 3157.8,1874.5 3159.6,1869.0 3154.9,1865.6 3160.7,1865.6" fill="#DDA0DD"/>
<polygon points="3201.6,1991.6 3203.4,1997.1 3209.2,1997.1 3204.5,2000.6 3206.3,2006.1 3201.6,2002.7 3196.9,2006.1 3198.7,2000.6 3194.0,1997.1 3199.8,1997.1" fill="#DDA0DD"/>
<polygon points="3162.5,1674.1 3164.3,1679.6 3170.1,1679.6 3165.4,1683.0 3167.2,1688.6 3162.5,1685.2 3157.8,1688.6 3159.6,1683.0 3154.9,1679.6 3160.7,1679.6" fill="#87CEFA"/>
<polygon points="3201.6,1783.0 3203.4,1788.5 3209.2,1788.5 3204.5,1791.9 3206.3,1797.4 3201.6,1794.0 3196.9,1797.4 3198.7,1791.9 3194.0,1788.5 3199.8,1788.5" fill="#87CEFA"/>
<rect x="3123.32" y="1561.23" width="573.073" height="569.875" fill="none" stroke="#444" stroke-width="1.1"/>
<line x1="3123.3" x2="3123.3" y1="2131.1" y2="2134.6" stroke="#333" stroke-width="1"/>
<text x="3123.32" y="2151.57" font-size="16.9" font-family="'DejaVu Sans', sans-serif" fill="#1a1a1a" text-anchor="middle">2</text>
<line x1="3162.5" x2="3162.5" y1="2131.1" y2="2134.6" stroke="#333" stroke-width="1"/>
<text x="3162.47" y="2151.57" font-size="16.9" font-family="'DejaVu Sans', sans-serif" fill="#1a1a1a" text-anchor="middle">4</text>
<line x1="3201.6" x2="3201.6" y1="2131.1" y2="2134.6" stroke="#333" stroke-width="1"/>
<text x="3201.62" y="2151.57" font-size="16.9" font-family="'DejaVu Sans', sans-serif" fill="#1a1a1a" text-anchor="middle">6</text>
<line x1="3240.8" x2="3240.8" y1="2131.1" y2="2134.6" stroke="#333" stroke-width="1"/>
<text x="3240.78" y="2151.57" font-size="16.9" font-family="'DejaVu Sans', sans-serif" fill="#1a1a1a" text-anchor="middle">8</text>
<line x1="3279.9" x2="3279.9" y1="2131.1" y2="2134.6" stroke="#333" stroke-width="1"/>
<text x="3279.93" y="2151.57" font-size="16.9" font-family="'DejaVu Sans', sans-serif" fill="#1a1a1a" text-anchor="middle">10</text>
<line x1="3319.1" x2="3319.1" y1="2131.1" y2="2134.6" stroke="#333" stroke-width="1"/>
<text x="3319.08" y="2151.57" font-size="16.9" font-family="'DejaVu Sans', sans-serif" fill="#1a1a1a" text-anchor="middle">12</text>
<line x1="3358.2" x2="3358.2" y1="2131.1" y2="2134.6" stroke="#333" stroke-width="1"/>
<text x="3358.23" y="2151.57" font-size="16.9" font-family="'DejaVu Sans', sans-serif" fill="#1a1a1a" text-anchor="middle">14</text>
<line x1="3397.4" x2="3397.4" y1="2131.1" y2="2134.6" stroke="#333" stroke-width="1"/>
<text x="3397.38" y="2151.57" font-size="16.9" font-family="'DejaVu Sans', sans-serif" fill="#1a1a1a" text-anchor="middle">16</text>
<line x1="3436.5" x2="3436.5" y1="2131.1" y2="2134.6" stroke="#333" stroke-width="1"/>
<text x="3436.53" y="2151.57" font-size="16.9" font-family="'DejaVu Sans', sans-serif" fill="#1a1a1a" text-anchor="middle">18</text>
<line x1="3475.7" x2="3475.7" y1="2131.1" y2="2134.6" stroke="#333" stroke-width="1"/>
<text x="3475.69" y="2151.57" font-size="16.9" font-family="'DejaVu Sans', sans-serif" fill="#1a1a1a" text-anchor="middle">20</text>
<line x1="3514.8" x2="3514.8" y1="2131.1" y2="2134.6" stroke="#333" stroke-width="1"/>
<text x="3514.84" y="2151.57" font-size="16.9" font-family="'DejaVu Sans', sans-serif" fill="#1a1a1a" text-anchor="middle">22</text>
<line x1="3554.0" x2="3554.0" y1="2131.1" y2="2134.6" stroke="#333" stroke-width="1"/>
<text x="3553.99" y="2151.57" font-size="16.9" font-family="'DejaVu Sans', sans-serif" fill="#1a1a1a" text-anchor="middle">24</text>
<line x1="3593.1" x2="3593.1" y1="2131.1" y2="2134.6" stroke="#333" stroke-width="1"/>
<text x="3593.14" y="2151.57" font-size="16.9" font-family="'DejaVu Sans', sans-serif" fill="#1a1a1a" text-anchor="middle">26</text>
<line x1="3632.3" x2="3632.3" y1="2131.1" y2="2134.6" stroke="#333" stroke-width="1"/>
<text x="3632.29" y="2151.57" font-size="16.9" font-family="'DejaVu Sans', sans-serif" fill="#1a1a1a" text-anchor="middle">28</text>
<line x1="3671.4" x2="3671.4" y1="2131.1" y2="2134.6" stroke="#333" stroke-width="1"/>
<text x="3671.45" y="2151.57" font-size="16.9" font-family="'DejaVu Sans', sans-serif" fill="#1a1a1a" text-anchor="middle">30</text>
<line x1="3119.82" x2="3123.32" y1="2126.6" y2="2126.6" stroke="#333" stroke-width="1"/>
<text x="3116.32" y="2132.83" font-size="16.9" font-family="'DejaVu Sans', sans-serif" fill="#1a1a1a" text-anchor="end">0.6</text>
<line x1="3119.82" x2="3123.32" y1="2035.9" y2="2035.9" stroke="#333" stroke-width="1"/>
<text x="3116.32" y="2042.11" font-size="16.9" font-family="'DejaVu Sans', sans-serif" fill="#1a1a1a" text-anchor="end">0.8</text>
<line x1="3119.82" x2="3123.32" y1="1945.2" y2="1945.2" stroke="#333" stroke-width="1"/>
<text x="3116.32" y="1951.39" font-size="16.9" font-family="'DejaVu Sans', sans-serif" fill="#1a1a1a" text-anchor="end">1.0</text>
<line x1="3119.82" x2="3123.32" y1="1854.5" y2="1854.5" stroke="#333" stroke-width="1"/>
<text x="3116.32" y="1860.67" font-size="16.9" font-family="'DejaVu Sans', sans-serif" fill="#1a1a1a" text-anchor="end">1.2</text>
<line x1="3119.82" x2="3123.32" y1="1763.7" y2="1763.7" stroke="#333" stroke-width="1"/>
<text x="3116.32" y="1769.95" font-size="16.9" font-family="'DejaVu Sans', sans-serif" fill="#1a1a1a" text-anchor="end">1.4</text>
<line x1="3119.82" x2="3123.32" y1="1673.0" y2="1673.0" stroke="#333" stroke-width="1"/>
<text x="3116.32" y="1679.23" font-size="16.9" font-family="'DejaVu Sans', sans-serif" fill="#1a1a1a" text-anchor="end">1.6</text>
<line x1="3119.82" x2="3123.32" y1="1582.3" y2="1582.3" stroke="#333" stroke-width="1"/>
<text x="3116.32" y="1588.51" font-size="16.9" font-family="'DejaVu Sans', sans-serif" fill="#1a1a1a" text-anchor="end">1.8</text>
<text x="3409.86" y="2171.4" font-size="18.4" font-family="'DejaVu Sans', sans-serif" fill="#1a1a1a" text-anchor="middle">Observation Length (Timestep)</text>
<text transform="translate(3081.11,1845.85) rotate(-90)" font-family="'DejaVu Sans', sans-serif" font-size="18.2" fill="#1a1a1a" text-anchor="middle">ADE<tspan font-size="12.7" dy="3.5">6</tspan><tspan dy="-3.5">/FDE</tspan><tspan font-size="12.7" dy="3.5">6</tspan></text>
<rect x="3233.97" y="1567.62" width="171.41" height="118.324" rx="2.5" fill="#fff" fill-opacity="0.85" stroke="#ccc" stroke-width="0.8"/>
<line x1="3241" x2="3263.39" y1="1579.14" y2="1579.14" stroke="#9400D3" stroke-width="2.4" stroke-dasharray="8.5 3"/>
<circle cx="3251.88" cy="1579.14" r="3.2" fill="#9400D3"/>
<text x="3272.98" y="1583.54" font-size="12.6" font-family="'DejaVu Sans', sans-serif" fill="#1a1a1a">HiVT-64-IT (ADE<tspan font-size="8.8" dy="2.4">6</tspan><tspan dy="-2.4">)</tspan></text>
<line x1="3241" x2="3263.39" y1="1597.68" y2="1597.68" stroke="#DDA0DD" stroke-width="2.4" stroke-dasharray="8.5 3"/>
<circle cx="3251.88" cy="1597.68" r="3.2" fill="#DDA0DD"/>
<text x="3272.98" y="1602.08" font-size="12.6" font-family="'DejaVu Sans', sans-serif" fill="#1a1a1a">HiVT-64-FLN (ADE<tspan font-size="8.8" dy="2.4">6</tspan><tspan dy="-2.4">)</tspan></text>
<line x1="3241" x2="3263.39" y1="1616.23" y2="1616.23" stroke="#1E90FF" stroke-width="2.4" stroke-dasharray="8.5 3"/>
<circle cx="3251.88" cy="1616.23" r="3.2" fill="#1E90FF"/>
<text x="3272.98" y="1620.63" font-size="12.6" font-family="'DejaVu Sans', sans-serif" fill="#1a1a1a">HiVT-64-IT (FDE<tspan font-size="8.8" dy="2.4">6</tspan><tspan dy="-2.4">)</tspan></text>
<line x1="3241" x2="3263.39" y1="1634.78" y2="1634.78" stroke="#87CEFA" stroke-width="2.4" stroke-dasharray="8.5 3"/>
<circle cx="3251.88" cy="1634.78" r="3.2" fill="#87CEFA"/>
<text x="3272.98" y="1639.18" font-size="12.6" font-family="'DejaVu Sans', sans-serif" fill="#1a1a1a">HiVT-64-FLN (FDE<tspan font-size="8.8" dy="2.4">6</tspan><tspan dy="-2.4">)</tspan></text>
<polygon points="3251.9,1646.0 3253.7,1651.5 3259.5,1651.5 3254.8,1654.9 3256.6,1660.4 3251.9,1657.0 3247.2,1660.4 3249.0,1654.9 3244.3,1651.5 3250.1,1651.5" fill="#DDA0DD"/>
<text x="3272.98" y="1658.37" font-size="12.6" font-family="'DejaVu Sans', sans-serif" fill="#1a1a1a">HiVT-64-FLN<tspan font-size="8.5" dy="-4">*</tspan><tspan dy="4"> </tspan>(ADE<tspan font-size="8.8" dy="2.4">6</tspan><tspan dy="-2.4">)</tspan></text>
<polygon points="3251.9,1665.8 3253.7,1671.3 3259.5,1671.3 3254.8,1674.7 3256.6,1680.3 3251.9,1676.9 3247.2,1680.3 3249.0,1674.7 3244.3,1671.3 3250.1,1671.3" fill="#87CEFA"/>
<text x="3272.98" y="1678.2" font-size="12.6" font-family="'DejaVu Sans', sans-serif" fill="#1a1a1a">HiVT-64-FLN<tspan font-size="8.5" dy="-4">*</tspan><tspan dy="4"> </tspan>(FDE<tspan font-size="8.8" dy="2.4">6</tspan><tspan dy="-2.4">)</tspan></text>
<rect x="3451.43" y="1563.15" width="243.044" height="291.014" fill="#fff"/>
<line x1="3455.27" x2="3693.19" y1="1569.54" y2="1569.54" stroke="#000" stroke-width="3.3"/>
<line x1="3455.27" x2="3693.19" y1="1617.51" y2="1617.51" stroke="#000" stroke-width="3.3"/>
<line x1="3455.27" x2="3693.19" y1="1847.13" y2="1847.13" stroke="#000" stroke-width="3.3"/>
<text x="3594.06" y="1600.24" font-size="23.3" font-family="'Liberation Serif', serif" fill="#111" text-anchor="middle" textLength="163" lengthAdjust="spacing">ΔADE<tspan font-size="16.31" dy="4.66">6</tspan><tspan dy="-4.66">/ΔFDE</tspan><tspan font-size="16.31" dy="4.66">6</tspan><tspan dy="-4.66" font-size="29.125"> ↓</tspan></text>
<text x="3473.18" y="1644.37" font-size="23.3" font-family="'Liberation Serif', serif" fill="#111">4Ts*</text>
<text x="3571.67" y="1644.37" font-size="23.3" font-family="'Liberation Serif', serif" fill="#111" textLength="103.6" lengthAdjust="spacing">-0.15/-0.21</text>
<text x="3473.18" y="1667.98" font-size="23.3" font-family="'Liberation Serif', serif" fill="#111">6Ts*</text>
<text x="3571.67" y="1667.98" font-size="23.3" font-family="'Liberation Serif', serif" fill="#111" textLength="103.6" lengthAdjust="spacing">-0.10/-0.18</text>
<text x="3473.18" y="1691.58" font-size="23.3" font-family="'Liberation Serif', serif" fill="#111">10Ts</text>
<text x="3571.67" y="1691.58" font-size="23.3" font-family="'Liberation Serif', serif" fill="#111" textLength="103.6" lengthAdjust="spacing">-0.11/-0.18</text>
<text x="3473.18" y="1715.18" font-size="23.3" font-family="'Liberation Serif', serif" fill="#111">14Ts</text>
<text x="3571.67" y="1715.18" font-size="23.3" font-family="'Liberation Serif', serif" fill="#111" textLength="103.6" lengthAdjust="spacing">-0.08/-0.18</text>
<text x="3473.18" y="1738.78" font-size="23.3" font-family="'Liberation Serif', serif" fill="#111">16Ts</text>
<text x="3571.67" y="1738.78" font-size="23.3" font-family="'Liberation Serif', serif" fill="#111" textLength="103.6" lengthAdjust="spacing">-0.08/-0.10</text>
<text x="3473.18" y="1762.38" font-size="23.3" font-family="'Liberation Serif', serif" fill="#111">20Ts</text>
<text x="3571.67" y="1762.38" font-size="23.3" font-family="'Liberation Serif', serif" fill="#111" textLength="103.6" lengthAdjust="spacing">-0.09/-0.10</text>
<text x="3473.18" y="1785.98" font-size="23.3" font-family="'Liberation Serif', serif" fill="#111">24Ts</text>
<text x="3571.67" y="1785.98" font-size="23.3" font-family="'Liberation Serif', serif" fill="#111" textLength="103.6" lengthAdjust="spacing">-0.03/-0.09</text>
<text x="3473.18" y="1809.58" font-size="23.3" font-family="'Liberation Serif', serif" fill="#111">26Ts</text>
<text x="3571.67" y="1809.58" font-size="23.3" font-family="'Liberation Serif', serif" fill="#111" textLength="103.6" lengthAdjust="spacing">-0.02/-0.02</text>
<text x="3473.18" y="1833.18" font-size="23.3" font-family="'Liberation Serif', serif" fill="#111">30Ts</text>
<text x="3571.67" y="1833.18" font-size="23.3" font-family="'Liberation Serif', serif" fill="#111" textLength="103.6" lengthAdjust="spacing">-0.04/-0.06</text>
</g>
</svg>
</body></html>
